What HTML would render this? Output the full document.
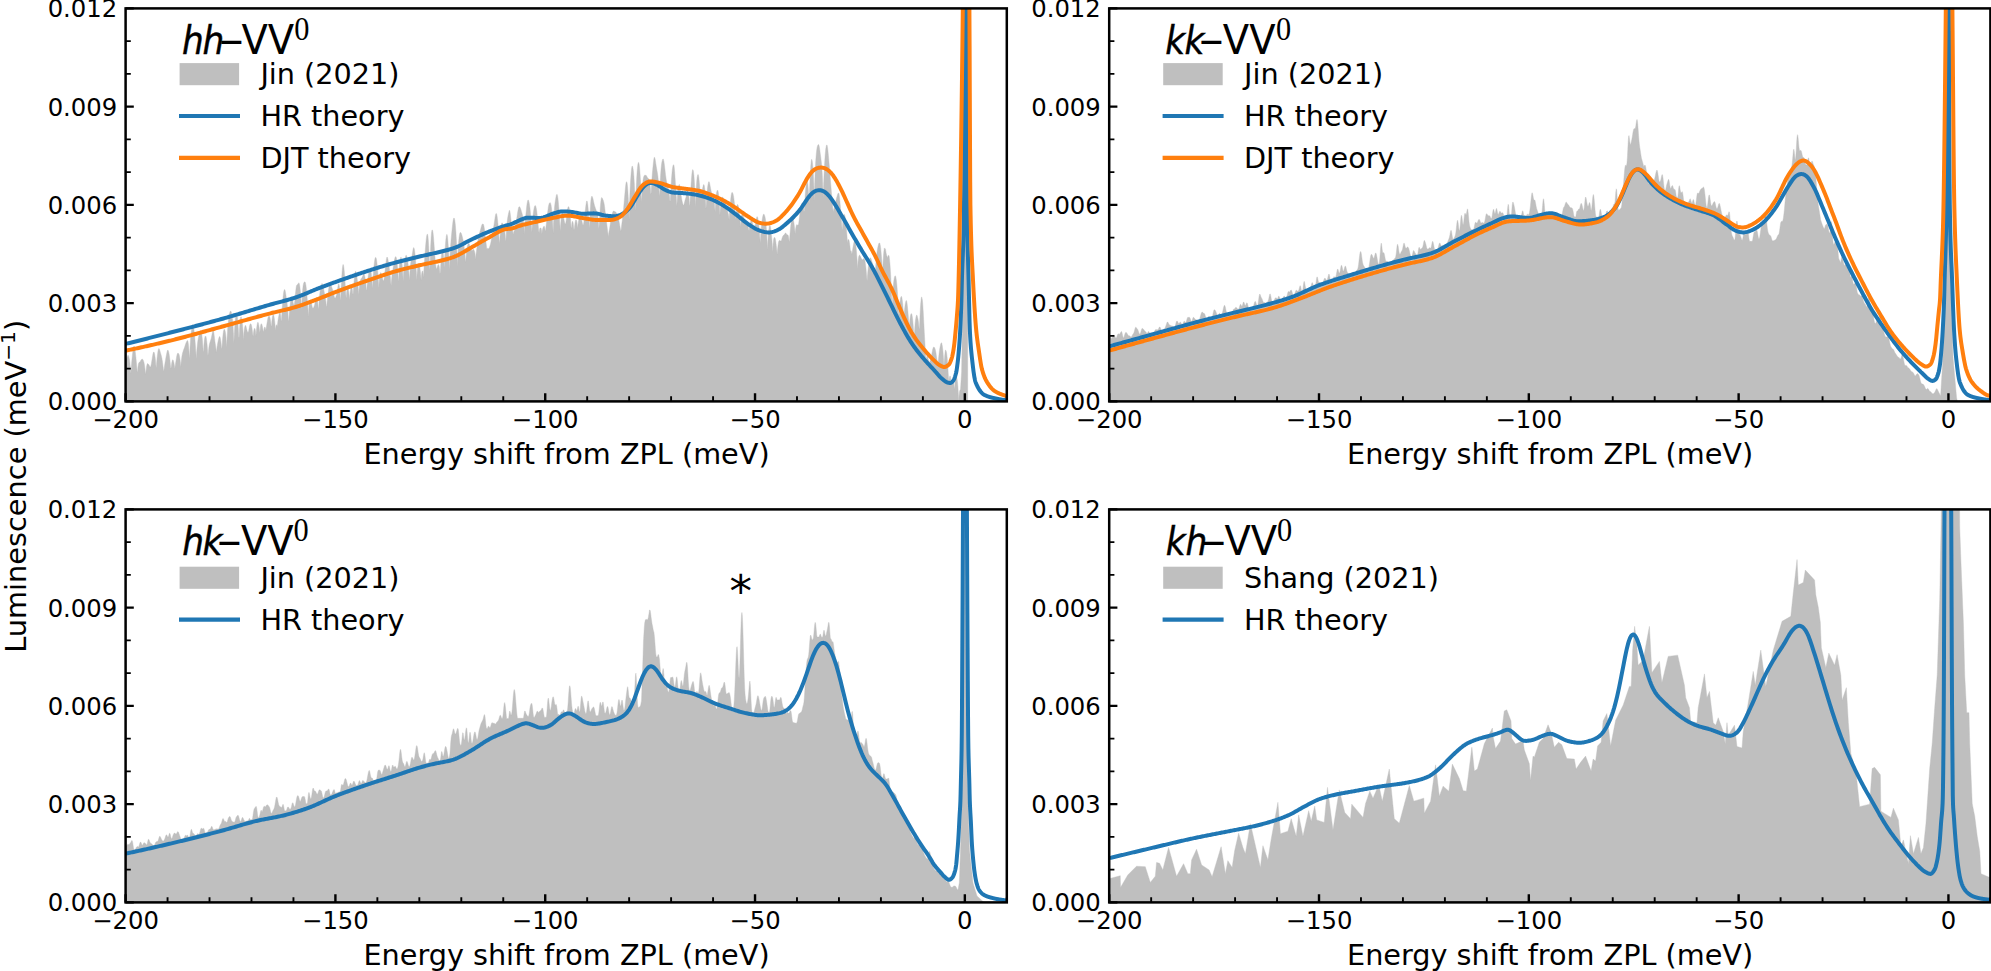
<!DOCTYPE html>
<html lang="en"><head><meta charset="utf-8"><title>Luminescence lineshapes</title>
<style>html,body{margin:0;padding:0;background:#fff}svg{display:block}text{font-family:'DejaVu Sans','Liberation Sans',sans-serif;fill:#000}</style></head><body>
<svg width="1991" height="971" viewBox="0 0 1991 971">
<rect width="1991" height="971" fill="#fff"/>
<defs>
<clipPath id="c00"><rect x="125.6" y="8.4" width="881.2" height="393"/></clipPath>
<clipPath id="c01"><rect x="1109.2" y="8.4" width="881.2" height="393"/></clipPath>
<clipPath id="c10"><rect x="125.6" y="509.4" width="881.2" height="393"/></clipPath>
<clipPath id="c11"><rect x="1109.2" y="509.4" width="881.2" height="393"/></clipPath>
</defs>
<g clip-path="url(#c00)">
<path d="M125.51,360.62L125.91,360.29L126.31,359.57L126.71,358.45L127.11,357.14L127.51,355.98L127.91,355.36L128.31,355.54L128.71,356.47L129.11,357.99L129.51,360L129.91,362.77L130.31,366.85L130.71,373.45L131.11,370.08L131.51,364.52L131.91,359.94L132.31,356.01L132.71,352.65L133.11,349.84L133.51,347.61L133.91,346.32L134.31,346.41L134.71,347.94L135.11,350.6L135.51,353.91L135.91,357.55L136.31,361.49L136.71,365.9L137.11,371.2L137.51,371.63L137.91,367.4L138.31,364.66L138.71,363.02L139.11,362.4L139.51,362.33L139.91,362.11L140.31,361.43L140.71,360.59L141.11,359.94L141.51,359.5L141.91,359.19L142.31,359.1L142.71,359.38L143.11,360.02L143.51,360.93L143.91,362.22L144.31,364.1L144.71,366.66L145.11,369.89L145.51,374.2L145.91,372.02L146.31,368.4L146.71,365.87L147.11,364.25L147.51,363.58L147.91,363.65L148.31,364.08L148.71,364.6L149.11,365.2L149.51,365.99L149.91,366.78L150.31,367.11L150.71,366.48L151.11,364.94L151.51,362.79L151.91,360.32L152.31,357.73L152.71,355.28L153.11,353.33L153.51,352.17L153.91,352L154.31,352.86L154.71,354.64L155.11,357.19L155.51,360.64L155.91,365.53L156.31,368.11L156.71,362.11L157.11,357.84L157.51,354.4L157.91,351.6L158.31,349.62L158.71,348.63L159.11,348.65L159.51,349.48L159.91,350.83L160.31,352.29L160.71,353.63L161.11,354.96L161.51,356.53L161.91,358.45L162.31,360.82L162.71,363.69L163.11,366.92L163.51,370.49L163.91,370.85L164.31,367.36L164.71,364.7L165.11,362.27L165.51,359.89L165.91,357.6L166.31,355.45L166.71,353.39L167.11,351.56L167.51,350.36L167.91,350.11L168.31,350.78L168.71,352.16L169.11,354.18L169.51,356.85L169.91,360.09L170.31,363.85L170.71,368.36L171.11,367.84L171.51,364.49L171.91,362.09L172.31,360.49L172.71,359.81L173.11,360.08L173.51,361.15L173.91,362.8L174.31,365.05L174.71,368.45L175.11,366.58L175.51,363.75L175.91,361.28L176.31,358.76L176.71,356.33L177.11,354.44L177.51,353.4L177.91,353.11L178.31,353.29L178.71,353.79L179.11,354.66L179.51,356.2L179.91,358.63L180.31,362.01L180.71,366.94L181.11,362.63L181.51,359.13L181.91,356.37L182.31,354.23L182.71,352.55L183.11,351.19L183.51,350.06L183.91,349.05L184.31,348.02L184.71,346.84L185.11,345.56L185.51,344.31L185.91,343.23L186.31,342.3L186.71,341.44L187.11,340.73L187.51,340.55L187.91,341.36L188.31,343.52L188.71,347.34L189.11,353.51L189.51,358.44L189.91,349.75L190.31,343.1L190.71,337.51L191.11,333.1L191.51,329.91L191.91,327.58L192.31,325.72L192.71,324.56L193.11,324.67L193.51,326.33L193.91,329.22L194.31,332.85L194.71,337L195.11,341.68L195.51,346.94L195.91,352.99L196.31,358.69L196.71,351.94L197.11,347.24L197.51,343.43L197.91,340.49L198.31,338.27L198.71,336.36L199.11,334.41L199.51,332.57L199.91,331.22L200.31,330.56L200.71,330.57L201.11,331.3L201.51,332.85L201.91,335.31L202.31,338.84L202.71,343.68L203.11,350.46L203.51,352.06L203.91,345L204.31,340.6L204.71,337.9L205.11,336.44L205.51,335.96L205.91,336.47L206.31,338.12L206.71,340.96L207.11,344.87L207.51,349.64L207.91,355.45L208.31,352.92L208.71,348.76L209.11,345.81L209.51,343.79L209.91,342.43L210.31,341.29L210.71,340.07L211.11,338.71L211.51,337.07L211.91,335.07L212.31,332.83L212.71,330.88L213.11,330.03L213.51,330.84L213.91,333.2L214.31,336.43L214.71,339.73L215.11,342.64L215.51,345.29L215.91,348.2L216.31,352.27L216.71,349.56L217.11,346.67L217.51,344.19L217.91,341.98L218.31,340.14L218.71,338.62L219.11,337.35L219.51,336.55L219.91,336.68L220.31,338.07L220.71,340.57L221.11,343.79L221.51,347.73L221.91,348.47L222.31,342.42L222.71,337.53L223.11,333.75L223.51,331.14L223.91,329.7L224.31,329.3L224.71,329.73L225.11,330.9L225.51,333.09L225.91,336.61L226.31,341.56L226.71,347.02L227.11,337.98L227.51,331.29L227.91,326L228.31,321.86L228.71,318.55L229.11,315.87L229.51,313.72L229.91,312.13L230.31,311.2L230.71,311.07L231.11,311.69L231.51,312.93L231.91,314.8L232.31,317.58L232.71,321.62L233.11,327.21L233.51,334.8L233.91,342.96L234.31,333.85L234.71,327.41L235.11,322.12L235.51,317.93L235.91,315.04L236.31,313.69L236.71,313.85L237.11,315.34L237.51,318.19L237.91,322.68L238.31,328.91L238.71,337.1L239.11,337.71L239.51,329.6L239.91,323.79L240.31,319.67L240.71,317.32L241.11,316.83L241.51,317.9L241.91,320.14L242.31,323.28L242.71,327.32L243.11,332.66L243.51,339.73L243.91,332.92L244.31,329.43L244.71,327.21L245.11,325.78L245.51,325.29L245.91,325.96L246.31,327.51L246.71,329.28L247.11,330.83L247.51,331.99L247.91,332.56L248.31,332.15L248.71,330.57L249.11,328.29L249.51,326.12L249.91,324.65L250.31,323.91L250.71,323.75L251.11,324.25L251.51,325.55L251.91,327.62L252.31,330.38L252.71,334.08L253.11,336.62L253.51,332.51L253.91,330.1L254.31,328.65L254.71,328.22L255.11,329.12L255.51,331.53L255.91,336.07L256.31,331.6L256.71,327.57L257.11,324.69L257.51,322.88L257.91,322.27L258.31,322.92L258.71,324.71L259.11,327.36L259.51,330.75L259.91,332.81L260.31,327.79L260.71,324.91L261.11,323.75L261.51,323.89L261.91,324.74L262.31,326.02L262.71,327.92L263.11,330.72L263.51,331.85L263.91,329.43L264.31,327.84L264.71,327.09L265.11,327.37L265.51,328.74L265.91,330.25L266.31,327.18L266.71,324.88L267.11,322.57L267.51,320.13L267.91,318.03L268.31,316.71L268.71,316.16L269.11,316.09L269.51,316.44L269.91,317.46L270.31,319.42L270.71,322.32L271.11,326.36L271.51,325.58L271.91,320.77L272.31,317.46L272.71,315.46L273.11,314.63L273.51,314.79L273.91,316L274.31,318.38L274.71,321.78L275.11,325.85L275.51,330.22L275.91,326.66L276.31,324.99L276.71,324.64L277.11,326.38L277.51,324.47L277.91,320.95L278.31,318.42L278.71,316.3L279.11,314.35L279.51,312.74L279.91,312.04L280.31,312.9L280.71,315.77L281.11,321.37L281.51,319.46L281.91,312.58L282.31,306.72L282.71,301.41L283.11,296.76L283.51,293.19L283.91,290.88L284.31,289.72L284.71,289.57L285.11,290.49L285.51,292.45L285.91,295.04L286.31,297.74L286.71,300.45L287.11,303.51L287.51,307.41L287.91,312.46L288.31,318.85L288.71,321.6L289.11,315.38L289.51,310.83L289.91,306.97L290.31,303.59L290.71,300.84L291.11,298.98L291.51,298.04L291.91,297.95L292.31,298.71L292.71,300.32L293.11,302.49L293.51,304.48L293.91,305.34L294.31,304.41L294.71,301.59L295.11,297.48L295.51,293.07L295.91,289.24L296.31,286.58L296.71,285.16L297.11,284.67L297.51,284.53L297.91,284.14L298.31,283.39L298.71,282.82L299.11,283.13L299.51,284.61L299.91,287.19L300.31,290.7L300.71,295.16L301.11,300.91L301.51,309.38L301.91,302.79L302.31,294.73L302.71,289.16L303.11,285.65L303.51,283.72L303.91,282.71L304.31,282.12L304.71,281.85L305.11,282.08L305.51,283.1L305.91,285.17L306.31,288.34L306.71,292.43L307.11,297.27L307.51,302.77L307.91,308.87L308.31,316.49L308.71,309.66L309.11,304.77L309.51,301.75L309.91,300.35L310.31,300.12L310.71,300.66L311.11,301.82L311.51,303.51L311.91,305.49L312.31,307.23L312.71,308.22L313.11,308.3L313.51,307.68L313.91,306.75L314.31,305.69L314.71,304.3L315.11,302.44L315.51,300.4L315.91,298.75L316.31,297.78L316.71,297.65L317.11,298.55L317.51,300.62L317.91,303.93L318.31,308.77L318.71,307.37L319.11,301.57L319.51,296.68L319.91,292.76L320.31,289.73L320.71,287.31L321.11,285.33L321.51,283.97L321.91,283.43L322.31,283.79L322.71,284.91L323.11,286.55L323.51,288.44L323.91,290.47L324.31,292.53L324.71,294.52L325.11,296.55L325.51,298.93L325.91,301.93L326.31,305.83L326.71,306.81L327.11,302.33L327.51,298.48L327.91,294.88L328.31,291.52L328.71,288.59L329.11,286.38L329.51,285.02L329.91,284.4L330.31,284.32L330.71,284.7L331.11,285.45L331.51,286.47L331.91,287.66L332.31,288.84L332.71,289.95L333.11,291.25L333.51,293.01L333.91,294.99L334.31,296.74L334.71,297.86L335.11,298.18L335.51,297.71L335.91,296.75L336.31,295.56L336.71,294.16L337.11,292.2L337.51,289.56L337.91,286.74L338.31,284.56L338.71,283.71L339.11,284.58L339.51,287.42L339.91,292.47L340.31,300.47L340.71,296.8L341.11,288.75L341.51,281.2L341.91,274.39L342.31,269.06L342.71,265.67L343.11,264.39L343.51,265.16L343.91,267.79L344.31,271.94L344.71,277.22L345.11,283.14L345.51,289.26L345.91,295.56L346.31,298.31L346.71,292.12L347.11,289.04L347.51,287.95L347.91,288.13L348.31,289.24L348.71,291.47L349.11,295.16L349.51,299.85L349.91,294.52L350.31,291.16L350.71,288.8L351.11,287.25L351.51,286.6L351.91,287.14L352.31,289.24L352.71,293.55L353.11,294.23L353.51,288.21L353.91,283.25L354.31,278.83L354.71,275.18L355.11,272.63L355.51,271.38L355.91,271.54L356.31,272.97L356.71,275.34L357.11,278.25L357.51,281.43L357.91,284.87L358.31,288.89L358.71,294.78L359.11,289.28L359.51,285.6L359.91,282.92L360.31,280.94L360.71,279.55L361.11,278.71L361.51,278.21L361.91,277.78L362.31,277.11L362.71,276.09L363.11,274.95L363.51,274.12L363.91,273.97L364.31,274.58L364.71,275.89L365.11,277.91L365.51,280.68L365.91,284.33L366.31,289.41L366.71,290.3L367.11,285.72L367.51,282.22L367.91,278.86L368.31,275.55L368.71,272.71L369.11,270.69L369.51,269.46L369.91,268.91L370.31,269.05L370.71,270.16L371.11,272.35L371.51,275.71L371.91,280.54L372.31,288.21L372.71,283.82L373.11,277L373.51,271.44L373.91,266.74L374.31,262.96L374.71,260.15L375.11,258.31L375.51,257.41L375.91,257.49L376.31,258.64L376.71,260.94L377.11,264.36L377.51,268.72L377.91,273.89L378.31,279.93L378.71,287.98L379.11,282.7L379.51,277.82L379.91,274.81L380.31,273.1L380.71,272.6L381.11,273.22L381.51,274.62L381.91,276.27L382.31,277.86L382.71,279.28L383.11,280.4L383.51,280.82L383.91,279.99L384.31,277.67L384.71,274.15L385.11,270.1L385.51,266.23L385.91,262.82L386.31,259.94L386.71,257.85L387.11,257.04L387.51,257.63L387.91,259.29L388.31,261.6L388.71,264.23L389.11,266.93L389.51,269.67L389.91,272.79L390.31,276.83L390.71,282.13L391.11,285.54L391.51,280.23L391.91,276.35L392.31,273.15L392.71,270.47L393.11,268.1L393.51,265.77L393.91,263.3L394.31,260.86L394.71,258.84L395.11,257.46L395.51,256.76L395.91,256.81L396.31,257.8L396.71,259.84L397.11,262.93L397.51,267.16L397.91,272.89L398.31,281.23L398.71,277.75L399.11,270.22L399.51,264.82L399.91,261.13L400.31,258.79L400.71,257.48L401.11,257.3L401.51,258.69L401.91,261.76L402.31,266.21L402.71,272.04L403.11,280.79L403.51,274.13L403.91,267.4L404.31,263.08L404.71,260.25L405.11,258.16L405.51,256.5L405.91,255.45L406.31,255.34L406.71,256.2L407.11,257.74L407.51,259.8L407.91,262.56L408.31,266.23L408.71,270.62L409.11,275.62L409.51,280.15L409.91,272.69L410.31,267.41L410.71,263.32L411.11,260.29L411.51,258.09L411.91,256.21L412.31,254.08L412.71,251.57L413.11,249.19L413.51,247.74L413.91,247.68L414.31,249.01L414.71,251.52L415.11,255.12L415.51,259.75L415.91,265.26L416.31,271.62L416.71,279.97L417.11,274.09L417.51,269.08L417.91,265.79L418.31,264.01L418.71,263.54L419.11,264.15L419.51,265.67L419.91,268.08L420.31,271.26L420.71,275.05L421.11,280.37L421.51,275.04L421.91,272.07L422.31,270.84L422.71,271.25L423.11,273.56L423.51,277.16L423.91,269.95L424.31,263.71L424.71,257.8L425.11,252.28L425.51,247.19L425.91,242.6L426.31,238.68L426.71,235.75L427.11,234.14L427.51,234.14L427.91,236.03L428.31,240.09L428.71,246.42L429.11,254.99L429.51,266.22L429.91,269.85L430.31,255.91L430.71,245.61L431.11,237.98L431.51,232.95L431.91,230.38L432.31,229.84L432.71,230.89L433.11,233.37L433.51,237.26L433.91,242.31L434.31,247.95L434.71,253.59L435.11,258.78L435.51,263.18L435.91,266.48L436.31,268.44L436.71,268.8L437.11,267.85L437.51,266.34L437.91,265.08L438.31,264.59L438.71,264.94L439.11,266.12L439.51,268.64L439.91,273.46L440.31,272.6L440.71,265.8L441.11,259.91L441.51,255.11L441.91,251.82L442.31,250.16L442.71,250.15L443.11,251.94L443.51,255.98L443.91,262.99L444.31,267.61L444.71,257.21L445.11,249.5L445.51,243.54L445.91,239.14L446.31,236.13L446.71,234.53L447.11,234.63L447.51,236.77L447.91,240.94L448.31,246.66L448.71,253.61L449.11,262.03L449.51,269.6L449.91,258.39L450.31,250.6L450.71,244.53L451.11,239.6L451.51,235.26L451.91,231.14L452.31,227.15L452.71,223.51L453.11,220.62L453.51,218.75L453.91,217.96L454.31,218.29L454.71,219.85L455.11,222.69L455.51,226.81L455.91,232.15L456.31,238.65L456.71,246.32L457.11,255.53L457.51,266.84L457.91,254.41L458.31,246.74L458.71,241.18L459.11,237.2L459.51,234.51L459.91,232.98L460.31,232.43L460.71,232.56L461.11,233.11L461.51,233.98L461.91,235.22L462.31,236.76L462.71,238.48L463.11,240.33L463.51,242.42L463.91,244.91L464.31,247.92L464.71,251.6L465.11,256.13L465.51,262.28L465.91,259.18L466.31,253.83L466.71,250.02L467.11,247.34L467.51,245.59L467.91,244.49L468.31,243.72L468.71,243.26L469.11,243.5L469.51,244.67L469.91,246.41L470.31,248.02L470.71,249.09L471.11,249.74L471.51,250.28L471.91,250.62L472.31,250.54L472.71,249.98L473.11,249.4L473.51,249.37L473.91,249.93L474.31,250.87L474.71,252.24L475.11,254.58L475.51,259.27L475.91,255.22L476.31,252.17L476.71,249.26L477.11,246.21L477.51,243.23L477.91,240.6L478.31,238.36L478.71,236.4L479.11,234.67L479.51,233.14L479.91,231.77L480.31,230.43L480.71,228.98L481.11,227.43L481.51,225.92L481.91,224.81L482.31,224.18L482.71,223.91L483.11,223.95L483.51,224.51L483.91,225.95L484.31,228.35L484.71,231.36L485.11,234.61L485.51,238.02L485.91,241.6L486.31,245.07L486.71,248.3L487.11,249.46L487.51,248.31L487.91,248.4L488.31,248.63L488.71,248.5L489.11,247.97L489.51,247.13L489.91,246.09L490.31,244.8L490.71,243.24L491.11,241.15L491.51,238.46L491.91,235.6L492.31,233.2L492.71,231.41L493.11,229.71L493.51,227.68L493.91,225.3L494.31,222.66L494.71,219.88L495.11,217.17L495.51,214.98L495.91,213.68L496.31,213.45L496.71,214.34L497.11,216.41L497.51,219.55L497.91,223.5L498.31,228.13L498.71,233.49L499.11,239.76L499.51,243.83L499.91,237.67L500.31,233.22L500.71,229.41L501.11,226.17L501.51,223.84L501.91,222.8L502.31,222.99L502.71,223.78L503.11,224.61L503.51,225.36L503.91,226.28L504.31,227.93L504.71,230.62L505.11,234.38L505.51,239.27L505.91,241L506.31,233.08L506.71,226.89L507.11,222.25L507.51,219.08L507.91,216.58L508.31,214.57L508.71,212.66L509.11,210.98L509.51,210.16L509.91,211.5L510.31,214.15L510.71,217.62L511.11,220.94L511.51,223.5L511.91,225.53L512.31,227.73L512.71,230.71L513.11,234.54L513.51,232.71L513.91,231.77L514.31,230.71L514.71,229.44L515.11,228L515.51,226.2L515.91,223.88L516.31,221.22L516.71,218.5L517.11,215.88L517.51,213.34L517.91,210.87L518.31,208.75L518.71,207.35L519.11,206.78L519.51,206.83L519.91,207.23L520.31,207.93L520.71,209L521.11,210.31L521.51,211.64L521.91,212.97L522.31,214.47L522.71,216.36L523.11,218.82L523.51,222.03L523.91,226.33L524.31,233.68L524.71,226.7L525.11,221.93L525.51,217.86L525.91,213.95L526.31,210.01L526.71,206.35L527.11,203.39L527.51,201.3L527.91,200.11L528.31,199.98L528.71,200.9L529.11,202.57L529.51,204.78L529.91,207.66L530.31,211.41L530.71,216.02L531.11,221.36L531.51,227.58L531.91,231.96L532.31,224.09L532.71,218.56L533.11,214.5L533.51,211.52L533.91,209.13L534.31,207.23L534.71,205.98L535.11,205.53L535.51,205.85L535.91,206.82L536.31,208.47L536.71,210.96L537.11,214.32L537.51,218.26L537.91,222.38L538.31,226.56L538.71,230.99L539.11,232.68L539.51,229.63L539.91,228.37L540.31,227.92L540.71,227.92L541.11,228.5L541.51,230.09L541.91,233.83L542.31,230.25L542.71,228.63L543.11,227.62L543.51,226.84L543.91,226.26L544.31,226.26L544.71,227.38L545.11,230.27L545.51,231.04L545.91,227.48L546.31,224.35L546.71,221.12L547.11,217.57L547.51,213.81L547.91,210.22L548.31,207.24L548.71,205.13L549.11,203.86L549.51,203.12L549.91,202.69L550.31,202.76L550.71,203.66L551.11,205.48L551.51,208.28L551.91,212.2L552.31,217.36L552.71,223.77L553.11,233.06L553.51,223.6L553.91,215.95L554.31,209.92L554.71,205.46L555.11,202.23L555.51,199.66L555.91,197.38L556.31,195.5L556.71,194.42L557.11,194.46L557.51,195.7L557.91,198.13L558.31,201.8L558.71,206.61L559.11,212.24L559.51,218.48L559.91,225.39L560.31,231L560.71,224.26L561.11,219.42L561.51,215.82L561.91,213.73L562.31,213.24L562.71,214L563.11,215.45L563.51,217.15L563.91,218.96L564.31,220.91L564.71,222.78L565.11,223.95L565.51,223.79L565.91,222.15L566.31,219.35L566.71,215.99L567.11,212.6L567.51,209.66L567.91,207.61L568.31,206.69L568.71,206.83L569.11,207.83L569.51,209.68L569.91,212.58L570.31,216.59L570.71,221.67L571.11,228.05L571.51,226.81L571.91,223.29L572.31,221.51L572.71,221.36L573.11,222.83L573.51,225.63L573.91,229.52L574.31,229.22L574.71,225.13L575.11,222.28L575.51,220.52L575.91,219.72L576.31,219.91L576.71,221.28L577.11,223.87L577.51,228.18L577.91,225.28L578.31,222.3L578.71,220.31L579.11,218.69L579.51,217.14L579.91,215.88L580.31,215.33L580.71,215.68L581.11,216.85L581.51,218.68L581.91,220.86L582.31,222.97L582.71,224.5L583.11,224.96L583.51,223.96L583.91,221.57L584.31,218.39L584.71,215.06L585.11,211.78L585.51,208.46L585.91,205.22L586.31,202.55L586.71,201.04L587.11,201.07L587.51,202.7L587.91,205.84L588.31,210.37L588.71,216.32L589.11,224.22L589.51,227.63L589.91,216.98L590.31,208.8L590.71,202.6L591.11,198.61L591.51,196.64L591.91,196.15L592.31,196.65L592.71,197.8L593.11,199.37L593.51,201.18L593.91,203.05L594.31,204.75L594.71,206.17L595.11,207.37L595.51,208.48L595.91,209.57L596.31,210.69L596.71,211.7L597.11,212.53L597.51,213.69L597.91,216.18L598.31,220.83L598.71,228.43L599.11,226.05L599.51,219.21L599.91,213.01L600.31,207.34L600.71,202.63L601.11,199.38L601.51,197.77L601.91,197.53L602.31,198.13L602.71,199.07L603.11,200.1L603.51,201.23L603.91,202.69L604.31,204.86L604.71,207.78L605.11,211.15L605.51,214.46L605.91,217.47L606.31,220.34L606.71,223.4L607.11,226.75L607.51,230.11L607.91,233.18L608.31,236.67L608.71,233.4L609.11,230.99L609.51,228.89L609.91,226.53L610.31,223.73L610.71,220.76L611.11,218.15L611.51,216.17L611.91,214.7L612.31,213.44L612.71,212.31L613.11,211.46L613.51,211.05L613.91,211.06L614.31,211.34L614.71,211.64L615.11,211.83L615.51,211.95L615.91,212.21L616.31,212.78L616.71,213.48L617.11,213.99L617.51,214.42L617.91,215.25L618.31,216.91L618.71,219.22L619.11,221.72L619.51,224.07L619.91,226.29L620.31,228.52L620.71,231.08L621.11,229.79L621.51,226.5L621.91,223.31L622.31,220.15L622.71,216.91L623.11,213.39L623.51,209.38L623.91,204.85L624.31,200.13L624.71,195.46L625.11,190.96L625.51,186.9L625.91,183.76L626.31,181.99L626.71,181.75L627.11,183.18L627.51,186.41L627.91,191.49L628.31,198.68L628.71,208.72L629.11,219.24L629.51,204.07L629.91,193.66L630.31,185.57L630.71,179.02L631.11,173.56L631.51,169.26L631.91,166.63L632.31,165.95L632.71,166.92L633.11,168.96L633.51,171.96L633.91,176.43L634.31,183.03L634.71,192.04L635.11,203.73L635.51,210.69L635.91,196.53L636.31,186.07L636.71,177.91L637.11,171.79L637.51,167.33L637.91,164.13L638.31,162.41L638.71,162.42L639.11,164.13L639.51,167.32L639.91,171.83L640.31,177.65L640.71,184.61L641.11,192.4L641.51,201.81L641.91,196L642.31,188.27L642.71,183.18L643.11,179.85L643.51,177.62L643.91,176.3L644.31,175.51L644.71,175.22L645.11,175.26L645.51,175.31L645.91,175.36L646.31,175.56L646.71,176.14L647.11,177L647.51,177.8L647.91,178.32L648.31,178.61L648.71,178.95L649.11,179.69L649.51,181.15L649.91,183.64L650.31,187.52L650.71,193.74L651.11,193.27L651.51,185.48L651.91,179.3L652.31,174.09L652.71,169.55L653.11,165.42L653.51,161.7L653.91,158.8L654.31,157.27L654.71,157.5L655.11,159.2L655.51,161.62L655.91,164.16L656.31,166.66L656.71,169.09L657.11,171.34L657.51,173.57L657.91,176.38L658.31,180.38L658.71,185.79L659.11,192.89L659.51,196.25L659.91,187.21L660.31,179.82L660.71,173.49L661.11,168.36L661.51,164.58L661.91,162.08L662.31,160.45L662.71,159.36L663.11,158.97L663.51,159.65L663.91,161.52L664.31,164.24L664.71,167.52L665.11,171.05L665.51,174.5L665.91,177.61L666.31,180.22L666.71,182.26L667.11,183.8L667.51,185.22L667.91,186.87L668.31,188.86L668.71,190.97L669.11,193.22L669.51,196.15L669.91,201.15L670.31,200.68L670.71,192.28L671.11,185.15L671.51,178.97L671.91,173.83L672.31,169.87L672.71,167.1L673.11,165.38L673.51,164.67L673.91,165.36L674.31,168L674.71,172.6L675.11,178.55L675.51,184.91L675.91,191.23L676.31,197.83L676.71,206.07L677.11,201.95L677.51,195.38L677.91,190.7L678.31,187.42L678.71,185.36L679.11,184.46L679.51,184.72L679.91,186.25L680.31,188.94L680.71,192.18L681.11,195.29L681.51,197.9L681.91,200.05L682.31,201.92L682.71,203.58L683.11,204.87L683.51,205.34L683.91,204.78L684.31,203.33L684.71,201.57L685.11,200.05L685.51,198.83L685.91,197.6L686.31,196L686.71,194.01L687.11,192.04L687.51,190.83L687.91,190.94L688.31,192.5L688.71,195.37L689.11,199.52L689.51,205.83L689.91,204.56L690.31,196.59L690.71,189.92L691.11,183.86L691.51,178.3L691.91,173.72L692.31,170.75L692.71,169.61L693.11,170.08L693.51,171.92L693.91,175.26L694.31,180.47L694.71,187.86L695.11,197.89L695.51,206.72L695.91,194.84L696.31,187.04L696.71,181.46L697.11,177.67L697.51,175.39L697.91,174.39L698.31,174.75L698.71,176.76L699.11,180.34L699.51,184.7L699.91,188.71L700.31,191.6L700.71,193.28L701.11,193.91L701.51,193.54L701.91,192.17L702.31,190.13L702.71,187.99L703.11,186.11L703.51,184.79L703.91,184.56L704.31,185.85L704.71,188.8L705.11,193.33L705.51,199.57L705.91,208.49L706.31,204.44L706.71,197.15L707.11,191.9L707.51,188.05L707.91,185.19L708.31,183.07L708.71,181.85L709.11,181.78L709.51,182.86L709.91,184.72L710.31,186.89L710.71,189.04L711.11,190.95L711.51,192.4L711.91,193.37L712.31,194.02L712.71,194.52L713.11,195.03L713.51,195.93L713.91,197.91L714.31,201.58L714.71,207.36L715.11,211.72L715.51,204.05L715.91,198.49L716.31,194.51L716.71,192.02L717.11,190.64L717.51,190.11L717.91,190.66L718.31,192.61L718.71,196.07L719.11,200.84L719.51,206.76L719.91,215.09L720.31,208.47L720.71,203.59L721.11,200.37L721.51,198.48L721.91,197.57L722.31,197.24L722.71,197.26L723.11,197.73L723.51,198.79L723.91,200.27L724.31,201.75L724.71,202.98L725.11,204.05L725.51,205.13L725.91,206.22L726.31,207.22L726.71,208.22L727.11,209.4L727.51,210.84L727.91,212.39L728.31,213.99L728.71,215.98L729.11,219.72L729.51,212.57L729.91,207.5L730.31,203.23L730.71,199.32L731.11,195.89L731.51,193.53L731.91,192.5L732.31,192.48L732.71,193.08L733.11,194.25L733.51,196.14L733.91,198.78L734.31,202.15L734.71,206.38L735.11,211.87L735.51,219.59L735.91,216.25L736.31,210.85L736.71,207.38L737.11,205.37L737.51,204.51L737.91,204.73L738.31,206.11L738.71,208.61L739.11,211.89L739.51,215.74L739.91,220.37L740.31,226.82L740.71,222.09L741.11,217.97L741.51,215.51L741.91,214.47L742.31,214.34L742.71,214.71L743.11,215.37L743.51,216.27L743.91,217.55L744.31,219.33L744.71,221.39L745.11,223.1L745.51,223.93L745.91,223.83L746.31,223.38L746.71,223.26L747.11,223.81L747.51,224.88L747.91,226.12L748.31,227.47L748.71,229.72L749.11,230.77L749.51,226.69L749.91,224.24L750.31,222.57L750.71,221.34L751.11,220.55L751.51,220.36L751.91,220.9L752.31,222.18L752.71,224.04L753.11,226.07L753.51,227.65L753.91,228.24L754.31,227.83L754.71,226.8L755.11,225.41L755.51,223.6L755.91,221.36L756.31,219.06L756.71,217.31L757.11,216.64L757.51,217.12L757.91,218.59L758.31,220.92L758.71,224.05L759.11,227.94L759.51,232.71L759.91,238.83L760.31,242.76L760.71,234.8L761.11,229.02L761.51,224.63L761.91,221.36L762.31,218.76L762.71,216.63L763.11,215.04L763.51,214.19L763.91,214.15L764.31,214.81L764.71,215.91L765.11,217.4L765.51,219.68L765.91,223.19L766.31,228.06L766.71,234.07L767.11,241.46L767.51,249.41L767.91,240.41L768.31,234.76L768.71,230.58L769.11,227.6L769.51,225.86L769.91,225.34L770.31,226.24L770.71,228.43L771.11,231.66L771.51,235.65L771.91,240.2L772.31,245.43L772.71,251.9L773.11,244.21L773.51,240.31L773.91,238.3L774.31,237.48L774.71,237.44L775.11,238.15L775.51,239.79L775.91,242.38L776.31,245.64L776.71,249.36L777.11,254.17L777.51,250L777.91,246.24L778.31,243.34L778.71,241.42L779.11,240.55L779.51,240.42L779.91,240.57L780.31,240.82L780.71,241.1L781.11,241.02L781.51,240.23L781.91,238.83L782.31,237.41L782.71,236.38L783.11,235.74L783.51,235.32L783.91,234.99L784.31,234.62L784.71,234.02L785.11,233.35L785.51,233L785.91,233.18L786.31,233.82L786.71,234.47L787.11,234.81L787.51,234.87L787.91,234.99L788.31,235.83L788.71,237.85L789.11,241.49L789.51,240.15L789.91,235.01L790.31,230.4L790.71,226.36L791.11,222.98L791.51,220.25L791.91,218.23L792.31,217.23L792.71,217.42L793.11,218.65L793.51,220.55L793.91,222.86L794.31,225.66L794.71,229.11L795.11,233.75L795.51,229.89L795.91,227.14L796.31,225.57L796.71,224.77L797.11,224.66L797.51,225.11L797.91,225.56L798.31,225.12L798.71,223.25L799.11,220.26L799.51,216.88L799.91,213.6L800.31,210.62L800.71,207.98L801.11,205.77L801.51,204.21L801.91,203.34L802.31,203.03L802.71,203.12L803.11,204.02L803.51,206.56L803.91,211.84L804.31,210.68L804.71,202.88L805.11,196.61L805.51,191.35L805.91,187.04L806.31,183.64L806.71,181.42L807.11,180.69L807.51,181.7L807.91,184.62L808.31,189.56L808.71,197.38L809.11,204.05L809.51,191.26L809.91,181.7L810.31,173.47L810.71,166.7L811.11,161.94L811.51,159.58L811.91,159.56L812.31,161.52L812.71,165.13L813.11,170.35L813.51,177.45L813.91,187.03L814.31,200.25L814.71,183.75L815.11,173L815.51,164.82L815.91,158.55L816.31,153.65L816.71,149.96L817.11,147.46L817.51,145.92L817.91,145.03L818.31,144.55L818.71,144.76L819.11,145.93L819.51,148.09L819.91,150.97L820.31,154.05L820.71,157.08L821.11,160.17L821.51,163.74L821.91,168.54L822.31,175.09L822.71,183.9L823.11,196.91L823.51,187.63L823.91,177.82L824.31,169.28L824.71,161.82L825.11,155.72L825.51,151.15L825.91,147.97L826.31,145.87L826.71,144.88L827.11,145.34L827.51,147.32L827.91,150.51L828.31,154.42L828.71,158.81L829.11,163.54L829.51,168.44L829.91,173.45L830.31,178.48L830.71,183.53L831.11,188.51L831.51,193.27L831.91,197.89L832.31,202.26L832.71,206.61L833.11,211.8L833.51,209.72L833.91,208.62L834.31,207.65L834.71,206.45L835.11,204.85L835.51,202.78L835.91,200.67L836.31,198.89L836.71,197.46L837.11,196.14L837.51,194.83L837.91,193.69L838.31,193.01L838.71,193.12L839.11,194.52L839.51,197.44L839.91,201.38L840.31,205.87L840.71,210.52L841.11,215.38L841.51,220.81L841.91,227.55L842.31,229.91L842.71,223.24L843.11,218.81L843.51,215.92L843.91,214.57L844.31,214.49L844.71,215.25L845.11,216.65L845.51,218.9L845.91,222.31L846.31,226.72L846.71,231.92L847.11,237.86L847.51,242.96L847.91,240.27L848.31,239.42L848.71,239.62L849.11,240.82L849.51,243.02L849.91,246.12L850.31,249.76L850.71,251.27L851.11,250.84L851.51,252.66L851.91,254.04L852.31,251.52L852.71,249.08L853.11,246.62L853.51,244.34L853.91,242.4L854.31,241.21L854.71,240.78L855.11,241.19L855.51,242.75L855.91,245.53L856.31,249.48L856.71,254.48L857.11,260.58L857.51,268.87L857.91,263.52L858.31,259.33L858.71,256.77L859.11,255.46L859.51,255.1L859.91,255.39L860.31,256.16L860.71,257.11L861.11,257.99L861.51,258.73L861.91,259.27L862.31,259.65L862.71,259.67L863.11,259.33L863.51,258.82L863.91,258.45L864.31,258.73L864.71,259.84L865.11,261.79L865.51,264.52L865.91,267.77L866.31,271.76L866.71,276.88L867.11,281L867.51,275.17L867.91,270.91L868.31,267.25L868.71,264.1L869.11,261.61L869.51,259.8L869.91,258.51L870.31,257.85L870.71,257.98L871.11,258.89L871.51,260.23L871.91,261.57L872.31,262.77L872.71,263.85L873.11,264.92L873.51,266.25L873.91,268.12L874.31,270.8L874.71,274.63L875.11,277.15L875.51,269.62L875.91,263.58L876.31,258.57L876.71,254.58L877.11,251.45L877.51,248.97L877.91,246.89L878.31,245.14L878.71,243.8L879.11,243.02L879.51,242.94L879.91,243.67L880.31,245.5L880.71,248.43L881.11,252.46L881.51,257.29L881.91,262.16L882.31,267.28L882.71,271.43L883.11,261.79L883.51,255.23L883.91,250.95L884.31,248.41L884.71,247.92L885.11,248.69L885.51,249.13L885.91,251.97L886.31,254.01L886.71,255.57L887.11,256.76L887.51,257.63L887.91,256.32L888.31,255.42L888.71,255.24L889.11,256.34L889.51,259.16L889.91,263.41L890.31,269.04L890.71,275.69L891.11,283.18L891.51,291.71L891.91,301.85L892.31,305.13L892.71,295.14L893.11,288.31L893.51,283.62L893.91,280.22L894.31,277.94L894.71,276.43L895.11,275.74L895.51,276.1L895.91,277.5L896.31,280.05L896.71,283.61L897.11,288.02L897.51,293.25L897.91,299.28L898.31,306.09L898.71,313.97L899.11,314.33L899.51,307.46L899.91,302.81L900.31,299.64L900.71,297.58L901.11,296.49L901.51,296.51L901.91,297.83L902.31,300.43L902.71,304.1L903.11,308.63L903.51,314.03L903.91,318.6L904.31,312.23L904.71,308.08L905.11,305.03L905.51,302.64L905.91,301.08L906.31,300.41L906.71,301.28L907.11,303.79L907.51,307.27L907.91,311.61L908.31,316.3L908.71,322.08L909.11,331.86L909.51,324.02L909.91,319.72L910.31,316.81L910.71,314.77L911.11,313.64L911.51,313.76L911.91,314.64L912.31,316.76L912.71,320.02L913.11,324.54L913.51,330.58L913.91,338.8L914.31,336.43L914.71,329.11L915.11,323.77L915.51,320.06L915.91,317.45L916.31,315.85L916.71,315.07L917.11,315.43L917.51,317.31L917.91,318.74L918.31,321.11L918.71,324.18L919.11,328.67L919.51,328.12L919.91,317.75L920.31,309.61L920.71,303.71L921.11,299.81L921.51,296.88L921.91,297.67L922.31,299.45L922.71,303.45L923.11,309.64L923.51,316.65L923.91,324.52L924.31,332.39L924.71,339.66L925.11,346.59L925.51,353.99L925.91,360.14L926.31,357.97L926.71,356.7L927.11,356.1L927.51,356.49L927.91,357.65L928.31,359.42L928.71,361.1L929.11,362.08L929.51,362.18L929.91,361.33L930.31,360.2L930.71,358.87L931.11,357.29L931.51,355.46L931.91,353.39L932.31,351.25L932.71,349.36L933.11,347.96L933.51,347.15L933.91,346.98L934.31,347.34L934.71,348.04L935.11,348.99L935.51,350.45L935.91,352.62L936.31,355.32L936.71,358.07L937.11,360.68L937.51,363.63L937.91,367.19L938.31,361.22L938.71,356.88L939.11,353.26L939.51,350.24L939.91,347.79L940.31,345.77L940.71,344.08L941.11,342.93L941.51,342.76L941.91,343.79L942.31,345.89L942.71,348.93L943.11,353.08L943.51,358.68L943.91,366.9L944.31,360.97L944.71,355.71L945.11,352.14L945.51,349.99L945.91,350.37L946.31,351.62L946.71,353.84L947.11,357.32L947.51,362.17L947.91,368.01L948.31,374.67L948.71,381.58L949.11,380.23L949.51,377.36L949.91,375.88L950.31,376.34L950.71,378.88L951.11,383.64L951.51,384.13L951.91,381.1L952.31,378.81L952.71,377.55L953.11,377.72L953.51,379.47L953.91,383.12L954.31,389.06L954.71,386.31L955.11,381.68L955.51,378.41L955.91,376.78L956.31,376.41L956.71,377.15L957.11,379.01L957.51,382.26L957.91,386.76L958.31,393.2L958.71,401.4L959.11,395.28L959.51,391.85L959.91,390.15L960.31,389.79L960.5,389.79L961.6,372L962.8,300L964,150L965,-50L967.7,-50L967.7,401.4L967.7,401.4L125.51,401.4Z" fill="#bfbfbf" stroke="#bfbfbf" stroke-width="0.4" stroke-linejoin="round"/>
<path d="M125.51,343.74L126.51,343.59L127.51,343.4L128.51,343.18L129.51,342.94L130.51,342.69L131.51,342.45L132.51,342.2L133.51,341.95L134.51,341.7L135.51,341.45L136.51,341.2L137.51,340.95L138.51,340.7L139.51,340.45L140.51,340.2L141.51,339.95L142.51,339.7L143.51,339.44L144.51,339.19L145.51,338.94L146.51,338.69L147.51,338.44L148.51,338.18L149.51,337.93L150.51,337.68L151.51,337.42L152.51,337.17L153.51,336.92L154.51,336.66L155.51,336.41L156.51,336.15L157.51,335.9L158.51,335.64L159.51,335.38L160.51,335.13L161.51,334.87L162.51,334.62L163.51,334.36L164.51,334.1L165.51,333.84L166.51,333.59L167.51,333.33L168.51,333.07L169.51,332.81L170.51,332.55L171.51,332.3L172.51,332.04L173.51,331.78L174.51,331.52L175.51,331.26L176.51,331L177.51,330.74L178.51,330.49L179.51,330.23L180.51,329.97L181.51,329.71L182.51,329.45L183.51,329.19L184.51,328.93L185.51,328.67L186.51,328.41L187.51,328.15L188.51,327.89L189.51,327.63L190.51,327.37L191.51,327.11L192.51,326.84L193.51,326.58L194.51,326.32L195.51,326.06L196.51,325.79L197.51,325.53L198.51,325.26L199.51,325L200.51,324.73L201.51,324.47L202.51,324.2L203.51,323.93L204.51,323.67L205.51,323.4L206.51,323.13L207.51,322.86L208.51,322.59L209.51,322.32L210.51,322.05L211.51,321.78L212.51,321.5L213.51,321.23L214.51,320.96L215.51,320.68L216.51,320.41L217.51,320.13L218.51,319.85L219.51,319.57L220.51,319.29L221.51,319.01L222.51,318.73L223.51,318.45L224.51,318.16L225.51,317.88L226.51,317.59L227.51,317.3L228.51,317.01L229.51,316.72L230.51,316.43L231.51,316.13L232.51,315.84L233.51,315.54L234.51,315.25L235.51,314.95L236.51,314.65L237.51,314.36L238.51,314.06L239.51,313.76L240.51,313.46L241.51,313.16L242.51,312.86L243.51,312.56L244.51,312.26L245.51,311.96L246.51,311.66L247.51,311.36L248.51,311.05L249.51,310.75L250.51,310.45L251.51,310.15L252.51,309.85L253.51,309.55L254.51,309.25L255.51,308.95L256.51,308.65L257.51,308.35L258.51,308.06L259.51,307.76L260.51,307.46L261.51,307.17L262.51,306.87L263.51,306.58L264.51,306.28L265.51,305.99L266.51,305.7L267.51,305.41L268.51,305.12L269.51,304.83L270.51,304.55L271.51,304.27L272.51,303.99L273.51,303.71L274.51,303.44L275.51,303.17L276.51,302.9L277.51,302.64L278.51,302.37L279.51,302.11L280.51,301.85L281.51,301.58L282.51,301.31L283.51,301.05L284.51,300.78L285.51,300.5L286.51,300.23L287.51,299.95L288.51,299.66L289.51,299.38L290.51,299.08L291.51,298.78L292.51,298.47L293.51,298.16L294.51,297.84L295.51,297.51L296.51,297.17L297.51,296.82L298.51,296.46L299.51,296.08L300.51,295.71L301.51,295.32L302.51,294.92L303.51,294.52L304.51,294.11L305.51,293.7L306.51,293.29L307.51,292.87L308.51,292.45L309.51,292.02L310.51,291.6L311.51,291.18L312.51,290.76L313.51,290.34L314.51,289.92L315.51,289.51L316.51,289.1L317.51,288.7L318.51,288.3L319.51,287.91L320.51,287.52L321.51,287.14L322.51,286.76L323.51,286.38L324.51,286.01L325.51,285.64L326.51,285.27L327.51,284.9L328.51,284.54L329.51,284.18L330.51,283.81L331.51,283.45L332.51,283.09L333.51,282.73L334.51,282.38L335.51,282.02L336.51,281.66L337.51,281.31L338.51,280.95L339.51,280.6L340.51,280.24L341.51,279.89L342.51,279.53L343.51,279.18L344.51,278.83L345.51,278.48L346.51,278.13L347.51,277.77L348.51,277.42L349.51,277.08L350.51,276.73L351.51,276.38L352.51,276.03L353.51,275.69L354.51,275.34L355.51,275L356.51,274.66L357.51,274.32L358.51,273.98L359.51,273.64L360.51,273.31L361.51,272.97L362.51,272.64L363.51,272.31L364.51,271.98L365.51,271.65L366.51,271.32L367.51,271L368.51,270.67L369.51,270.35L370.51,270.03L371.51,269.71L372.51,269.4L373.51,269.08L374.51,268.76L375.51,268.45L376.51,268.14L377.51,267.83L378.51,267.52L379.51,267.21L380.51,266.9L381.51,266.6L382.51,266.29L383.51,265.99L384.51,265.69L385.51,265.39L386.51,265.1L387.51,264.81L388.51,264.51L389.51,264.23L390.51,263.94L391.51,263.66L392.51,263.37L393.51,263.1L394.51,262.82L395.51,262.55L396.51,262.27L397.51,262.01L398.51,261.74L399.51,261.48L400.51,261.22L401.51,260.96L402.51,260.7L403.51,260.45L404.51,260.19L405.51,259.94L406.51,259.69L407.51,259.44L408.51,259.2L409.51,258.95L410.51,258.71L411.51,258.46L412.51,258.22L413.51,257.98L414.51,257.74L415.51,257.5L416.51,257.26L417.51,257.02L418.51,256.78L419.51,256.54L420.51,256.3L421.51,256.07L422.51,255.83L423.51,255.6L424.51,255.38L425.51,255.15L426.51,254.93L427.51,254.71L428.51,254.49L429.51,254.27L430.51,254.05L431.51,253.83L432.51,253.61L433.51,253.39L434.51,253.17L435.51,252.95L436.51,252.73L437.51,252.5L438.51,252.27L439.51,252.03L440.51,251.79L441.51,251.55L442.51,251.3L443.51,251.05L444.51,250.8L445.51,250.53L446.51,250.27L447.51,250L448.51,249.72L449.51,249.44L450.51,249.15L451.51,248.84L452.51,248.53L453.51,248.19L454.51,247.84L455.51,247.47L456.51,247.07L457.51,246.65L458.51,246.2L459.51,245.73L460.51,245.23L461.51,244.73L462.51,244.2L463.51,243.67L464.51,243.14L465.51,242.6L466.51,242.07L467.51,241.54L468.51,241.02L469.51,240.52L470.51,240.02L471.51,239.53L472.51,239.05L473.51,238.57L474.51,238.09L475.51,237.61L476.51,237.13L477.51,236.66L478.51,236.19L479.51,235.72L480.51,235.26L481.51,234.81L482.51,234.36L483.51,233.92L484.51,233.48L485.51,233.06L486.51,232.64L487.51,232.23L488.51,231.83L489.51,231.43L490.51,231.04L491.51,230.65L492.51,230.26L493.51,229.88L494.51,229.5L495.51,229.12L496.51,228.76L497.51,228.39L498.51,228.04L499.51,227.69L500.51,227.34L501.51,227.01L502.51,226.68L503.51,226.36L504.51,226.06L505.51,225.76L506.51,225.47L507.51,225.19L508.51,224.91L509.51,224.62L510.51,224.3L511.51,223.94L512.51,223.54L513.51,223.11L514.51,222.64L515.51,222.16L516.51,221.68L517.51,221.2L518.51,220.74L519.51,220.29L520.51,219.86L521.51,219.44L522.51,219.03L523.51,218.64L524.51,218.31L525.51,218.03L526.51,217.83L527.51,217.71L528.51,217.65L529.51,217.64L530.51,217.66L531.51,217.69L532.51,217.74L533.51,217.79L534.51,217.85L535.51,217.9L536.51,217.94L537.51,217.98L538.51,217.99L539.51,217.97L540.51,217.9L541.51,217.78L542.51,217.59L543.51,217.33L544.51,217.01L545.51,216.64L546.51,216.24L547.51,215.82L548.51,215.4L549.51,214.98L550.51,214.58L551.51,214.2L552.51,213.85L553.51,213.51L554.51,213.19L555.51,212.87L556.51,212.56L557.51,212.26L558.51,212L559.51,211.77L560.51,211.6L561.51,211.47L562.51,211.4L563.51,211.38L564.51,211.39L565.51,211.43L566.51,211.49L567.51,211.56L568.51,211.65L569.51,211.74L570.51,211.85L571.51,211.96L572.51,212.09L573.51,212.24L574.51,212.41L575.51,212.61L576.51,212.81L577.51,213.03L578.51,213.23L579.51,213.41L580.51,213.55L581.51,213.65L582.51,213.72L583.51,213.74L584.51,213.74L585.51,213.71L586.51,213.67L587.51,213.62L588.51,213.57L589.51,213.52L590.51,213.47L591.51,213.42L592.51,213.39L593.51,213.37L594.51,213.38L595.51,213.44L596.51,213.54L597.51,213.7L598.51,213.91L599.51,214.16L600.51,214.42L601.51,214.7L602.51,214.95L603.51,215.19L604.51,215.38L605.51,215.55L606.51,215.69L607.51,215.8L608.51,215.91L609.51,216L610.51,216.08L611.51,216.15L612.51,216.2L613.51,216.22L614.51,216.2L615.51,216.13L616.51,216L617.51,215.78L618.51,215.49L619.51,215.14L620.51,214.73L621.51,214.26L622.51,213.75L623.51,213.17L624.51,212.52L625.51,211.8L626.51,210.98L627.51,210.08L628.51,209.08L629.51,207.97L630.51,206.73L631.51,205.34L632.51,203.81L633.51,202.17L634.51,200.45L635.51,198.72L636.51,197.02L637.51,195.36L638.51,193.76L639.51,192.22L640.51,190.74L641.51,189.34L642.51,188.05L643.51,186.88L644.51,185.87L645.51,185L646.51,184.27L647.51,183.69L648.51,183.25L649.51,182.98L650.51,182.87L651.51,182.91L652.51,183.08L653.51,183.35L654.51,183.7L655.51,184.11L656.51,184.57L657.51,185.07L658.51,185.63L659.51,186.25L660.51,186.91L661.51,187.6L662.51,188.28L663.51,188.94L664.51,189.53L665.51,190.07L666.51,190.55L667.51,190.98L668.51,191.36L669.51,191.7L670.51,191.99L671.51,192.23L672.51,192.41L673.51,192.56L674.51,192.66L675.51,192.75L676.51,192.81L677.51,192.87L678.51,192.92L679.51,192.97L680.51,193.02L681.51,193.07L682.51,193.12L683.51,193.18L684.51,193.25L685.51,193.33L686.51,193.42L687.51,193.52L688.51,193.63L689.51,193.75L690.51,193.88L691.51,194.02L692.51,194.17L693.51,194.32L694.51,194.48L695.51,194.65L696.51,194.83L697.51,195.03L698.51,195.23L699.51,195.46L700.51,195.7L701.51,195.95L702.51,196.23L703.51,196.52L704.51,196.83L705.51,197.15L706.51,197.48L707.51,197.83L708.51,198.19L709.51,198.56L710.51,198.94L711.51,199.34L712.51,199.76L713.51,200.21L714.51,200.67L715.51,201.15L716.51,201.65L717.51,202.17L718.51,202.7L719.51,203.24L720.51,203.8L721.51,204.37L722.51,204.96L723.51,205.56L724.51,206.18L725.51,206.82L726.51,207.49L727.51,208.17L728.51,208.87L729.51,209.58L730.51,210.3L731.51,211.04L732.51,211.78L733.51,212.53L734.51,213.28L735.51,214.05L736.51,214.83L737.51,215.63L738.51,216.45L739.51,217.28L740.51,218.12L741.51,218.95L742.51,219.78L743.51,220.6L744.51,221.39L745.51,222.16L746.51,222.9L747.51,223.61L748.51,224.3L749.51,224.98L750.51,225.64L751.51,226.3L752.51,226.93L753.51,227.55L754.51,228.14L755.51,228.69L756.51,229.21L757.51,229.69L758.51,230.11L759.51,230.49L760.51,230.84L761.51,231.15L762.51,231.43L763.51,231.69L764.51,231.92L765.51,232.12L766.51,232.27L767.51,232.38L768.51,232.42L769.51,232.4L770.51,232.31L771.51,232.15L772.51,231.93L773.51,231.65L774.51,231.31L775.51,230.94L776.51,230.53L777.51,230.07L778.51,229.56L779.51,228.98L780.51,228.33L781.51,227.61L782.51,226.84L783.51,226.03L784.51,225.2L785.51,224.36L786.51,223.5L787.51,222.63L788.51,221.75L789.51,220.84L790.51,219.92L791.51,218.97L792.51,217.99L793.51,216.99L794.51,215.96L795.51,214.9L796.51,213.81L797.51,212.68L798.51,211.5L799.51,210.26L800.51,208.96L801.51,207.59L802.51,206.15L803.51,204.66L804.51,203.16L805.51,201.64L806.51,200.14L807.51,198.67L808.51,197.27L809.51,195.98L810.51,194.81L811.51,193.77L812.51,192.87L813.51,192.11L814.51,191.48L815.51,190.99L816.51,190.63L817.51,190.39L818.51,190.26L819.51,190.23L820.51,190.32L821.51,190.52L822.51,190.83L823.51,191.26L824.51,191.82L825.51,192.51L826.51,193.33L827.51,194.29L828.51,195.37L829.51,196.54L830.51,197.81L831.51,199.16L832.51,200.59L833.51,202.09L834.51,203.65L835.51,205.25L836.51,206.9L837.51,208.59L838.51,210.29L839.51,212.01L840.51,213.72L841.51,215.42L842.51,217.12L843.51,218.81L844.51,220.52L845.51,222.25L846.51,224.01L847.51,225.8L848.51,227.61L849.51,229.42L850.51,231.22L851.51,233L852.51,234.74L853.51,236.45L854.51,238.15L855.51,239.84L856.51,241.54L857.51,243.24L858.51,244.95L859.51,246.66L860.51,248.36L861.51,250.04L862.51,251.68L863.51,253.3L864.51,254.9L865.51,256.47L866.51,258.05L867.51,259.63L868.51,261.23L869.51,262.85L870.51,264.5L871.51,266.21L872.51,267.96L873.51,269.77L874.51,271.62L875.51,273.52L876.51,275.44L877.51,277.39L878.51,279.36L879.51,281.34L880.51,283.33L881.51,285.33L882.51,287.33L883.51,289.34L884.51,291.36L885.51,293.38L886.51,295.42L887.51,297.46L888.51,299.5L889.51,301.54L890.51,303.59L891.51,305.64L892.51,307.7L893.51,309.76L894.51,311.82L895.51,313.86L896.51,315.89L897.51,317.9L898.51,319.88L899.51,321.83L900.51,323.75L901.51,325.64L902.51,327.5L903.51,329.34L904.51,331.16L905.51,332.94L906.51,334.7L907.51,336.43L908.51,338.12L909.51,339.76L910.51,341.36L911.51,342.9L912.51,344.4L913.51,345.85L914.51,347.25L915.51,348.62L916.51,349.95L917.51,351.25L918.51,352.52L919.51,353.77L920.51,355L921.51,356.21L922.51,357.4L923.51,358.57L924.51,359.72L925.51,360.85L926.51,361.96L927.51,363.06L928.51,364.14L929.51,365.22L930.51,366.29L931.51,367.36L932.51,368.43L933.51,369.51L934.51,370.6L935.51,371.72L936.51,372.87L937.51,374.05L938.51,375.22L939.51,376.32L940.51,377.35L941.51,378.29L942,378.72L942.2,378.88L942.4,379.05L942.6,379.22L942.8,379.39L943,379.56L943.2,379.72L943.4,379.89L943.6,380.06L943.8,380.23L944,380.39L944.2,380.55L944.4,380.71L944.6,380.87L944.8,381.02L945,381.17L945.2,381.31L945.4,381.45L945.6,381.59L945.8,381.71L946,381.84L946.2,381.95L946.4,382.06L946.6,382.16L946.8,382.25L947,382.33L947.2,382.41L947.4,382.47L947.6,382.53L947.8,382.58L948,382.64L948.2,382.69L948.4,382.74L948.6,382.79L948.8,382.83L949,382.87L949.2,382.91L949.4,382.94L949.6,382.97L949.8,382.98L950,383L950.2,383L950.4,382.99L950.6,382.94L950.8,382.88L951,382.79L951.2,382.67L951.4,382.54L951.6,382.38L951.8,382.21L952,382.02L952.2,381.82L952.4,381.61L952.6,381.38L952.8,381.15L953,380.9L953.2,380.65L953.4,380.4L953.6,380.12L953.8,379.79L954,379.41L954.2,378.99L954.4,378.52L954.6,378.01L954.8,377.45L955,376.86L955.2,376.22L955.4,375.55L955.6,374.83L955.8,374.09L956,373.3L956.2,372.47L956.4,371.48L956.6,370.32L956.8,369.04L957,367.63L957.2,366.13L957.4,364.56L957.6,362.93L957.8,361.25L958,359.43L958.2,357.47L958.4,355.37L958.6,353.15L958.8,350.81L959,348.36L959.2,345.81L959.4,343.16L959.6,340.35L959.8,337.35L960,334.12L960.2,330.62L960.4,326.8L960.6,322.51L960.8,317.64L961,312.24L961.2,306.35L961.4,300L961.6,292.43L961.8,284L962,276.36L962.2,270.01L962.4,264.55L962.6,259.6L962.8,254.73L963,249.56L963.2,243.68L963.4,236.68L963.6,228.17L963.8,217.75L964,205L964.2,179.43L964.4,134.47L964.6,75.62L964.8,8.4L965,-83.78L965.2,-200L965.4,-361.22L965.6,-361.22L965.8,-200L966,-83.78L966.2,8.4L966.4,75.06L966.6,132.97L966.8,177.74L967,205L967.2,220.33L967.4,232.69L967.6,242.7L967.8,251.02L968,258.27L968.2,265.09L968.4,272.12L968.6,280L968.8,288.81L969,297.91L969.2,306.89L969.4,315.29L969.6,322.7L969.8,328.68L970,333.02L970.2,336.74L970.4,340.1L970.6,343.12L970.8,345.86L971,348.34L971.2,350.62L971.4,352.72L971.6,354.7L971.8,356.6L972,358.45L972.2,360.28L972.4,362.08L972.6,363.83L972.8,365.55L973,367.22L973.2,368.83L973.4,370.39L973.6,371.89L973.8,373.31L974,374.66L974.2,375.94L974.4,377.13L974.6,378.22L974.8,379.23L975,380.14L975.2,380.94L975.4,381.63L975.6,382.2L975.8,382.71L976,383.21L976.2,383.69L976.4,384.16L976.6,384.62L976.8,385.07L977,385.51L977.2,385.94L977.4,386.35L977.6,386.75L977.8,387.15L978,387.53L978.2,387.9L978.4,388.26L978.6,388.61L978.8,388.95L979,389.28L979.2,389.6L979.4,389.91L979.6,390.21L979.8,390.5L980,390.78L980.2,391.06L980.4,391.32L980.6,391.57L980.8,391.82L981,392.05L981.2,392.28L981.4,392.5L981.6,392.71L981.8,392.92L982,393.11L982.2,393.3L982.4,393.48L982.6,393.65L982.8,393.82L983,393.98L983.2,394.13L983.4,394.27L983.6,394.41L983.8,394.54L984,394.66L984.2,394.78L984.4,394.89L984.6,395L984.8,395.1L985,395.2L985.2,395.3L985.4,395.39L985.6,395.49L985.8,395.58L986,395.67L986.2,395.76L986.4,395.84L986.6,395.93L986.8,396.01L987,396.09L987.2,396.17L987.4,396.24L987.6,396.32L987.8,396.39L988,396.47L988.2,396.54L988.4,396.61L988.6,396.68L988.8,396.74L989,396.81L989.2,396.87L989.4,396.93L989.6,397L989.8,397.06L990,397.11L990.2,397.17L990.4,397.23L990.6,397.28L990.8,397.34L991,397.39L991.2,397.45L991.4,397.5L991.6,397.55L991.8,397.6L992,397.65L992.2,397.7L992.4,397.75L992.6,397.79L992.8,397.84L993,397.89L993.2,397.93L993.4,397.98L993.6,398.02L993.8,398.06L994,398.11L994.2,398.15L994.4,398.19L994.6,398.24L994.8,398.28L995,398.32L995.2,398.36L995.4,398.4L995.6,398.45L995.8,398.49L996,398.53L996.2,398.57L996.4,398.61L996.6,398.65L996.8,398.7L997,398.74L997.2,398.78L997.4,398.82L997.6,398.86L997.8,398.9L998,398.95L998.2,398.99L998.4,399.03L998.6,399.07L998.8,399.11L999,399.14L999.2,399.18L999.4,399.22L999.6,399.26L999.8,399.3L1000,399.33L1000.2,399.37L1000.4,399.41L1000.6,399.44L1000.8,399.48L1001,399.51L1001.2,399.55L1001.4,399.58L1001.6,399.61L1001.8,399.65L1002,399.68L1002.2,399.71L1002.4,399.74L1002.6,399.77L1002.8,399.8L1003,399.83L1003.2,399.86L1003.4,399.89L1003.6,399.92L1003.8,399.95L1004,399.97L1004.2,400L1004.4,400.03L1004.6,400.05L1004.8,400.08L1005,400.1L1005.2,400.12L1005.4,400.15L1005.6,400.17L1005.8,400.19L1006,400.21L1006.2,400.23L1006.4,400.25L1006.6,400.26L1006.8,400.28L1007,400.3" fill="none" stroke="#1f77b4" stroke-width="4" stroke-linejoin="round"/>
<path d="M125.51,350.53L126.51,350.41L127.51,350.25L128.51,350.06L129.51,349.86L130.51,349.66L131.51,349.45L132.51,349.24L133.51,349.03L134.51,348.82L135.51,348.6L136.51,348.39L137.51,348.18L138.51,347.96L139.51,347.74L140.51,347.53L141.51,347.31L142.51,347.09L143.51,346.87L144.51,346.65L145.51,346.42L146.51,346.2L147.51,345.98L148.51,345.75L149.51,345.52L150.51,345.3L151.51,345.07L152.51,344.84L153.51,344.61L154.51,344.38L155.51,344.15L156.51,343.92L157.51,343.68L158.51,343.45L159.51,343.21L160.51,342.98L161.51,342.74L162.51,342.5L163.51,342.26L164.51,342.02L165.51,341.78L166.51,341.54L167.51,341.3L168.51,341.06L169.51,340.81L170.51,340.57L171.51,340.32L172.51,340.07L173.51,339.82L174.51,339.57L175.51,339.31L176.51,339.06L177.51,338.8L178.51,338.54L179.51,338.28L180.51,338.02L181.51,337.76L182.51,337.5L183.51,337.23L184.51,336.97L185.51,336.7L186.51,336.43L187.51,336.16L188.51,335.89L189.51,335.62L190.51,335.35L191.51,335.08L192.51,334.8L193.51,334.53L194.51,334.25L195.51,333.98L196.51,333.7L197.51,333.42L198.51,333.15L199.51,332.87L200.51,332.59L201.51,332.31L202.51,332.04L203.51,331.76L204.51,331.48L205.51,331.2L206.51,330.92L207.51,330.65L208.51,330.37L209.51,330.09L210.51,329.81L211.51,329.53L212.51,329.26L213.51,328.98L214.51,328.7L215.51,328.43L216.51,328.15L217.51,327.88L218.51,327.6L219.51,327.33L220.51,327.06L221.51,326.78L222.51,326.51L223.51,326.23L224.51,325.96L225.51,325.68L226.51,325.41L227.51,325.13L228.51,324.85L229.51,324.57L230.51,324.3L231.51,324.02L232.51,323.74L233.51,323.46L234.51,323.18L235.51,322.9L236.51,322.62L237.51,322.34L238.51,322.06L239.51,321.78L240.51,321.5L241.51,321.22L242.51,320.94L243.51,320.66L244.51,320.38L245.51,320.1L246.51,319.83L247.51,319.55L248.51,319.27L249.51,318.99L250.51,318.71L251.51,318.44L252.51,318.16L253.51,317.88L254.51,317.61L255.51,317.33L256.51,317.06L257.51,316.79L258.51,316.51L259.51,316.24L260.51,315.97L261.51,315.7L262.51,315.43L263.51,315.16L264.51,314.89L265.51,314.63L266.51,314.36L267.51,314.1L268.51,313.84L269.51,313.58L270.51,313.32L271.51,313.06L272.51,312.81L273.51,312.56L274.51,312.32L275.51,312.08L276.51,311.84L277.51,311.6L278.51,311.36L279.51,311.13L280.51,310.89L281.51,310.65L282.51,310.42L283.51,310.18L284.51,309.94L285.51,309.7L286.51,309.45L287.51,309.21L288.51,308.95L289.51,308.7L290.51,308.44L291.51,308.17L292.51,307.89L293.51,307.61L294.51,307.33L295.51,307.03L296.51,306.73L297.51,306.42L298.51,306.1L299.51,305.78L300.51,305.45L301.51,305.11L302.51,304.77L303.51,304.42L304.51,304.06L305.51,303.7L306.51,303.34L307.51,302.97L308.51,302.6L309.51,302.23L310.51,301.85L311.51,301.47L312.51,301.09L313.51,300.71L314.51,300.32L315.51,299.94L316.51,299.55L317.51,299.17L318.51,298.79L319.51,298.4L320.51,298.01L321.51,297.63L322.51,297.23L323.51,296.84L324.51,296.43L325.51,296.03L326.51,295.62L327.51,295.22L328.51,294.81L329.51,294.4L330.51,294L331.51,293.6L332.51,293.2L333.51,292.8L334.51,292.41L335.51,292.03L336.51,291.65L337.51,291.27L338.51,290.89L339.51,290.52L340.51,290.15L341.51,289.78L342.51,289.41L343.51,289.04L344.51,288.67L345.51,288.31L346.51,287.95L347.51,287.58L348.51,287.22L349.51,286.86L350.51,286.51L351.51,286.15L352.51,285.79L353.51,285.44L354.51,285.08L355.51,284.73L356.51,284.38L357.51,284.03L358.51,283.68L359.51,283.33L360.51,282.98L361.51,282.63L362.51,282.29L363.51,281.94L364.51,281.59L365.51,281.25L366.51,280.91L367.51,280.56L368.51,280.22L369.51,279.87L370.51,279.53L371.51,279.19L372.51,278.84L373.51,278.5L374.51,278.15L375.51,277.81L376.51,277.46L377.51,277.11L378.51,276.77L379.51,276.42L380.51,276.08L381.51,275.74L382.51,275.4L383.51,275.06L384.51,274.73L385.51,274.4L386.51,274.07L387.51,273.74L388.51,273.42L389.51,273.11L390.51,272.79L391.51,272.49L392.51,272.18L393.51,271.89L394.51,271.59L395.51,271.31L396.51,271.02L397.51,270.74L398.51,270.47L399.51,270.2L400.51,269.93L401.51,269.67L402.51,269.41L403.51,269.15L404.51,268.9L405.51,268.65L406.51,268.4L407.51,268.15L408.51,267.9L409.51,267.66L410.51,267.42L411.51,267.18L412.51,266.94L413.51,266.7L414.51,266.47L415.51,266.23L416.51,265.99L417.51,265.76L418.51,265.53L419.51,265.29L420.51,265.06L421.51,264.84L422.51,264.61L423.51,264.39L424.51,264.18L425.51,263.96L426.51,263.75L427.51,263.55L428.51,263.34L429.51,263.14L430.51,262.93L431.51,262.73L432.51,262.52L433.51,262.32L434.51,262.11L435.51,261.9L436.51,261.69L437.51,261.47L438.51,261.25L439.51,261.03L440.51,260.79L441.51,260.56L442.51,260.31L443.51,260.06L444.51,259.8L445.51,259.53L446.51,259.26L447.51,258.97L448.51,258.68L449.51,258.37L450.51,258.05L451.51,257.72L452.51,257.38L453.51,257.01L454.51,256.63L455.51,256.22L456.51,255.79L457.51,255.33L458.51,254.85L459.51,254.34L460.51,253.81L461.51,253.25L462.51,252.69L463.51,252.11L464.51,251.52L465.51,250.93L466.51,250.34L467.51,249.75L468.51,249.16L469.51,248.58L470.51,248L471.51,247.43L472.51,246.85L473.51,246.27L474.51,245.69L475.51,245.1L476.51,244.52L477.51,243.93L478.51,243.34L479.51,242.75L480.51,242.17L481.51,241.59L482.51,241.02L483.51,240.45L484.51,239.89L485.51,239.35L486.51,238.8L487.51,238.26L488.51,237.71L489.51,237.15L490.51,236.58L491.51,236L492.51,235.4L493.51,234.8L494.51,234.19L495.51,233.59L496.51,233L497.51,232.43L498.51,231.88L499.51,231.36L500.51,230.87L501.51,230.43L502.51,230.03L503.51,229.69L504.51,229.41L505.51,229.19L506.51,229.03L507.51,228.92L508.51,228.84L509.51,228.76L510.51,228.66L511.51,228.5L512.51,228.28L513.51,228L514.51,227.66L515.51,227.29L516.51,226.9L517.51,226.51L518.51,226.14L519.51,225.8L520.51,225.48L521.51,225.2L522.51,224.93L523.51,224.68L524.51,224.44L525.51,224.2L526.51,223.97L527.51,223.74L528.51,223.52L529.51,223.29L530.51,223.07L531.51,222.85L532.51,222.63L533.51,222.4L534.51,222.17L535.51,221.94L536.51,221.71L537.51,221.48L538.51,221.24L539.51,221L540.51,220.76L541.51,220.52L542.51,220.28L543.51,220.04L544.51,219.81L545.51,219.58L546.51,219.35L547.51,219.12L548.51,218.9L549.51,218.69L550.51,218.48L551.51,218.27L552.51,218.06L553.51,217.85L554.51,217.64L555.51,217.43L556.51,217.21L557.51,217L558.51,216.79L559.51,216.58L560.51,216.38L561.51,216.2L562.51,216.04L563.51,215.9L564.51,215.79L565.51,215.7L566.51,215.65L567.51,215.63L568.51,215.65L569.51,215.71L570.51,215.8L571.51,215.92L572.51,216.07L573.51,216.25L574.51,216.44L575.51,216.64L576.51,216.85L577.51,217.06L578.51,217.27L579.51,217.48L580.51,217.67L581.51,217.86L582.51,218.04L583.51,218.21L584.51,218.38L585.51,218.55L586.51,218.72L587.51,218.89L588.51,219.06L589.51,219.23L590.51,219.38L591.51,219.53L592.51,219.66L593.51,219.78L594.51,219.87L595.51,219.94L596.51,219.99L597.51,220.03L598.51,220.05L599.51,220.05L600.51,220.06L601.51,220.06L602.51,220.06L603.51,220.06L604.51,220.06L605.51,220.06L606.51,220.06L607.51,220.05L608.51,220.04L609.51,220.01L610.51,219.96L611.51,219.86L612.51,219.71L613.51,219.51L614.51,219.25L615.51,218.94L616.51,218.58L617.51,218.17L618.51,217.71L619.51,217.18L620.51,216.55L621.51,215.8L622.51,214.91L623.51,213.89L624.51,212.75L625.51,211.51L626.51,210.19L627.51,208.8L628.51,207.33L629.51,205.79L630.51,204.16L631.51,202.48L632.51,200.77L633.51,199.06L634.51,197.35L635.51,195.65L636.51,193.96L637.51,192.3L638.51,190.68L639.51,189.15L640.51,187.76L641.51,186.53L642.51,185.48L643.51,184.58L644.51,183.81L645.51,183.15L646.51,182.59L647.51,182.13L648.51,181.79L649.51,181.58L650.51,181.47L651.51,181.46L652.51,181.52L653.51,181.64L654.51,181.8L655.51,181.98L656.51,182.19L657.51,182.41L658.51,182.65L659.51,182.89L660.51,183.15L661.51,183.43L662.51,183.73L663.51,184.05L664.51,184.39L665.51,184.74L666.51,185.1L667.51,185.46L668.51,185.8L669.51,186.12L670.51,186.42L671.51,186.69L672.51,186.93L673.51,187.14L674.51,187.33L675.51,187.49L676.51,187.65L677.51,187.79L678.51,187.93L679.51,188.06L680.51,188.18L681.51,188.31L682.51,188.43L683.51,188.56L684.51,188.69L685.51,188.82L686.51,188.95L687.51,189.08L688.51,189.21L689.51,189.33L690.51,189.46L691.51,189.59L692.51,189.72L693.51,189.86L694.51,190.01L695.51,190.17L696.51,190.35L697.51,190.54L698.51,190.75L699.51,190.98L700.51,191.24L701.51,191.52L702.51,191.82L703.51,192.14L704.51,192.47L705.51,192.82L706.51,193.18L707.51,193.54L708.51,193.91L709.51,194.28L710.51,194.66L711.51,195.05L712.51,195.44L713.51,195.84L714.51,196.26L715.51,196.68L716.51,197.12L717.51,197.56L718.51,198.02L719.51,198.49L720.51,198.97L721.51,199.46L722.51,199.96L723.51,200.48L724.51,201.02L725.51,201.57L726.51,202.14L727.51,202.72L728.51,203.32L729.51,203.93L730.51,204.55L731.51,205.17L732.51,205.81L733.51,206.45L734.51,207.1L735.51,207.76L736.51,208.44L737.51,209.13L738.51,209.83L739.51,210.55L740.51,211.27L741.51,212L742.51,212.72L743.51,213.43L744.51,214.13L745.51,214.82L746.51,215.49L747.51,216.15L748.51,216.8L749.51,217.44L750.51,218.09L751.51,218.74L752.51,219.37L753.51,219.99L754.51,220.58L755.51,221.13L756.51,221.63L757.51,222.07L758.51,222.45L759.51,222.76L760.51,223.02L761.51,223.23L762.51,223.4L763.51,223.53L764.51,223.63L765.51,223.68L766.51,223.68L767.51,223.62L768.51,223.49L769.51,223.3L770.51,223.04L771.51,222.74L772.51,222.38L773.51,221.99L774.51,221.55L775.51,221.05L776.51,220.48L777.51,219.83L778.51,219.09L779.51,218.27L780.51,217.38L781.51,216.43L782.51,215.43L783.51,214.4L784.51,213.34L785.51,212.25L786.51,211.13L787.51,209.98L788.51,208.79L789.51,207.55L790.51,206.26L791.51,204.94L792.51,203.57L793.51,202.16L794.51,200.7L795.51,199.21L796.51,197.67L797.51,196.09L798.51,194.45L799.51,192.75L800.51,190.96L801.51,189.09L802.51,187.16L803.51,185.2L804.51,183.26L805.51,181.37L806.51,179.56L807.51,177.84L808.51,176.24L809.51,174.77L810.51,173.44L811.51,172.26L812.51,171.23L813.51,170.33L814.51,169.57L815.51,168.96L816.51,168.48L817.51,168.1L818.51,167.83L819.51,167.64L820.51,167.54L821.51,167.55L822.51,167.66L823.51,167.88L824.51,168.2L825.51,168.62L826.51,169.14L827.51,169.76L828.51,170.5L829.51,171.36L830.51,172.34L831.51,173.45L832.51,174.69L833.51,176.05L834.51,177.55L835.51,179.15L836.51,180.85L837.51,182.63L838.51,184.47L839.51,186.38L840.51,188.36L841.51,190.38L842.51,192.46L843.51,194.59L844.51,196.77L845.51,198.97L846.51,201.2L847.51,203.44L848.51,205.67L849.51,207.9L850.51,210.1L851.51,212.27L852.51,214.38L853.51,216.42L854.51,218.38L855.51,220.27L856.51,222.11L857.51,223.92L858.51,225.71L859.51,227.5L860.51,229.29L861.51,231.08L862.51,232.88L863.51,234.68L864.51,236.48L865.51,238.29L866.51,240.09L867.51,241.9L868.51,243.7L869.51,245.5L870.51,247.29L871.51,249.08L872.51,250.88L873.51,252.73L874.51,254.63L875.51,256.6L876.51,258.65L877.51,260.76L878.51,262.91L879.51,265.07L880.51,267.22L881.51,269.31L882.51,271.34L883.51,273.31L884.51,275.21L885.51,277.07L886.51,278.89L887.51,280.71L888.51,282.55L889.51,284.43L890.51,286.37L891.51,288.39L892.51,290.53L893.51,292.77L894.51,295.11L895.51,297.52L896.51,299.96L897.51,302.4L898.51,304.82L899.51,307.21L900.51,309.56L901.51,311.87L902.51,314.13L903.51,316.36L904.51,318.55L905.51,320.7L906.51,322.82L907.51,324.88L908.51,326.88L909.51,328.81L910.51,330.66L911.51,332.42L912.51,334.08L913.51,335.67L914.51,337.19L915.51,338.64L916.51,340.04L917.51,341.39L918.51,342.7L919.51,343.98L920.51,345.24L921.51,346.48L922.51,347.7L923.51,348.91L924.51,350.11L925.51,351.3L926.51,352.46L927.51,353.6L928.51,354.71L929.51,355.79L930.51,356.85L931.51,357.91L932.51,358.94L933.51,359.91L934.51,360.87L935.51,361.84L936,362.31L936.2,362.5L936.4,362.69L936.6,362.87L936.8,363.05L937,363.23L937.2,363.41L937.4,363.58L937.6,363.75L937.8,363.92L938,364.08L938.2,364.23L938.4,364.39L938.6,364.53L938.8,364.68L939,364.81L939.2,364.94L939.4,365.07L939.6,365.18L939.8,365.3L940,365.4L940.2,365.5L940.4,365.6L940.6,365.71L940.8,365.81L941,365.92L941.2,366.02L941.4,366.12L941.6,366.22L941.8,366.31L942,366.4L942.2,366.49L942.4,366.57L942.6,366.65L942.8,366.72L943,366.79L943.2,366.84L943.4,366.89L943.6,366.93L943.8,366.97L944,366.99L944.2,367L944.4,367L944.6,366.99L944.8,366.96L945,366.93L945.2,366.88L945.4,366.82L945.6,366.75L945.8,366.67L946,366.59L946.2,366.49L946.4,366.39L946.6,366.27L946.8,366.15L947,366.03L947.2,365.89L947.4,365.75L947.6,365.6L947.8,365.45L948,365.3L948.2,365.13L948.4,364.97L948.6,364.8L948.8,364.61L949,364.38L949.2,364.11L949.4,363.81L949.6,363.47L949.8,363.1L950,362.69L950.2,362.26L950.4,361.8L950.6,361.31L950.8,360.8L951,360.26L951.2,359.7L951.4,359.12L951.6,358.52L951.8,357.9L952,357.23L952.2,356.47L952.4,355.63L952.6,354.7L952.8,353.71L953,352.64L953.2,351.51L953.4,350.32L953.6,349.07L953.8,347.77L954,346.4L954.2,344.85L954.4,343.14L954.6,341.29L954.8,339.33L955,337.3L955.2,335.22L955.4,333.14L955.6,331.06L955.8,328.95L956,326.78L956.2,324.55L956.4,322.24L956.6,319.86L956.8,317.38L957,314.83L957.2,312.37L957.4,309.85L957.6,307.07L957.8,303.85L958,300L958.2,294.66L958.4,287.7L958.6,280L958.8,271.86L959,263.04L959.2,253.59L959.4,243.58L959.6,233.07L959.8,222.12L960,210.79L960.2,199.14L960.4,187.21L960.6,174.96L960.8,162.36L961,149.36L961.2,135.93L961.4,122.03L961.6,107.63L961.8,92.68L962,77.14L962.2,60.98L962.4,44.17L962.6,26.65L962.8,8.4L963,-11.43L963.2,-33.37L963.4,-57.04L963.6,-82.02L963.8,-107.92L964,-134.34L964.2,-160.87L964.4,-187.11L964.6,-213.69L964.8,-245.35L965,-280.26L965.2,-315.47L965.4,-348.01L965.6,-374.92L965.8,-393.24L966,-400L966.2,-393.07L966.4,-374.37L966.6,-347L966.8,-314.07L967,-278.7L967.2,-244L967.4,-213.07L967.6,-188.21L967.8,-166.14L968,-145.57L968.2,-125.88L968.4,-106.45L968.6,-86.66L968.8,-65.91L969,-43.55L969.2,-18.99L969.4,8.4L969.6,45.61L969.8,93.06L970,141.58L970.2,181.96L970.4,205L970.6,215.61L970.8,224.91L971,233.04L971.2,240.14L971.4,246.34L971.6,251.78L971.8,256.59L972,260.92L972.2,264.89L972.4,268.65L972.6,272.33L972.8,276.07L973,280L973.2,284.02L973.4,287.93L973.6,291.72L973.8,295.41L974,298.97L974.2,302.42L974.4,305.75L974.6,308.95L974.8,312.03L975,314.99L975.2,317.82L975.4,320.52L975.6,323.08L975.8,325.51L976,327.81L976.2,329.97L976.4,331.99L976.6,333.9L976.8,335.69L977,337.38L977.2,338.99L977.4,340.53L977.6,342.01L977.8,343.43L978,344.81L978.2,346.17L978.4,347.51L978.6,348.85L978.8,350.2L979,351.56L979.2,352.94L979.4,354.32L979.6,355.7L979.8,357.07L980,358.42L980.2,359.75L980.4,361.05L980.6,362.31L980.8,363.52L981,364.67L981.2,365.77L981.4,366.8L981.6,367.75L981.8,368.62L982,369.4L982.2,370.12L982.4,370.82L982.6,371.5L982.8,372.15L983,372.79L983.2,373.41L983.4,374L983.6,374.58L983.8,375.14L984,375.69L984.2,376.21L984.4,376.72L984.6,377.22L984.8,377.69L985,378.16L985.2,378.6L985.4,379.04L985.6,379.45L985.8,379.86L986,380.25L986.2,380.63L986.4,381L986.6,381.36L986.8,381.7L987,382.04L987.2,382.36L987.4,382.68L987.6,383L987.8,383.31L988,383.62L988.2,383.92L988.4,384.21L988.6,384.51L988.8,384.79L989,385.08L989.2,385.36L989.4,385.63L989.6,385.9L989.8,386.16L990,386.42L990.2,386.68L990.4,386.93L990.6,387.17L990.8,387.41L991,387.64L991.2,387.87L991.4,388.1L991.6,388.32L991.8,388.53L992,388.74L992.2,388.94L992.4,389.14L992.6,389.33L992.8,389.52L993,389.7L993.2,389.88L993.4,390.05L993.6,390.22L993.8,390.38L994,390.53L994.2,390.68L994.4,390.83L994.6,390.97L994.8,391.1L995,391.23L995.2,391.36L995.4,391.48L995.6,391.6L995.8,391.72L996,391.84L996.2,391.95L996.4,392.07L996.6,392.18L996.8,392.29L997,392.39L997.2,392.5L997.4,392.6L997.6,392.7L997.8,392.8L998,392.9L998.2,392.99L998.4,393.09L998.6,393.18L998.8,393.27L999,393.36L999.2,393.45L999.4,393.53L999.6,393.62L999.8,393.7L1000,393.79L1000.2,393.87L1000.4,393.95L1000.6,394.03L1000.8,394.11L1001,394.18L1001.2,394.26L1001.4,394.33L1001.6,394.41L1001.8,394.48L1002,394.56L1002.2,394.63L1002.4,394.7L1002.6,394.77L1002.8,394.84L1003,394.91L1003.2,394.98L1003.4,395.05L1003.6,395.12L1003.8,395.19L1004,395.26L1004.2,395.33L1004.4,395.39L1004.6,395.46L1004.8,395.53L1005,395.6L1005.2,395.67L1005.4,395.73L1005.6,395.8L1005.8,395.86L1006,395.92L1006.2,395.97L1006.4,396.03L1006.6,396.09L1006.8,396.14L1007,396.2" fill="none" stroke="#ff7f0e" stroke-width="4" stroke-linejoin="round"/>
</g>
<path d="M125.6,401.4V393.2M335.41,401.4V393.2M545.22,401.4V393.2M755.03,401.4V393.2M964.84,401.4V393.2M125.6,401.4H133.8M125.6,303.15H133.8M125.6,204.9H133.8M125.6,106.65H133.8M125.6,8.4H133.8" stroke="#000" stroke-width="2.4" fill="none"/>
<path d="M167.56,401.4V396.2M209.52,401.4V396.2M251.49,401.4V396.2M293.45,401.4V396.2M377.37,401.4V396.2M419.33,401.4V396.2M461.3,401.4V396.2M503.26,401.4V396.2M587.18,401.4V396.2M629.14,401.4V396.2M671.1,401.4V396.2M713.07,401.4V396.2M796.99,401.4V396.2M838.95,401.4V396.2M880.91,401.4V396.2M922.88,401.4V396.2M1006.8,401.4V396.2M125.6,368.65H130.8M125.6,335.9H130.8M125.6,270.4H130.8M125.6,237.65H130.8M125.6,172.15H130.8M125.6,139.4H130.8M125.6,73.9H130.8M125.6,41.15H130.8" stroke="#000" stroke-width="1.9" fill="none"/>
<rect x="125.6" y="8.4" width="881.2" height="393" fill="none" stroke="#000" stroke-width="2.5"/>
<text x="125.6" y="427.9" font-size="24.3" text-anchor="middle">−200</text>
<text x="335.41" y="427.9" font-size="24.3" text-anchor="middle">−150</text>
<text x="545.22" y="427.9" font-size="24.3" text-anchor="middle">−100</text>
<text x="755.03" y="427.9" font-size="24.3" text-anchor="middle">−50</text>
<text x="964.84" y="427.9" font-size="24.3" text-anchor="middle">0</text>
<text x="117.2" y="410.4" font-size="24.3" text-anchor="end">0.000</text>
<text x="117.2" y="312.15" font-size="24.3" text-anchor="end">0.003</text>
<text x="117.2" y="213.9" font-size="24.3" text-anchor="end">0.006</text>
<text x="117.2" y="115.65" font-size="24.3" text-anchor="end">0.009</text>
<text x="117.2" y="17.4" font-size="24.3" text-anchor="end">0.012</text>
<text x="566.5" y="464" font-size="28.7" text-anchor="middle">Energy shift from ZPL (meV)</text>
<text transform="translate(181.9,54.1) scale(0.88,1)" font-size="39" font-style="italic" stroke="#000" stroke-width="0.45">h</text>
<text transform="translate(202.6,54.1) scale(0.88,1)" font-size="39" font-style="italic" stroke="#000" stroke-width="0.45">h</text>
<text transform="translate(218.95,54.8) scale(1.125,1)" font-size="44">–</text>
<text transform="translate(241.4,54.1) scale(0.95,1)" font-size="40.6">VV</text>
<text transform="translate(294.3,40.1) scale(0.92,1)" font-size="33" style="font-family:'Liberation Serif','DejaVu Serif',serif">0</text>
<rect x="179.6" y="63.1" width="59.5" height="22.1" fill="#bfbfbf"/>
<path d="M179,116h61" stroke="#1f77b4" stroke-width="4.2" fill="none"/>
<text x="260.4" y="83.9" font-size="28.7">Jin (2021)</text>
<text x="260.4" y="125.9" font-size="28.7">HR theory</text>
<path d="M179,157.9h61" stroke="#ff7f0e" stroke-width="4.2" fill="none"/>
<text x="260.4" y="167.6" font-size="28.7">DJT theory</text>
<g clip-path="url(#c01)">
<path d="M1109.01,334.44L1109.41,334.73L1109.81,335.31L1110.21,336.15L1110.61,337.13L1111.01,337.99L1111.41,338.45L1111.81,338.38L1112.21,337.77L1112.61,336.81L1113.01,335.88L1113.41,335.3L1113.81,335.12L1114.21,335.31L1114.61,335.86L1115.01,336.72L1115.41,337.54L1115.81,338.01L1116.21,337.97L1116.61,337.39L1117.01,336.34L1117.41,335.12L1117.81,334.19L1118.21,333.84L1118.61,333.96L1119.01,334.2L1119.41,334.25L1119.81,333.97L1120.21,333.36L1120.61,332.54L1121.01,331.76L1121.41,331.45L1121.81,332.06L1122.21,333.6L1122.61,335.53L1123.01,337.06L1123.41,337.7L1123.81,337.45L1124.21,336.46L1124.61,335.05L1125.01,333.7L1125.41,332.77L1125.81,332.38L1126.21,332.44L1126.61,332.83L1127.01,333.41L1127.41,334.11L1127.81,334.81L1128.21,335.36L1128.61,335.64L1129.01,335.71L1129.41,335.75L1129.81,335.96L1130.21,336.38L1130.61,336.82L1131.01,337.03L1131.41,336.85L1131.81,336.28L1132.21,335.48L1132.61,334.69L1133.01,334.08L1133.41,333.57L1133.81,332.89L1134.21,331.79L1134.61,330.27L1135.01,328.66L1135.41,327.51L1135.81,327.17L1136.21,327.51L1136.61,328.12L1137.01,328.65L1137.41,329.1L1137.81,329.71L1138.21,330.66L1138.61,331.88L1139.01,333.09L1139.41,333.93L1139.81,334.21L1140.21,333.84L1140.61,332.84L1141.01,331.39L1141.41,329.91L1141.81,328.85L1142.21,328.41L1142.61,328.49L1143.01,328.8L1143.41,329.2L1143.81,329.69L1144.21,330.25L1144.61,330.78L1145.01,331.19L1145.41,331.51L1145.81,331.91L1146.21,332.49L1146.61,333.1L1147.01,333.42L1147.41,333.23L1147.81,332.61L1148.21,331.88L1148.61,331.5L1149.01,331.76L1149.41,332.61L1149.81,333.69L1150.21,334.63L1150.61,334.78L1151.01,334.69L1151.41,334.52L1151.81,334.29L1152.21,334.02L1152.61,333.74L1153.01,333.51L1153.41,333.36L1153.81,332.93L1154.21,331.97L1154.61,331.12L1155.01,330.4L1155.41,329.86L1155.81,329.59L1156.21,329.61L1156.61,329.72L1157.01,329.79L1157.41,329.81L1157.81,329.75L1158.21,329.43L1158.61,328.72L1159.01,327.78L1159.41,327.05L1159.81,326.93L1160.21,327.49L1160.61,328.55L1161.01,329.73L1161.41,330.71L1161.81,331.22L1162.21,331.2L1162.61,330.71L1163.01,329.98L1163.41,329.36L1163.81,329.04L1164.21,328.9L1164.61,328.61L1165.01,328L1165.41,327.11L1165.81,326.08L1166.21,324.96L1166.61,323.74L1167.01,322.61L1167.41,321.98L1167.81,322.11L1168.21,322.84L1168.61,323.71L1169.01,324.39L1169.41,324.84L1169.81,325.14L1170.21,325.36L1170.61,325.53L1171.01,325.68L1171.41,325.83L1171.81,325.97L1172.21,326.07L1172.61,326.14L1173.01,326.29L1173.41,326.61L1173.81,327.09L1174.21,327.54L1174.61,327.62L1175.01,326.99L1175.41,325.58L1175.81,323.66L1176.21,322.08L1176.61,321.21L1177.01,320.92L1177.41,321.26L1177.81,322.12L1178.21,322.88L1178.61,323.48L1179.01,323.57L1179.41,323.11L1179.81,322.46L1180.21,322.07L1180.61,322.23L1181.01,322.91L1181.41,323.77L1181.81,324.42L1182.21,324.59L1182.61,324.22L1183.01,323.42L1183.41,322.43L1183.81,321.61L1184.21,321.24L1184.61,321.39L1185.01,321.9L1185.41,322.36L1185.81,322.4L1186.21,321.76L1186.61,320.52L1187.01,319.06L1187.41,317.91L1187.81,317.37L1188.21,317.32L1188.61,317.39L1189.01,317.35L1189.41,317.33L1189.81,317.65L1190.21,318.56L1190.61,319.86L1191.01,321.02L1191.41,321.54L1191.81,321.25L1192.21,320.23L1192.61,318.88L1193.01,317.76L1193.41,317.27L1193.81,317.43L1194.21,317.95L1194.61,318.54L1195.01,319.03L1195.41,319.38L1195.81,319.61L1196.21,319.77L1196.61,319.94L1197.01,320.16L1197.41,320.45L1197.81,320.79L1198.21,321.07L1198.61,321.11L1199.01,320.72L1199.41,319.8L1199.81,318.43L1200.21,316.88L1200.61,315.42L1201.01,314.14L1201.41,313.05L1201.81,312.31L1202.21,312.07L1202.61,312.34L1203.01,312.85L1203.41,313.24L1203.81,313.37L1204.21,313.43L1204.61,313.83L1205.01,314.83L1205.41,316.29L1205.81,317.63L1206.21,318.39L1206.61,318.88L1207.01,319.11L1207.41,319.05L1207.81,318.22L1208.21,317.14L1208.61,316.28L1209.01,315.98L1209.41,316.4L1209.81,317.39L1210.21,318.44L1210.61,318.39L1211.01,318.27L1211.41,318.12L1211.81,317.89L1212.21,317.49L1212.61,315.86L1213.01,313.83L1213.41,311.91L1213.81,310.48L1214.21,309.79L1214.61,309.78L1215.01,310.18L1215.41,310.77L1215.81,311.5L1216.21,312.46L1216.61,313.62L1217.01,314.73L1217.41,315.43L1217.81,315.53L1218.21,315.12L1218.61,314.41L1219.01,313.71L1219.41,313.36L1219.81,313.46L1220.21,313.9L1220.61,314.42L1221.01,314.81L1221.41,314.89L1221.81,314.54L1222.21,313.61L1222.61,312.09L1223.01,310.19L1223.41,308.26L1223.81,306.63L1224.21,305.59L1224.61,305.36L1225.01,306.08L1225.41,307.61L1225.81,309.54L1226.21,311.36L1226.61,312.66L1227.01,313.31L1227.41,313.47L1227.81,313.41L1228.21,313.42L1228.61,313.58L1229.01,313.48L1229.41,313.37L1229.81,313.27L1230.21,313.16L1230.61,313.06L1231.01,312.96L1231.41,312.85L1231.81,312.74L1232.21,312.61L1232.61,311.96L1233.01,310.44L1233.41,309.41L1233.81,309L1234.21,308.94L1234.61,308.86L1235.01,308.45L1235.41,307.81L1235.81,307.36L1236.21,307.39L1236.61,307.82L1237.01,308.36L1237.41,308.81L1237.81,309.13L1238.21,309.27L1238.61,309.12L1239.01,308.48L1239.41,307.28L1239.81,305.78L1240.21,304.57L1240.61,304.23L1241.01,304.79L1241.41,305.72L1241.81,306.26L1242.21,305.95L1242.61,304.78L1243.01,303.23L1243.41,302.11L1243.81,302.03L1244.21,302.97L1244.61,304.3L1245.01,305.3L1245.41,305.51L1245.81,304.93L1246.21,303.89L1246.61,302.96L1247.01,302.72L1247.41,303.43L1247.81,304.91L1248.21,306.72L1248.61,308.3L1249.01,308.57L1249.41,308.48L1249.81,308.38L1250.21,308.29L1250.61,308.19L1251.01,308.1L1251.41,308.01L1251.81,307.41L1252.21,307.01L1252.61,306.81L1253.01,306.55L1253.41,305.95L1253.81,304.92L1254.21,303.59L1254.61,302.32L1255.01,301.51L1255.41,301.45L1255.81,302.2L1256.21,303.51L1256.61,304.87L1257.01,305.76L1257.41,305.86L1257.81,305.02L1258.21,302.99L1258.61,300L1259.01,296.89L1259.41,294.7L1259.81,294.01L1260.21,294.64L1260.61,295.87L1261.01,296.99L1261.41,297.76L1261.81,298.41L1262.21,299.29L1262.61,300.47L1263.01,301.61L1263.41,302.36L1263.81,302.61L1264.21,302.57L1264.61,302.55L1265.01,302.7L1265.41,302.98L1265.81,303.21L1266.21,303.27L1266.61,303.11L1267.01,302.74L1267.41,302.22L1267.81,301.56L1268.21,300.67L1268.61,299.38L1269.01,297.6L1269.41,295.61L1269.81,294.12L1270.21,293.89L1270.61,295.14L1271.01,297.3L1271.41,299.5L1271.81,301.16L1272.21,302.13L1272.61,302.27L1273.01,302.25L1273.41,302.17L1273.81,301.74L1274.21,300.52L1274.61,299.28L1275.01,298.45L1275.41,298.03L1275.81,297.83L1276.21,297.79L1276.61,298.19L1277.01,299.08L1277.41,299.15L1277.81,298.29L1278.21,297.07L1278.61,296.25L1279.01,296.29L1279.41,297.1L1279.81,298.26L1280.21,299.3L1280.61,299.9L1281.01,299.83L1281.41,299.7L1281.81,299.57L1282.21,299.31L1282.61,298.56L1283.01,297.69L1283.41,296.91L1283.81,296.37L1284.21,296.17L1284.61,296.37L1285.01,296.91L1285.41,297.54L1285.81,297.93L1286.21,297.89L1286.61,297.31L1287.01,296.02L1287.41,294.23L1287.81,292.57L1288.21,291.6L1288.61,291.46L1289.01,291.79L1289.41,292.02L1289.81,291.76L1290.21,291.05L1290.61,290.27L1291.01,289.89L1291.41,290.16L1291.81,291.07L1292.21,292.42L1292.61,293.91L1293.01,295.15L1293.41,295.48L1293.81,295.32L1294.21,295.16L1294.61,294.6L1295.01,293.21L1295.41,291.76L1295.81,290.71L1296.21,290.24L1296.61,290.29L1297.01,290.64L1297.41,291.02L1297.81,291.22L1298.21,291.08L1298.61,290.49L1299.01,289.38L1299.41,287.84L1299.81,286.33L1300.21,285.63L1300.61,286.35L1301.01,288.31L1301.41,290.49L1301.81,291.72L1302.21,291.66L1302.61,290.87L1303.01,288.42L1303.41,285.07L1303.81,282.28L1304.21,281.34L1304.61,282.48L1305.01,284.83L1305.41,287.11L1305.81,288.5L1306.21,289.01L1306.61,289.08L1307.01,289.11L1307.41,289.23L1307.81,289.04L1308.21,288.85L1308.61,288.67L1309.01,288.47L1309.41,288.26L1309.81,288L1310.21,287.63L1310.61,287.12L1311.01,286.3L1311.41,284.8L1311.81,283.33L1312.21,282.59L1312.61,283.04L1313.01,284.45L1313.41,285.59L1313.81,285.84L1314.21,285.94L1314.61,285.9L1315.01,285.78L1315.41,285.63L1315.81,284.02L1316.21,281.13L1316.61,278.3L1317.01,276.77L1317.41,277.15L1317.81,278.91L1318.21,280.88L1318.61,282.16L1319.01,282.57L1319.41,282.51L1319.81,282.53L1320.21,283.07L1320.61,283.61L1321.01,283.46L1321.41,283.32L1321.81,283.18L1322.21,283.03L1322.61,282.89L1323.01,282.75L1323.41,281.76L1323.81,280.11L1324.21,278.9L1324.61,278.29L1325.01,278.23L1325.41,278.57L1325.81,279.19L1326.21,279.88L1326.61,280.31L1327.01,280.19L1327.41,279.36L1327.81,277.81L1328.21,275.92L1328.61,274.42L1329.01,274.01L1329.41,275L1329.81,277.02L1330.21,279.19L1330.61,280.17L1331.01,280.04L1331.41,279.91L1331.81,279.78L1332.21,279.65L1332.61,279.52L1333.01,278.63L1333.41,277.42L1333.81,276.76L1334.21,276.79L1334.61,277.21L1335.01,277.55L1335.41,277.44L1335.81,276.69L1336.21,275.19L1336.61,273.08L1337.01,270.88L1337.41,269.33L1337.81,269.02L1338.21,269.95L1338.61,271.47L1339.01,272.73L1339.41,273.11L1339.81,272.41L1340.21,270.73L1340.61,268.47L1341.01,266.36L1341.41,265.24L1341.81,265.6L1342.21,267.19L1342.61,269.18L1343.01,270.66L1343.41,271.12L1343.81,270.52L1344.21,269.14L1344.61,267.55L1345.01,266.36L1345.41,266.08L1345.81,266.82L1346.21,268.31L1346.61,270.04L1347.01,271.5L1347.41,272.49L1347.81,273.08L1348.21,273.51L1348.61,273.91L1349.01,274.18L1349.41,274.21L1349.81,273.98L1350.21,273.53L1350.61,273.09L1351.01,272.86L1351.41,272.82L1351.81,272.8L1352.21,272.67L1352.61,272.46L1353.01,272.3L1353.41,272.24L1353.81,272.27L1354.21,272.31L1354.61,272.3L1355.01,272.17L1355.41,271.89L1355.81,271.46L1356.21,270.95L1356.61,270.46L1357.01,270.04L1357.41,269.54L1357.81,268.65L1358.21,266.98L1358.61,264.32L1359.01,260.87L1359.41,257.26L1359.81,254.19L1360.21,252.14L1360.61,251.41L1361.01,252.14L1361.41,254.25L1361.81,257.21L1362.21,260.25L1362.61,262.71L1363.01,264.35L1363.41,265.32L1363.81,265.95L1364.21,266.51L1364.61,267.17L1365.01,267.94L1365.41,268.71L1365.81,269.27L1366.21,269.2L1366.61,269.08L1367.01,268.95L1367.41,268.83L1367.81,268.68L1368.21,268.46L1368.61,268.08L1369.01,266.5L1369.41,264.17L1369.81,261.42L1370.21,258.62L1370.61,256.3L1371.01,254.84L1371.41,254.31L1371.81,254.52L1372.21,255.25L1372.61,256.3L1373.01,257.4L1373.41,258.17L1373.81,258.25L1374.21,257.5L1374.61,256.05L1375.01,254.38L1375.41,253.16L1375.81,252.91L1376.21,253.76L1376.61,255.44L1377.01,257.6L1377.41,259.95L1377.81,262.18L1378.21,263.83L1378.61,264.49L1379.01,263.97L1379.41,262.01L1379.81,258.41L1380.21,253.38L1380.61,247.83L1381.01,243.74L1381.41,243.17L1381.81,246.02L1382.21,249.87L1382.61,252.31L1383.01,252.9L1383.41,252.63L1383.81,252.68L1384.21,253.67L1384.61,255.54L1385.01,257.8L1385.41,259.78L1385.81,261.01L1386.21,261.42L1386.61,261.3L1387.01,261.09L1387.41,261.25L1387.81,261.87L1388.21,262.6L1388.61,262.77L1389.01,262.66L1389.41,262.55L1389.81,262.44L1390.21,262L1390.61,261.6L1391.01,261.42L1391.41,261.42L1391.81,261.42L1392.21,261.27L1392.61,260.93L1393.01,260.45L1393.41,259.93L1393.81,259.43L1394.21,258.96L1394.61,258.56L1395.01,258.25L1395.41,257.73L1395.81,256.34L1396.21,253.64L1396.61,250.05L1397.01,246.53L1397.41,244.39L1397.81,244.49L1398.21,246.52L1398.61,249.37L1399.01,251.91L1399.41,253.59L1399.81,254.31L1400.21,254.15L1400.61,253.34L1401.01,252.26L1401.41,251.38L1401.81,250.83L1402.21,250.17L1402.61,248.85L1403.01,246.81L1403.41,244.67L1403.81,243.27L1404.21,243.17L1404.61,244.29L1405.01,245.99L1405.41,247.5L1405.81,248.29L1406.21,248.32L1406.61,247.88L1407.01,247.37L1407.41,247.05L1407.81,247.04L1408.21,247.4L1408.61,248.19L1409.01,249.44L1409.41,251.04L1409.81,252.82L1410.21,254.53L1410.61,255.87L1411.01,256.59L1411.41,256.73L1411.81,256.42L1412.21,255.35L1412.61,253.68L1413.01,251.92L1413.41,250.76L1413.81,250.58L1414.21,251.22L1414.61,252.14L1415.01,252.91L1415.41,253.5L1415.81,254.13L1416.21,254.94L1416.61,255.61L1417.01,255.63L1417.41,255.41L1417.81,253.87L1418.21,251.22L1418.61,248.66L1419.01,247.37L1419.41,247.57L1419.81,248.48L1420.21,249.19L1420.61,249.29L1421.01,248.95L1421.41,248.52L1421.81,248.24L1422.21,247.99L1422.61,247.35L1423.01,245.97L1423.41,243.93L1423.81,241.83L1424.21,240.53L1424.61,240.56L1425.01,241.66L1425.41,242.83L1425.81,244.01L1426.21,245.63L1426.61,247.56L1427.01,248.59L1427.41,249.05L1427.81,249.21L1428.21,249.11L1428.61,248.71L1429.01,248.12L1429.41,247.71L1429.81,247.75L1430.21,248.11L1430.61,248.26L1431.01,247.7L1431.41,246.23L1431.81,244.17L1432.21,242.25L1432.61,241.33L1433.01,241.87L1433.41,243.57L1433.81,245.76L1434.21,247.86L1434.61,249.58L1435.01,250.35L1435.41,250.17L1435.81,249.99L1436.21,249.81L1436.61,249.62L1437.01,249.43L1437.41,249.24L1437.81,248.88L1438.21,247.52L1438.61,245.88L1439.01,244.3L1439.41,243.18L1439.81,242.91L1440.21,243.53L1440.61,244.64L1441.01,245.59L1441.41,245.99L1441.81,245.89L1442.21,245.6L1442.61,245.48L1443.01,245.71L1443.41,246.04L1443.81,245.81L1444.21,245.58L1444.61,245.35L1445.01,245.12L1445.41,244.89L1445.81,244.66L1446.21,244.18L1446.61,243.6L1447.01,243.16L1447.41,242.53L1447.81,241.57L1448.21,240.47L1448.61,239.45L1449.01,238.49L1449.41,237.26L1449.81,235.48L1450.21,233.25L1450.61,231.2L1451.01,230.25L1451.41,230.99L1451.81,233.22L1452.21,235.99L1452.61,238.19L1453.01,239.25L1453.41,239.31L1453.81,238.74L1454.21,237.9L1454.61,237.08L1455.01,236.23L1455.41,234.97L1455.81,232.83L1456.21,229.62L1456.61,225.75L1457.01,222.23L1457.41,220.28L1457.81,220.71L1458.21,223.36L1458.61,226.96L1459.01,229.8L1459.41,230.69L1459.81,229.24L1460.21,225.73L1460.61,221.19L1461.01,217.2L1461.41,215.29L1461.81,216.19L1462.21,219.3L1462.61,222.84L1463.01,224.8L1463.41,224.11L1463.81,221.15L1464.21,217.34L1464.61,214.31L1465.01,213.17L1465.41,213.76L1465.81,214.75L1466.21,214.65L1466.61,212.93L1467.01,210.41L1467.41,208.85L1467.81,209.74L1468.21,213.09L1468.61,217.6L1469.01,221.7L1469.41,224.62L1469.81,226.49L1470.21,227.81L1470.61,228.82L1471.01,229.47L1471.41,229.71L1471.81,229.73L1472.21,229.77L1472.61,229.91L1473.01,229.95L1473.41,229.7L1473.81,228.88L1474.21,227.23L1474.61,225.13L1475.01,223.32L1475.41,222.37L1475.81,222.31L1476.21,222.74L1476.61,223.12L1477.01,223.1L1477.41,222.56L1477.81,221.62L1478.21,220.52L1478.61,219.63L1479.01,219.28L1479.41,219.62L1479.81,220.52L1480.21,221.59L1480.61,222.46L1481.01,222.92L1481.41,222.94L1481.81,222.72L1482.21,222.51L1482.61,222.53L1483.01,222.81L1483.41,223.09L1483.81,223.14L1484.21,222.79L1484.61,221.87L1485.01,220.24L1485.41,218.03L1485.81,215.79L1486.21,214.22L1486.61,213.68L1487.01,213.98L1487.41,214.67L1487.81,215.34L1488.21,215.76L1488.61,215.86L1489.01,215.74L1489.41,215.67L1489.81,215.96L1490.21,216.76L1490.61,217.79L1491.01,218.5L1491.41,218.53L1491.81,217.64L1492.21,215.71L1492.61,213.05L1493.01,210.52L1493.41,209.21L1493.81,209.64L1494.21,211.38L1494.61,213.16L1495.01,213.8L1495.41,212.81L1495.81,210.67L1496.21,208.78L1496.61,208.48L1497.01,209.96L1497.41,212.16L1497.81,213.84L1498.21,214.41L1498.61,213.97L1499.01,212.94L1499.41,211.9L1499.81,211.32L1500.21,211.43L1500.61,212.09L1501.01,212.81L1501.41,213.17L1501.81,213.07L1502.21,212.79L1502.61,212.76L1503.01,213.29L1503.41,214.35L1503.81,215.66L1504.21,216.87L1504.61,217.63L1505.01,217.59L1505.41,217.56L1505.81,217.53L1506.21,217.5L1506.61,217.37L1507.01,214.83L1507.41,210.65L1507.81,206.43L1508.21,204.29L1508.61,205.55L1509.01,209.82L1509.41,215.03L1509.81,217.23L1510.21,217.2L1510.61,217.17L1511.01,217.14L1511.41,215.51L1511.81,210.28L1512.21,205.35L1512.61,202.47L1513.01,201.93L1513.41,202.92L1513.81,204.52L1514.21,206.26L1514.61,208.18L1515.01,210.49L1515.41,213.08L1515.81,215.47L1516.21,216.73L1516.61,216.69L1517.01,216.65L1517.41,216.62L1517.81,216.58L1518.21,216.54L1518.61,216.5L1519.01,216.45L1519.41,216.41L1519.81,216.37L1520.21,216.32L1520.61,216.27L1521.01,216.23L1521.41,215.65L1521.81,213.82L1522.21,211.81L1522.61,210.74L1523.01,211.39L1523.41,213.54L1523.81,215.83L1524.21,215.82L1524.61,215.77L1525.01,215.72L1525.41,215.66L1525.81,215.61L1526.21,215.56L1526.61,215.25L1527.01,214.49L1527.41,214.21L1527.81,214.4L1528.21,214.69L1528.61,214.68L1529.01,214.12L1529.41,212.78L1529.81,210.6L1530.21,207.67L1530.61,204.1L1531.01,200.09L1531.41,196.23L1531.81,193.48L1532.21,192.69L1532.61,193.87L1533.01,196.12L1533.41,198.28L1533.81,199.59L1534.21,199.96L1534.61,200.01L1535.01,200.61L1535.41,202.19L1535.81,204.47L1536.21,206.73L1536.61,208.47L1537.01,209.73L1537.41,210.85L1537.81,212.1L1538.21,213.37L1538.61,214.2L1539.01,214.17L1539.41,214.15L1539.81,214.13L1540.21,214.12L1540.61,214.1L1541.01,214.09L1541.41,214.08L1541.81,213.57L1542.21,210.25L1542.61,205.45L1543.01,200.95L1543.41,198.74L1543.81,199.82L1544.21,203.67L1544.61,208.68L1545.01,213.1L1545.41,214.11L1545.81,214.13L1546.21,214.15L1546.61,214.17L1547.01,214.2L1547.41,214.23L1547.81,214.26L1548.21,213.91L1548.61,213.78L1549.01,214.03L1549.41,214.12L1549.81,213.77L1550.21,213.06L1550.61,212.56L1551.01,212.76L1551.41,213.51L1551.81,214.25L1552.21,214.64L1552.61,214.77L1553.01,214.82L1553.41,214.87L1553.81,214.92L1554.21,214.97L1554.61,215.03L1555.01,215.08L1555.41,215.14L1555.81,214L1556.21,212.54L1556.61,211.89L1557.01,212.39L1557.41,213.71L1557.81,215.12L1558.21,215.53L1558.61,215.58L1559.01,215.64L1559.41,215.69L1559.81,215.74L1560.21,215.8L1560.61,215.84L1561.01,215.87L1561.41,215.79L1561.81,215.21L1562.21,213.88L1562.61,211.94L1563.01,209.77L1563.41,208.08L1563.81,207.22L1564.21,206.74L1564.61,206L1565.01,204.8L1565.41,203.42L1565.81,202.38L1566.21,202.05L1566.61,202.43L1567.01,203.18L1567.41,203.87L1567.81,204.33L1568.21,204.67L1568.61,205.08L1569.01,205.68L1569.41,206.4L1569.81,207.1L1570.21,207.6L1570.61,207.84L1571.01,207.87L1571.41,207.83L1571.81,207.9L1572.21,208.3L1572.61,209.22L1573.01,210.78L1573.41,213L1573.81,215.5L1574.21,216.83L1574.61,216.85L1575.01,216.86L1575.41,216.88L1575.81,216.72L1576.21,214.26L1576.61,211.99L1577.01,211.01L1577.41,211.01L1577.81,210.84L1578.21,209.97L1578.61,209.11L1579.01,208.98L1579.41,208.95L1579.81,207.99L1580.21,206.15L1580.61,204.38L1581.01,203.45L1581.41,203.52L1581.81,204.37L1582.21,205.78L1582.61,207.59L1583.01,209.4L1583.41,210.54L1583.81,210.24L1584.21,208.08L1584.61,204.33L1585.01,200.28L1585.41,197.56L1585.81,197.06L1586.21,198.5L1586.61,200.91L1587.01,203.37L1587.41,205.3L1587.81,206.33L1588.21,206.28L1588.61,205.23L1589.01,203.67L1589.41,202.52L1589.81,202.8L1590.21,204.84L1590.61,207.86L1591.01,210.22L1591.41,210.28L1591.81,207.64L1592.21,203.3L1592.61,198.82L1593.01,195.58L1593.41,194.55L1593.81,196.09L1594.21,199.8L1594.61,204.7L1595.01,209.6L1595.41,213.59L1595.81,216.24L1596.21,217.21L1596.61,217.18L1597.01,217.16L1597.41,217.12L1597.81,217.09L1598.21,217.05L1598.61,217.01L1599.01,216.26L1599.41,213.43L1599.81,210.72L1600.21,209.29L1600.61,209.59L1601.01,211.36L1601.41,213.83L1601.81,216.01L1602.21,216.54L1602.61,216.48L1603.01,216.41L1603.41,216.34L1603.81,216.27L1604.21,216.2L1604.61,216.12L1605.01,216.05L1605.41,215.44L1605.81,214.16L1606.21,212.58L1606.61,211.31L1607.01,210.8L1607.41,211.11L1607.81,211.89L1608.21,212.65L1608.61,212.94L1609.01,212.59L1609.41,211.68L1609.81,210.65L1610.21,210.08L1610.61,210.15L1611.01,210.39L1611.41,210.02L1611.81,208.58L1612.21,208.01L1612.61,208.16L1613.01,206.93L1613.41,205.26L1613.81,204.18L1614.21,203.91L1614.61,203.52L1615.01,201.57L1615.41,197.32L1615.81,192.1L1616.21,188.83L1616.61,189.86L1617.01,194.9L1617.41,201.27L1617.81,206.43L1618.21,209.37L1618.61,210.2L1619.01,210.15L1619.41,209.82L1619.81,209.43L1620.21,208.99L1620.61,208.52L1621.01,208.04L1621.41,207.2L1621.81,204.78L1622.21,199.97L1622.61,194.77L1623.01,189.8L1623.41,184.68L1623.81,179.67L1624.21,174.72L1624.61,170.25L1625.01,167.01L1625.41,165.31L1625.81,165.38L1626.21,165.81L1626.61,165.19L1627.01,162.67L1627.41,157.11L1627.81,149.21L1628.21,141.42L1628.61,136.46L1629.01,135.57L1629.41,138.43L1629.81,142.11L1630.21,144.34L1630.61,144.46L1631.01,143.14L1631.41,141.3L1631.81,139.41L1632.21,137.3L1632.61,134.85L1633.01,132.18L1633.41,130.35L1633.81,128.88L1634.21,128.47L1634.61,128.86L1635.01,128.79L1635.41,128.11L1635.81,126.02L1636.21,123.1L1636.61,120.51L1637.01,119.48L1637.41,120.91L1637.81,124.74L1638.21,130.2L1638.61,136L1639.01,140.96L1639.41,144.86L1639.81,147.78L1640.21,150.31L1640.61,152.89L1641.01,155.57L1641.41,158.07L1641.81,159.44L1642.21,160.83L1642.61,162.31L1643.01,163.78L1643.41,165.3L1643.81,166.75L1644.21,166.22L1644.61,165.28L1645.01,165.04L1645.41,165.86L1645.81,167.68L1646.21,170.09L1646.61,172.71L1647.01,175.36L1647.41,177.98L1647.81,180.53L1648.21,182.43L1648.61,183.48L1649.01,184.11L1649.41,183.13L1649.81,181.39L1650.21,179.44L1650.61,178.09L1651.01,177.9L1651.41,178.73L1651.81,179.97L1652.21,180.94L1652.61,181.37L1653.01,181.37L1653.41,181.2L1653.81,180.89L1654.21,180.26L1654.61,179.05L1655.01,177.29L1655.41,175.29L1655.81,173.37L1656.21,171.71L1656.61,170.51L1657.01,170.12L1657.41,170.94L1657.81,172.99L1658.21,175.79L1658.61,178.56L1659.01,180.65L1659.41,181.81L1659.81,182.06L1660.21,181.58L1660.61,180.5L1661.01,178.92L1661.41,177.03L1661.81,175.31L1662.21,174.56L1662.61,175.48L1663.01,178.09L1663.41,181.69L1663.81,185.32L1664.21,188.22L1664.61,189.93L1665.01,190.49L1665.41,190.26L1665.81,188.94L1666.21,186.97L1666.61,185.14L1667.01,183.78L1667.41,182.58L1667.81,181.2L1668.21,179.87L1668.61,179.37L1669.01,180.35L1669.41,182.7L1669.81,185.46L1670.21,187.59L1670.61,188.53L1671.01,188.28L1671.41,187.26L1671.81,186.11L1672.21,185.51L1672.61,185.84L1673.01,186.98L1673.41,188.35L1673.81,189.31L1674.21,189.57L1674.61,189.39L1675.01,189.51L1675.41,190.67L1675.81,193.06L1676.21,195.92L1676.61,197.32L1677.01,197.57L1677.41,197.81L1677.81,197.31L1678.21,193.69L1678.61,189.32L1679.01,186.28L1679.41,185.7L1679.81,187.35L1680.21,189.95L1680.61,192.12L1681.01,193.06L1681.41,192.77L1681.81,191.93L1682.21,191.6L1682.61,192.65L1683.01,195.18L1683.41,198.42L1683.81,201.13L1684.21,201.53L1684.61,201.71L1685.01,201.9L1685.41,202.09L1685.81,202.27L1686.21,202.44L1686.61,202.6L1687.01,202.72L1687.41,202.77L1687.81,202.69L1688.21,202.41L1688.61,201.91L1689.01,201.23L1689.41,200.53L1689.81,199.16L1690.21,198.74L1690.61,199.82L1691.01,201.19L1691.41,202.22L1691.81,203.23L1692.21,203.2L1692.61,201.52L1693.01,199.88L1693.41,199.48L1693.81,200.58L1694.21,202.57L1694.61,204.45L1695.01,205.48L1695.41,205.44L1695.81,204.06L1696.21,201.28L1696.61,197.85L1697.01,194.93L1697.41,193.35L1697.81,193.06L1698.21,193.35L1698.61,193.43L1699.01,192.93L1699.41,192.01L1699.81,191.02L1700.21,190.22L1700.61,189.59L1701.01,189.06L1701.41,188.67L1701.81,188.45L1702.21,188.29L1702.61,187.94L1703.01,187.4L1703.41,187.01L1703.81,187.38L1704.21,188.93L1704.61,191.58L1705.01,195.01L1705.41,198.86L1705.81,202.65L1706.21,205.72L1706.61,207.47L1707.01,207.7L1707.41,206.36L1707.81,203.58L1708.21,200.01L1708.61,196.76L1709.01,194.91L1709.41,195L1709.81,196.87L1710.21,199.75L1710.61,202.63L1711.01,204.74L1711.41,205.77L1711.81,205.82L1712.21,205.23L1712.61,204.36L1713.01,203.47L1713.41,202.65L1713.81,201.96L1714.21,201.53L1714.61,201.67L1715.01,202.56L1715.41,204.1L1715.81,205.89L1716.21,207.45L1716.61,208.48L1717.01,208.79L1717.41,208.33L1717.81,207.17L1718.21,205.65L1718.61,204.26L1719.01,203.47L1719.41,203.57L1719.81,204.52L1720.21,206.17L1720.61,208.22L1721.01,210.34L1721.41,212.28L1721.81,213.88L1722.21,215.1L1722.61,215.68L1723.01,215.91L1723.41,216.29L1723.81,216.68L1724.21,217.24L1724.61,217.7L1725.01,217.36L1725.41,216.78L1725.81,215.9L1726.21,215.17L1726.61,214.94L1727.01,215.14L1727.41,215.46L1727.81,215.26L1728.21,214.24L1728.61,212.73L1729.01,211.7L1729.41,212.28L1729.81,215.17L1730.21,219.78L1730.61,224.87L1731.01,229.35L1731.41,232.44L1731.81,234.49L1732.21,235.67L1732.61,236.43L1733.01,237.34L1733.41,238.32L1733.81,239.45L1734.21,240.12L1734.61,240.15L1735.01,238.83L1735.41,235.3L1735.81,230.13L1736.21,224.97L1736.61,221.62L1737.01,220.97L1737.41,222.73L1737.81,225.8L1738.21,229L1738.61,231.54L1739.01,233.19L1739.41,234.1L1739.81,234.66L1740.21,235.24L1740.61,236.13L1741.01,237.42L1741.41,238.87L1741.81,239.95L1742.21,240.18L1742.61,239.27L1743.01,237.25L1743.41,234.83L1743.81,233.08L1744.21,232.59L1744.61,233.14L1745.01,234.06L1745.41,234.77L1745.81,234.92L1746.21,234.34L1746.61,233.1L1747.01,231.57L1747.41,230.54L1747.81,230.81L1748.21,232.66L1748.61,235.55L1749.01,238.51L1749.41,240.81L1749.81,241.38L1750.21,241.36L1750.61,241.34L1751.01,241.32L1751.41,241.29L1751.81,241.27L1752.21,241.25L1752.61,240.36L1753.01,237.78L1753.41,235.29L1753.81,233.37L1754.21,232.19L1754.61,231.69L1755.01,231.58L1755.41,231.43L1755.81,230.96L1756.21,230.3L1756.61,229.95L1757.01,230.5L1757.41,232.17L1757.81,234.55L1758.21,236.85L1758.61,238.39L1759.01,238.87L1759.41,238.22L1759.81,236.43L1760.21,233.77L1760.61,230.83L1761.01,228.25L1761.41,226.38L1761.81,225.22L1762.21,224.55L1762.61,224.15L1763.01,223.83L1763.41,223.38L1763.81,222.45L1764.21,220.73L1764.61,218.22L1765.01,215.59L1765.41,214.04L1765.81,214.56L1766.21,217.25L1766.61,221.25L1767.01,225.37L1767.41,228.76L1767.81,231.14L1768.21,232.67L1768.61,233.67L1769.01,234.4L1769.41,234.98L1769.81,235.36L1770.21,235.58L1770.61,235.9L1771.01,236.67L1771.41,238.01L1771.81,239.56L1772.21,240.67L1772.61,240.78L1773.01,240.8L1773.41,240.8L1773.81,240.68L1774.21,240.42L1774.61,240.23L1775.01,240.04L1775.41,239.79L1775.81,239.46L1776.21,238.96L1776.61,238.22L1777.01,237.25L1777.41,236.23L1777.81,235.44L1778.21,234.9L1778.61,234.47L1779.01,233.93L1779.41,231.8L1779.81,229.05L1780.21,225.9L1780.61,223.19L1781.01,221.8L1781.41,221.44L1781.81,221.62L1782.21,221.62L1782.61,221.1L1783.01,220L1783.41,217.71L1783.81,214.8L1784.21,211.2L1784.61,206.95L1785.01,202.46L1785.41,198.31L1785.81,194.52L1786.21,191.13L1786.61,188.14L1787.01,185.44L1787.41,182.61L1787.81,179.57L1788.21,176.6L1788.61,174.04L1789.01,172.01L1789.41,171.07L1789.81,170.29L1790.21,169.9L1790.61,169.71L1791.01,169.02L1791.41,168.04L1791.81,166.12L1792.21,163.18L1792.61,159.37L1793.01,154.79L1793.41,150.58L1793.81,149.16L1794.21,151.08L1794.61,155.1L1795.01,159.22L1795.41,159.79L1795.81,156.53L1796.21,150.43L1796.61,143.3L1797.01,137.39L1797.41,134.63L1797.81,135.41L1798.21,138.92L1798.61,143.52L1799.01,147.57L1799.41,150.12L1799.81,151.01L1800.21,150.8L1800.61,150.34L1801.01,150.45L1801.41,151.49L1801.81,153.21L1802.21,155.06L1802.61,156.5L1803.01,157.28L1803.41,157.49L1803.81,157.54L1804.21,158.04L1804.61,159.45L1805.01,161.64L1805.41,163.85L1805.81,164.86L1806.21,164.95L1806.61,165.05L1807.01,164.55L1807.41,162.6L1807.81,160.08L1808.21,158.1L1808.61,157.86L1809.01,159.83L1809.41,163.24L1809.81,166L1810.21,166.9L1810.61,167.11L1811.01,165.45L1811.41,163.06L1811.81,161.34L1812.21,161.16L1812.61,162.15L1813.01,163.39L1813.41,164.56L1813.81,165.53L1814.21,166.76L1814.61,168.34L1815.01,169.94L1815.41,173.8L1815.81,177.58L1816.21,181.89L1816.61,186.81L1817.01,191.89L1817.41,196.19L1817.81,200.68L1818.21,204.26L1818.61,206.86L1819.01,209.44L1819.41,211.72L1819.81,214.25L1820.21,217.02L1820.61,219.65L1821.01,220.99L1821.41,222.15L1821.81,223.32L1822.21,224.41L1822.61,225.44L1823.01,226.47L1823.41,227.39L1823.81,228.31L1824.21,228.93L1824.61,228.25L1825.01,226.9L1825.41,225.56L1825.81,224.75L1826.21,224.4L1826.61,224.27L1827.01,224.3L1827.41,224.7L1827.81,225.78L1828.21,227.64L1828.61,229.9L1829.01,231.88L1829.41,233.02L1829.81,232.87L1830.21,231.15L1830.61,227.75L1831.01,223.63L1831.41,221.64L1831.81,224.29L1832.21,230.65L1832.61,237.27L1833.01,241.78L1833.41,243.97L1833.81,244.5L1834.21,243.92L1834.61,242.77L1835.01,241.75L1835.41,241.43L1835.81,241.96L1836.21,242.95L1836.61,243.9L1837.01,244.82L1837.41,246.34L1837.81,249.28L1838.21,253.6L1838.61,257.98L1839.01,259.27L1839.41,260.12L1839.81,261.07L1840.21,262.07L1840.61,262.73L1841.01,260.43L1841.41,258.01L1841.81,256.76L1842.21,257.01L1842.61,258.4L1843.01,260.33L1843.41,262.29L1843.81,263.93L1844.21,265L1844.61,265.38L1845.01,265.17L1845.41,264.69L1845.81,264.5L1846.21,264.97L1846.61,266.01L1847.01,267.13L1847.41,267.74L1847.81,267.7L1848.21,267.36L1848.61,267.44L1849.01,268.53L1849.41,270.73L1849.81,273.54L1850.21,276.08L1850.61,277.55L1851.01,277.07L1851.41,276.12L1851.81,276.28L1852.21,277.85L1852.61,280.3L1853.01,282.75L1853.41,284.25L1853.81,284.14L1854.21,283.76L1854.61,283.49L1855.01,283.35L1855.41,283.42L1855.81,284.06L1856.21,285.71L1856.61,288.3L1857.01,291.05L1857.41,292.69L1857.81,293.43L1858.21,294.18L1858.61,294.84L1859.01,294.76L1859.41,294.83L1859.81,295.29L1860.21,295.86L1860.61,296.2L1861.01,296.14L1861.41,295.85L1861.81,295.74L1862.21,296.22L1862.61,297.4L1863.01,299.04L1863.41,300.71L1863.81,302.09L1864.21,303.01L1864.61,303.55L1865.01,303.97L1865.41,304.58L1865.81,305.49L1866.21,306.41L1866.61,306.85L1867.01,306.34L1867.41,304.66L1867.81,302.16L1868.21,299.69L1868.61,298.19L1869.01,298.16L1869.41,299.49L1869.81,301.75L1870.21,304.37L1870.61,306.78L1871.01,308.53L1871.41,309.44L1871.81,309.79L1872.21,310.17L1872.61,311.2L1873.01,313.16L1873.41,315.8L1873.81,318.59L1874.21,320.95L1874.61,322.49L1875.01,323.19L1875.41,323.6L1875.81,323.17L1876.21,322.02L1876.61,320.7L1877.01,319.78L1877.41,319.59L1877.81,319.98L1878.21,320.42L1878.61,320.32L1879.01,319.34L1879.41,317.74L1879.81,316.32L1880.21,316L1880.61,317.24L1881.01,319.72L1881.41,322.65L1881.81,325.28L1882.21,327.24L1882.61,328.6L1883.01,329.69L1883.41,330.83L1883.81,332.15L1884.21,333.54L1884.61,334.81L1885.01,335.82L1885.41,336.53L1885.81,336.93L1886.21,337.05L1886.61,336.93L1887.01,336.68L1887.41,336.5L1887.81,336.62L1888.21,337.13L1888.61,338.05L1889.01,339.36L1889.41,341.02L1889.81,342.9L1890.21,344.73L1890.61,346.19L1891.01,346.92L1891.41,347.51L1891.81,348.11L1892.21,348.68L1892.61,348.89L1893.01,349.08L1893.41,349.46L1893.81,350.12L1894.21,351L1894.61,351.94L1895.01,352.78L1895.41,353.37L1895.81,353.95L1896.21,354.54L1896.61,355.13L1897.01,355.72L1897.41,356.3L1897.81,356.89L1898.21,357.47L1898.61,357.34L1899.01,357.4L1899.41,357.92L1899.81,358.64L1900.21,359.09L1900.61,358.94L1901.01,358.05L1901.41,356.65L1901.81,355.33L1902.21,354.71L1902.61,355.15L1903.01,356.62L1903.41,358.75L1903.81,361.08L1904.21,363.15L1904.61,364.62L1905.01,365.42L1905.41,365.61L1905.81,365.47L1906.21,365.39L1906.61,365.64L1907.01,366.22L1907.41,366.89L1907.81,367.43L1908.21,367.8L1908.61,368.07L1909.01,368.36L1909.41,368.76L1909.81,369.29L1910.21,369.9L1910.61,370.52L1911.01,371.04L1911.41,371.4L1911.81,371.64L1912.21,371.85L1912.61,372.13L1913.01,372.53L1913.41,373.06L1913.81,373.72L1914.21,374.47L1914.61,375.21L1915.01,375.77L1915.41,375.93L1915.81,375.58L1916.21,374.87L1916.61,374.14L1917.01,373.72L1917.41,373.68L1917.81,373.87L1918.21,374.18L1918.61,374.67L1919.01,375.47L1919.41,376.72L1919.81,378.29L1920.21,379.98L1920.61,381.53L1921.01,382.73L1921.41,383.5L1921.81,383.87L1922.21,383.97L1922.61,384L1923.01,384.14L1923.41,384.47L1923.81,385.02L1924.21,385.73L1924.61,386.59L1925.01,387.54L1925.41,388.42L1925.81,389.09L1926.21,389.38L1926.61,389.27L1927.01,388.92L1927.41,388.54L1927.81,388.5L1928.21,388.85L1928.61,389.5L1929.01,390.29L1929.41,390.91L1929.81,391.34L1930.21,391.56L1930.61,391.74L1931.01,392.08L1931.41,392.57L1931.81,393.14L1932.21,393.56L1932.61,393.72L1933.01,393.71L1933.41,393.68L1933.81,393.45L1934.21,393.03L1934.61,392.47L1935.01,391.82L1935.41,391L1935.81,390.09L1936.21,389.21L1936.61,388.71L1937,388.71L1940.6,396L1943,357L1945.4,280L1946.8,100L1947.9,-60L1949,100L1950.5,280L1953,357L1956.6,398L1957.5,401.4L1957.5,401.4L1109.01,401.4Z" fill="#bfbfbf" stroke="#bfbfbf" stroke-width="0.4" stroke-linejoin="round"/>
<path d="M1109.01,346.22L1110.01,346.05L1111.01,345.83L1112.01,345.58L1113.01,345.32L1114.01,345.04L1115.01,344.76L1116.01,344.48L1117.01,344.21L1118.01,343.93L1119.01,343.65L1120.01,343.37L1121.01,343.09L1122.01,342.81L1123.01,342.53L1124.01,342.26L1125.01,341.98L1126.01,341.7L1127.01,341.42L1128.01,341.14L1129.01,340.87L1130.01,340.59L1131.01,340.31L1132.01,340.03L1133.01,339.75L1134.01,339.48L1135.01,339.2L1136.01,338.92L1137.01,338.64L1138.01,338.37L1139.01,338.09L1140.01,337.81L1141.01,337.54L1142.01,337.26L1143.01,336.98L1144.01,336.7L1145.01,336.43L1146.01,336.15L1147.01,335.87L1148.01,335.6L1149.01,335.32L1150.01,335.04L1151.01,334.77L1152.01,334.49L1153.01,334.21L1154.01,333.94L1155.01,333.66L1156.01,333.38L1157.01,333.1L1158.01,332.83L1159.01,332.55L1160.01,332.27L1161.01,331.99L1162.01,331.71L1163.01,331.43L1164.01,331.15L1165.01,330.88L1166.01,330.6L1167.01,330.32L1168.01,330.04L1169.01,329.76L1170.01,329.48L1171.01,329.2L1172.01,328.92L1173.01,328.64L1174.01,328.36L1175.01,328.08L1176.01,327.8L1177.01,327.52L1178.01,327.24L1179.01,326.96L1180.01,326.69L1181.01,326.41L1182.01,326.13L1183.01,325.86L1184.01,325.58L1185.01,325.3L1186.01,325.03L1187.01,324.75L1188.01,324.48L1189.01,324.2L1190.01,323.93L1191.01,323.66L1192.01,323.39L1193.01,323.12L1194.01,322.84L1195.01,322.57L1196.01,322.31L1197.01,322.04L1198.01,321.77L1199.01,321.5L1200.01,321.24L1201.01,320.97L1202.01,320.71L1203.01,320.45L1204.01,320.19L1205.01,319.93L1206.01,319.67L1207.01,319.41L1208.01,319.15L1209.01,318.9L1210.01,318.64L1211.01,318.39L1212.01,318.14L1213.01,317.88L1214.01,317.63L1215.01,317.38L1216.01,317.13L1217.01,316.88L1218.01,316.63L1219.01,316.39L1220.01,316.14L1221.01,315.89L1222.01,315.64L1223.01,315.4L1224.01,315.15L1225.01,314.9L1226.01,314.66L1227.01,314.41L1228.01,314.17L1229.01,313.92L1230.01,313.67L1231.01,313.43L1232.01,313.18L1233.01,312.93L1234.01,312.68L1235.01,312.44L1236.01,312.19L1237.01,311.95L1238.01,311.71L1239.01,311.46L1240.01,311.22L1241.01,310.98L1242.01,310.74L1243.01,310.5L1244.01,310.27L1245.01,310.03L1246.01,309.79L1247.01,309.55L1248.01,309.31L1249.01,309.08L1250.01,308.84L1251.01,308.6L1252.01,308.36L1253.01,308.11L1254.01,307.87L1255.01,307.63L1256.01,307.38L1257.01,307.14L1258.01,306.89L1259.01,306.64L1260.01,306.38L1261.01,306.13L1262.01,305.87L1263.01,305.61L1264.01,305.35L1265.01,305.09L1266.01,304.82L1267.01,304.55L1268.01,304.28L1269.01,304.01L1270.01,303.73L1271.01,303.46L1272.01,303.18L1273.01,302.9L1274.01,302.63L1275.01,302.34L1276.01,302.06L1277.01,301.77L1278.01,301.49L1279.01,301.19L1280.01,300.9L1281.01,300.6L1282.01,300.3L1283.01,299.99L1284.01,299.68L1285.01,299.37L1286.01,299.05L1287.01,298.72L1288.01,298.39L1289.01,298.05L1290.01,297.71L1291.01,297.36L1292.01,297L1293.01,296.63L1294.01,296.25L1295.01,295.85L1296.01,295.44L1297.01,295.03L1298.01,294.6L1299.01,294.16L1300.01,293.71L1301.01,293.26L1302.01,292.8L1303.01,292.34L1304.01,291.87L1305.01,291.4L1306.01,290.93L1307.01,290.46L1308.01,289.99L1309.01,289.52L1310.01,289.06L1311.01,288.6L1312.01,288.15L1313.01,287.7L1314.01,287.26L1315.01,286.83L1316.01,286.42L1317.01,286.01L1318.01,285.61L1319.01,285.22L1320.01,284.85L1321.01,284.48L1322.01,284.12L1323.01,283.76L1324.01,283.41L1325.01,283.06L1326.01,282.71L1327.01,282.37L1328.01,282.04L1329.01,281.7L1330.01,281.37L1331.01,281.05L1332.01,280.72L1333.01,280.4L1334.01,280.08L1335.01,279.77L1336.01,279.45L1337.01,279.14L1338.01,278.83L1339.01,278.52L1340.01,278.21L1341.01,277.9L1342.01,277.6L1343.01,277.29L1344.01,276.99L1345.01,276.69L1346.01,276.38L1347.01,276.08L1348.01,275.77L1349.01,275.47L1350.01,275.17L1351.01,274.86L1352.01,274.55L1353.01,274.25L1354.01,273.94L1355.01,273.63L1356.01,273.32L1357.01,273.01L1358.01,272.7L1359.01,272.4L1360.01,272.09L1361.01,271.78L1362.01,271.48L1363.01,271.17L1364.01,270.87L1365.01,270.56L1366.01,270.26L1367.01,269.96L1368.01,269.66L1369.01,269.36L1370.01,269.06L1371.01,268.76L1372.01,268.47L1373.01,268.17L1374.01,267.88L1375.01,267.59L1376.01,267.3L1377.01,267.01L1378.01,266.72L1379.01,266.44L1380.01,266.15L1381.01,265.87L1382.01,265.59L1383.01,265.3L1384.01,265.02L1385.01,264.75L1386.01,264.47L1387.01,264.19L1388.01,263.91L1389.01,263.64L1390.01,263.37L1391.01,263.09L1392.01,262.82L1393.01,262.55L1394.01,262.28L1395.01,262.02L1396.01,261.75L1397.01,261.49L1398.01,261.22L1399.01,260.96L1400.01,260.7L1401.01,260.44L1402.01,260.19L1403.01,259.93L1404.01,259.68L1405.01,259.44L1406.01,259.2L1407.01,258.96L1408.01,258.73L1409.01,258.51L1410.01,258.29L1411.01,258.08L1412.01,257.86L1413.01,257.66L1414.01,257.45L1415.01,257.24L1416.01,257.04L1417.01,256.83L1418.01,256.62L1419.01,256.41L1420.01,256.19L1421.01,255.97L1422.01,255.75L1423.01,255.51L1424.01,255.27L1425.01,255.03L1426.01,254.77L1427.01,254.51L1428.01,254.23L1429.01,253.94L1430.01,253.64L1431.01,253.32L1432.01,252.99L1433.01,252.62L1434.01,252.24L1435.01,251.83L1436.01,251.39L1437.01,250.93L1438.01,250.44L1439.01,249.93L1440.01,249.41L1441.01,248.87L1442.01,248.32L1443.01,247.75L1444.01,247.18L1445.01,246.61L1446.01,246.03L1447.01,245.44L1448.01,244.86L1449.01,244.29L1450.01,243.72L1451.01,243.15L1452.01,242.6L1453.01,242.06L1454.01,241.53L1455.01,241.01L1456.01,240.49L1457.01,239.98L1458.01,239.46L1459.01,238.95L1460.01,238.44L1461.01,237.94L1462.01,237.43L1463.01,236.92L1464.01,236.41L1465.01,235.91L1466.01,235.4L1467.01,234.9L1468.01,234.4L1469.01,233.9L1470.01,233.4L1471.01,232.9L1472.01,232.41L1473.01,231.91L1474.01,231.42L1475.01,230.93L1476.01,230.45L1477.01,229.96L1478.01,229.48L1479.01,229L1480.01,228.53L1481.01,228.05L1482.01,227.59L1483.01,227.12L1484.01,226.66L1485.01,226.2L1486.01,225.74L1487.01,225.28L1488.01,224.83L1489.01,224.37L1490.01,223.92L1491.01,223.46L1492.01,223L1493.01,222.54L1494.01,222.06L1495.01,221.58L1496.01,221.09L1497.01,220.6L1498.01,220.12L1499.01,219.66L1500.01,219.22L1501.01,218.82L1502.01,218.45L1503.01,218.12L1504.01,217.81L1505.01,217.53L1506.01,217.27L1507.01,217.03L1508.01,216.82L1509.01,216.65L1510.01,216.52L1511.01,216.44L1512.01,216.4L1513.01,216.41L1514.01,216.46L1515.01,216.54L1516.01,216.64L1517.01,216.76L1518.01,216.9L1519.01,217.05L1520.01,217.2L1521.01,217.35L1522.01,217.49L1523.01,217.63L1524.01,217.75L1525.01,217.85L1526.01,217.92L1527.01,217.96L1528.01,217.95L1529.01,217.9L1530.01,217.8L1531.01,217.65L1532.01,217.45L1533.01,217.21L1534.01,216.94L1535.01,216.65L1536.01,216.36L1537.01,216.05L1538.01,215.76L1539.01,215.48L1540.01,215.21L1541.01,214.95L1542.01,214.7L1543.01,214.44L1544.01,214.19L1545.01,213.95L1546.01,213.73L1547.01,213.53L1548.01,213.37L1549.01,213.26L1550.01,213.21L1551.01,213.23L1552.01,213.32L1553.01,213.48L1554.01,213.71L1555.01,214L1556.01,214.33L1557.01,214.71L1558.01,215.1L1559.01,215.5L1560.01,215.9L1561.01,216.28L1562.01,216.66L1563.01,217.02L1564.01,217.37L1565.01,217.72L1566.01,218.07L1567.01,218.43L1568.01,218.8L1569.01,219.16L1570.01,219.51L1571.01,219.85L1572.01,220.16L1573.01,220.45L1574.01,220.69L1575.01,220.9L1576.01,221.06L1577.01,221.16L1578.01,221.23L1579.01,221.25L1580.01,221.25L1581.01,221.22L1582.01,221.18L1583.01,221.12L1584.01,221.05L1585.01,220.97L1586.01,220.88L1587.01,220.78L1588.01,220.68L1589.01,220.56L1590.01,220.45L1591.01,220.32L1592.01,220.19L1593.01,220.04L1594.01,219.88L1595.01,219.7L1596.01,219.5L1597.01,219.27L1598.01,219.02L1599.01,218.74L1600.01,218.43L1601.01,218.1L1602.01,217.75L1603.01,217.36L1604.01,216.94L1605.01,216.49L1606.01,215.99L1607.01,215.42L1608.01,214.79L1609.01,214.07L1610.01,213.28L1611.01,212.4L1612.01,211.45L1613.01,210.41L1614.01,209.28L1615.01,208.03L1616.01,206.63L1617.01,205.07L1618.01,203.32L1619.01,201.4L1620.01,199.35L1621.01,197.19L1622.01,194.96L1623.01,192.66L1624.01,190.29L1625.01,187.85L1626.01,185.39L1627.01,182.96L1628.01,180.64L1629.01,178.49L1630.01,176.57L1631.01,174.87L1632.01,173.38L1633.01,172.1L1634.01,171.02L1635.01,170.2L1636.01,169.66L1637.01,169.41L1638.01,169.46L1639.01,169.76L1640.01,170.27L1641.01,170.93L1642.01,171.72L1643.01,172.63L1644.01,173.67L1645.01,174.83L1646.01,176.11L1647.01,177.47L1648.01,178.86L1649.01,180.22L1650.01,181.51L1651.01,182.72L1652.01,183.86L1653.01,184.92L1654.01,185.94L1655.01,186.92L1656.01,187.86L1657.01,188.77L1658.01,189.66L1659.01,190.51L1660.01,191.33L1661.01,192.12L1662.01,192.88L1663.01,193.62L1664.01,194.33L1665.01,195.02L1666.01,195.69L1667.01,196.35L1668.01,196.99L1669.01,197.61L1670.01,198.22L1671.01,198.81L1672.01,199.39L1673.01,199.95L1674.01,200.5L1675.01,201.03L1676.01,201.54L1677.01,202.05L1678.01,202.53L1679.01,203L1680.01,203.46L1681.01,203.9L1682.01,204.33L1683.01,204.74L1684.01,205.14L1685.01,205.52L1686.01,205.9L1687.01,206.26L1688.01,206.62L1689.01,206.97L1690.01,207.31L1691.01,207.65L1692.01,207.98L1693.01,208.31L1694.01,208.65L1695.01,208.98L1696.01,209.31L1697.01,209.64L1698.01,209.97L1699.01,210.3L1700.01,210.62L1701.01,210.93L1702.01,211.24L1703.01,211.54L1704.01,211.84L1705.01,212.14L1706.01,212.45L1707.01,212.76L1708.01,213.09L1709.01,213.43L1710.01,213.79L1711.01,214.18L1712.01,214.6L1713.01,215.05L1714.01,215.55L1715.01,216.1L1716.01,216.71L1717.01,217.35L1718.01,218.05L1719.01,218.77L1720.01,219.51L1721.01,220.27L1722.01,221.03L1723.01,221.79L1724.01,222.54L1725.01,223.28L1726.01,224.02L1727.01,224.77L1728.01,225.52L1729.01,226.28L1730.01,227.04L1731.01,227.79L1732.01,228.5L1733.01,229.18L1734.01,229.79L1735.01,230.33L1736.01,230.8L1737.01,231.2L1738.01,231.54L1739.01,231.82L1740.01,232.05L1741.01,232.23L1742.01,232.35L1743.01,232.41L1744.01,232.38L1745.01,232.28L1746.01,232.11L1747.01,231.88L1748.01,231.59L1749.01,231.26L1750.01,230.89L1751.01,230.49L1752.01,230.07L1753.01,229.62L1754.01,229.14L1755.01,228.61L1756.01,228.04L1757.01,227.41L1758.01,226.73L1759.01,226L1760.01,225.24L1761.01,224.43L1762.01,223.59L1763.01,222.72L1764.01,221.8L1765.01,220.83L1766.01,219.81L1767.01,218.73L1768.01,217.61L1769.01,216.43L1770.01,215.21L1771.01,213.95L1772.01,212.66L1773.01,211.32L1774.01,209.96L1775.01,208.55L1776.01,207.09L1777.01,205.56L1778.01,203.97L1779.01,202.31L1780.01,200.59L1781.01,198.82L1782.01,197.04L1783.01,195.24L1784.01,193.47L1785.01,191.72L1786.01,190.02L1787.01,188.38L1788.01,186.77L1789.01,185.2L1790.01,183.65L1791.01,182.13L1792.01,180.66L1793.01,179.29L1794.01,178.04L1795.01,176.97L1796.01,176.09L1797.01,175.4L1798.01,174.87L1799.01,174.49L1800.01,174.23L1801.01,174.1L1802.01,174.1L1803.01,174.26L1804.01,174.59L1805.01,175.1L1806.01,175.79L1807.01,176.68L1808.01,177.77L1809.01,179.08L1810.01,180.56L1811.01,182.17L1812.01,183.88L1813.01,185.67L1814.01,187.54L1815.01,189.52L1816.01,191.64L1817.01,193.89L1818.01,196.24L1819.01,198.66L1820.01,201.11L1821.01,203.55L1822.01,205.96L1823.01,208.35L1824.01,210.74L1825.01,213.12L1826.01,215.51L1827.01,217.92L1828.01,220.34L1829.01,222.77L1830.01,225.2L1831.01,227.62L1832.01,230.03L1833.01,232.42L1834.01,234.8L1835.01,237.17L1836.01,239.51L1837.01,241.83L1838.01,244.13L1839.01,246.4L1840.01,248.64L1841.01,250.84L1842.01,253.01L1843.01,255.15L1844.01,257.24L1845.01,259.31L1846.01,261.35L1847.01,263.36L1848.01,265.36L1849.01,267.35L1850.01,269.32L1851.01,271.28L1852.01,273.23L1853.01,275.18L1854.01,277.11L1855.01,279.03L1856.01,280.94L1857.01,282.84L1858.01,284.73L1859.01,286.62L1860.01,288.49L1861.01,290.36L1862.01,292.23L1863.01,294.09L1864.01,295.95L1865.01,297.8L1866.01,299.64L1867.01,301.47L1868.01,303.27L1869.01,305.05L1870.01,306.79L1871.01,308.49L1872.01,310.16L1873.01,311.78L1874.01,313.36L1875.01,314.91L1876.01,316.43L1877.01,317.93L1878.01,319.41L1879.01,320.87L1880.01,322.33L1881.01,323.78L1882.01,325.23L1883.01,326.67L1884.01,328.11L1885.01,329.54L1886.01,330.96L1887.01,332.37L1888.01,333.77L1889.01,335.16L1890.01,336.53L1891.01,337.9L1892.01,339.25L1893.01,340.6L1894.01,341.94L1895.01,343.26L1896.01,344.58L1897.01,345.88L1898.01,347.16L1899.01,348.42L1900.01,349.66L1901.01,350.88L1902.01,352.07L1903.01,353.25L1904.01,354.4L1905.01,355.53L1906.01,356.65L1907.01,357.75L1908.01,358.84L1909.01,359.92L1910.01,360.98L1911.01,362.04L1912.01,363.09L1913.01,364.13L1914.01,365.15L1915.01,366.17L1916.01,367.17L1917.01,368.16L1918.01,369.13L1919.01,370.09L1920.01,371.06L1921.01,372.09L1922.01,373.05L1923.01,374L1924.01,374.99L1925,376.01L1925.2,376.21L1925.4,376.41L1925.6,376.61L1925.8,376.81L1926,377L1926.2,377.19L1926.4,377.38L1926.6,377.56L1926.8,377.73L1927,377.91L1927.2,378.07L1927.4,378.23L1927.6,378.38L1927.8,378.53L1928,378.67L1928.2,378.8L1928.4,378.93L1928.6,379.06L1928.8,379.19L1929,379.33L1929.2,379.46L1929.4,379.59L1929.6,379.73L1929.8,379.85L1930,379.98L1930.2,380.1L1930.4,380.22L1930.6,380.33L1930.8,380.43L1931,380.53L1931.2,380.61L1931.4,380.69L1931.6,380.76L1931.8,380.81L1932,380.85L1932.2,380.88L1932.4,380.9L1932.6,380.9L1932.8,380.88L1933,380.85L1933.2,380.8L1933.4,380.74L1933.6,380.67L1933.8,380.59L1934,380.49L1934.2,380.38L1934.4,380.26L1934.6,380.14L1934.8,380L1935,379.86L1935.2,379.7L1935.4,379.55L1935.6,379.38L1935.8,379.21L1936,378.98L1936.2,378.7L1936.4,378.37L1936.6,377.98L1936.8,377.56L1937,377.09L1937.2,376.58L1937.4,376.04L1937.6,375.46L1937.8,374.86L1938,374.22L1938.2,373.57L1938.4,372.9L1938.6,372.16L1938.8,371.32L1939,370.37L1939.2,369.33L1939.4,368.19L1939.6,366.97L1939.8,365.67L1940,364.3L1940.2,362.75L1940.4,360.97L1940.6,359L1940.8,356.9L1941,354.71L1941.2,352.47L1941.4,350.11L1941.6,347.61L1941.8,344.97L1942,342.16L1942.2,339.19L1942.4,336.03L1942.6,332.67L1942.8,329.11L1943,325.36L1943.2,321.4L1943.4,317.3L1943.6,312.99L1943.8,308.27L1944,302.95L1944.2,296.55L1944.4,288.23L1944.6,280L1944.8,272.98L1945,266.52L1945.2,260.38L1945.4,254.31L1945.6,248.06L1945.8,241.37L1946,234.01L1946.2,225.98L1946.4,217.34L1946.6,205L1946.8,182.13L1947,145.62L1947.2,97.57L1947.4,40.05L1947.6,-31.4L1947.8,-140.43L1948,-278L1948.2,-400L1948.4,-278L1948.6,-140.43L1948.8,-31.4L1949,40.18L1949.2,98.44L1949.4,147.25L1949.6,183.72L1949.8,205L1950,216.76L1950.2,226.74L1950.4,235.2L1950.6,242.38L1950.8,248.51L1951,253.86L1951.2,258.66L1951.4,263.15L1951.6,267.58L1951.8,272.2L1952,277.24L1952.2,282.86L1952.4,288.61L1952.6,294.35L1952.8,300.01L1953,305.54L1953.2,310.88L1953.4,315.97L1953.6,320.76L1953.8,325.18L1954,329.18L1954.2,332.74L1954.4,336.08L1954.6,339.25L1954.8,342.25L1955,345.08L1955.2,347.73L1955.4,350.21L1955.6,352.52L1955.8,354.65L1956,356.6L1956.2,358.45L1956.4,360.28L1956.6,362.06L1956.8,363.82L1957,365.52L1957.2,367.18L1957.4,368.79L1957.6,370.33L1957.8,371.82L1958,373.24L1958.2,374.59L1958.4,375.85L1958.6,377.04L1958.8,378.15L1959,379.16L1959.2,380.07L1959.4,380.89L1959.6,381.6L1959.8,382.2L1960,382.74L1960.2,383.26L1960.4,383.78L1960.6,384.28L1960.8,384.76L1961,385.24L1961.2,385.7L1961.4,386.15L1961.6,386.59L1961.8,387.02L1962,387.43L1962.2,387.83L1962.4,388.23L1962.6,388.61L1962.8,388.97L1963,389.33L1963.2,389.68L1963.4,390.01L1963.6,390.34L1963.8,390.65L1964,390.96L1964.2,391.25L1964.4,391.53L1964.6,391.8L1964.8,392.06L1965,392.31L1965.2,392.56L1965.4,392.79L1965.6,393.01L1965.8,393.22L1966,393.42L1966.2,393.62L1966.4,393.8L1966.6,393.97L1966.8,394.14L1967,394.3L1967.2,394.44L1967.4,394.58L1967.6,394.71L1967.8,394.83L1968,394.95L1968.2,395.05L1968.4,395.15L1968.6,395.25L1968.8,395.35L1969,395.45L1969.2,395.54L1969.4,395.63L1969.6,395.72L1969.8,395.81L1970,395.9L1970.2,395.98L1970.4,396.07L1970.6,396.15L1970.8,396.23L1971,396.3L1971.2,396.38L1971.4,396.45L1971.6,396.52L1971.8,396.6L1972,396.66L1972.2,396.73L1972.4,396.8L1972.6,396.86L1972.8,396.93L1973,396.99L1973.2,397.05L1973.4,397.11L1973.6,397.17L1973.8,397.23L1974,397.28L1974.2,397.34L1974.4,397.39L1974.6,397.44L1974.8,397.5L1975,397.55L1975.2,397.6L1975.4,397.65L1975.6,397.7L1975.8,397.74L1976,397.79L1976.2,397.84L1976.4,397.88L1976.6,397.93L1976.8,397.97L1977,398.01L1977.2,398.06L1977.4,398.1L1977.6,398.14L1977.8,398.18L1978,398.22L1978.2,398.26L1978.4,398.3L1978.6,398.34L1978.8,398.38L1979,398.42L1979.2,398.46L1979.4,398.5L1979.6,398.54L1979.8,398.58L1980,398.62L1980.2,398.66L1980.4,398.7L1980.6,398.74L1980.8,398.78L1981,398.82L1981.2,398.86L1981.4,398.9L1981.6,398.94L1981.8,398.98L1982,399.01L1982.2,399.05L1982.4,399.09L1982.6,399.13L1982.8,399.16L1983,399.2L1983.2,399.23L1983.4,399.27L1983.6,399.3L1983.8,399.34L1984,399.37L1984.2,399.4L1984.4,399.44L1984.6,399.47L1984.8,399.5L1985,399.53L1985.2,399.56L1985.4,399.59L1985.6,399.62L1985.8,399.65L1986,399.68L1986.2,399.71L1986.4,399.74L1986.6,399.76L1986.8,399.79L1987,399.82L1987.2,399.84L1987.4,399.86L1987.6,399.89L1987.8,399.91L1988,399.94L1988.2,399.96L1988.4,399.98L1988.6,400L1988.8,400.02L1989,400.04L1989.2,400.06L1989.4,400.08L1989.6,400.09L1989.8,400.11L1990,400.13L1990.2,400.14L1990.4,400.16L1990.6,400.17L1990.8,400.19L1991,400.2" fill="none" stroke="#1f77b4" stroke-width="4" stroke-linejoin="round"/>
<path d="M1109.01,350.47L1110.01,350.3L1111.01,350.08L1112.01,349.83L1113.01,349.56L1114.01,349.28L1115.01,349L1116.01,348.72L1117.01,348.44L1118.01,348.16L1119.01,347.88L1120.01,347.6L1121.01,347.32L1122.01,347.05L1123.01,346.77L1124.01,346.49L1125.01,346.21L1126.01,345.93L1127.01,345.65L1128.01,345.37L1129.01,345.09L1130.01,344.82L1131.01,344.54L1132.01,344.26L1133.01,343.98L1134.01,343.7L1135.01,343.43L1136.01,343.15L1137.01,342.87L1138.01,342.6L1139.01,342.32L1140.01,342.04L1141.01,341.77L1142.01,341.49L1143.01,341.21L1144.01,340.94L1145.01,340.66L1146.01,340.39L1147.01,340.11L1148.01,339.84L1149.01,339.56L1150.01,339.29L1151.01,339.01L1152.01,338.74L1153.01,338.46L1154.01,338.19L1155.01,337.92L1156.01,337.64L1157.01,337.37L1158.01,337.09L1159.01,336.82L1160.01,336.55L1161.01,336.27L1162.01,336L1163.01,335.72L1164.01,335.45L1165.01,335.17L1166.01,334.9L1167.01,334.62L1168.01,334.35L1169.01,334.08L1170.01,333.8L1171.01,333.53L1172.01,333.26L1173.01,332.98L1174.01,332.71L1175.01,332.44L1176.01,332.16L1177.01,331.89L1178.01,331.62L1179.01,331.35L1180.01,331.07L1181.01,330.8L1182.01,330.53L1183.01,330.26L1184.01,329.99L1185.01,329.72L1186.01,329.45L1187.01,329.18L1188.01,328.91L1189.01,328.65L1190.01,328.38L1191.01,328.11L1192.01,327.84L1193.01,327.58L1194.01,327.31L1195.01,327.05L1196.01,326.78L1197.01,326.52L1198.01,326.26L1199.01,325.99L1200.01,325.73L1201.01,325.47L1202.01,325.21L1203.01,324.95L1204.01,324.69L1205.01,324.43L1206.01,324.17L1207.01,323.92L1208.01,323.66L1209.01,323.41L1210.01,323.15L1211.01,322.9L1212.01,322.64L1213.01,322.39L1214.01,322.14L1215.01,321.89L1216.01,321.63L1217.01,321.38L1218.01,321.13L1219.01,320.88L1220.01,320.63L1221.01,320.39L1222.01,320.14L1223.01,319.89L1224.01,319.64L1225.01,319.4L1226.01,319.15L1227.01,318.9L1228.01,318.66L1229.01,318.41L1230.01,318.17L1231.01,317.92L1232.01,317.68L1233.01,317.43L1234.01,317.19L1235.01,316.95L1236.01,316.71L1237.01,316.47L1238.01,316.24L1239.01,316.01L1240.01,315.77L1241.01,315.55L1242.01,315.32L1243.01,315.09L1244.01,314.87L1245.01,314.65L1246.01,314.42L1247.01,314.2L1248.01,313.98L1249.01,313.76L1250.01,313.54L1251.01,313.32L1252.01,313.1L1253.01,312.87L1254.01,312.65L1255.01,312.43L1256.01,312.2L1257.01,311.97L1258.01,311.74L1259.01,311.51L1260.01,311.28L1261.01,311.05L1262.01,310.81L1263.01,310.57L1264.01,310.32L1265.01,310.08L1266.01,309.83L1267.01,309.58L1268.01,309.32L1269.01,309.06L1270.01,308.79L1271.01,308.52L1272.01,308.25L1273.01,307.97L1274.01,307.68L1275.01,307.39L1276.01,307.09L1277.01,306.79L1278.01,306.47L1279.01,306.15L1280.01,305.83L1281.01,305.5L1282.01,305.16L1283.01,304.82L1284.01,304.47L1285.01,304.12L1286.01,303.76L1287.01,303.4L1288.01,303.04L1289.01,302.67L1290.01,302.31L1291.01,301.94L1292.01,301.57L1293.01,301.19L1294.01,300.82L1295.01,300.45L1296.01,300.07L1297.01,299.7L1298.01,299.33L1299.01,298.96L1300.01,298.58L1301.01,298.2L1302.01,297.82L1303.01,297.44L1304.01,297.05L1305.01,296.66L1306.01,296.27L1307.01,295.87L1308.01,295.47L1309.01,295.07L1310.01,294.67L1311.01,294.26L1312.01,293.86L1313.01,293.45L1314.01,293.05L1315.01,292.64L1316.01,292.24L1317.01,291.84L1318.01,291.43L1319.01,291.03L1320.01,290.64L1321.01,290.24L1322.01,289.85L1323.01,289.46L1324.01,289.07L1325.01,288.69L1326.01,288.32L1327.01,287.94L1328.01,287.58L1329.01,287.22L1330.01,286.86L1331.01,286.5L1332.01,286.15L1333.01,285.8L1334.01,285.46L1335.01,285.12L1336.01,284.78L1337.01,284.44L1338.01,284.1L1339.01,283.77L1340.01,283.44L1341.01,283.11L1342.01,282.78L1343.01,282.45L1344.01,282.13L1345.01,281.81L1346.01,281.48L1347.01,281.16L1348.01,280.84L1349.01,280.53L1350.01,280.21L1351.01,279.89L1352.01,279.58L1353.01,279.26L1354.01,278.95L1355.01,278.63L1356.01,278.32L1357.01,278.01L1358.01,277.7L1359.01,277.39L1360.01,277.08L1361.01,276.77L1362.01,276.47L1363.01,276.16L1364.01,275.86L1365.01,275.55L1366.01,275.25L1367.01,274.95L1368.01,274.65L1369.01,274.35L1370.01,274.06L1371.01,273.76L1372.01,273.47L1373.01,273.17L1374.01,272.88L1375.01,272.59L1376.01,272.3L1377.01,272.01L1378.01,271.73L1379.01,271.44L1380.01,271.16L1381.01,270.87L1382.01,270.59L1383.01,270.31L1384.01,270.03L1385.01,269.75L1386.01,269.47L1387.01,269.19L1388.01,268.92L1389.01,268.64L1390.01,268.37L1391.01,268.1L1392.01,267.83L1393.01,267.56L1394.01,267.29L1395.01,267.02L1396.01,266.76L1397.01,266.49L1398.01,266.23L1399.01,265.97L1400.01,265.71L1401.01,265.45L1402.01,265.19L1403.01,264.94L1404.01,264.69L1405.01,264.44L1406.01,264.2L1407.01,263.97L1408.01,263.74L1409.01,263.51L1410.01,263.29L1411.01,263.08L1412.01,262.87L1413.01,262.66L1414.01,262.45L1415.01,262.25L1416.01,262.04L1417.01,261.83L1418.01,261.62L1419.01,261.41L1420.01,261.2L1421.01,260.98L1422.01,260.75L1423.01,260.52L1424.01,260.28L1425.01,260.03L1426.01,259.78L1427.01,259.51L1428.01,259.24L1429.01,258.95L1430.01,258.65L1431.01,258.33L1432.01,257.99L1433.01,257.63L1434.01,257.25L1435.01,256.84L1436.01,256.4L1437.01,255.94L1438.01,255.46L1439.01,254.96L1440.01,254.44L1441.01,253.91L1442.01,253.36L1443.01,252.8L1444.01,252.23L1445.01,251.66L1446.01,251.08L1447.01,250.5L1448.01,249.91L1449.01,249.33L1450.01,248.76L1451.01,248.19L1452.01,247.63L1453.01,247.08L1454.01,246.53L1455.01,245.99L1456.01,245.46L1457.01,244.92L1458.01,244.38L1459.01,243.84L1460.01,243.3L1461.01,242.75L1462.01,242.21L1463.01,241.66L1464.01,241.11L1465.01,240.57L1466.01,240.02L1467.01,239.48L1468.01,238.94L1469.01,238.4L1470.01,237.86L1471.01,237.33L1472.01,236.8L1473.01,236.28L1474.01,235.76L1475.01,235.25L1476.01,234.74L1477.01,234.24L1478.01,233.75L1479.01,233.27L1480.01,232.79L1481.01,232.32L1482.01,231.85L1483.01,231.39L1484.01,230.94L1485.01,230.49L1486.01,230.05L1487.01,229.61L1488.01,229.18L1489.01,228.75L1490.01,228.32L1491.01,227.9L1492.01,227.47L1493.01,227.04L1494.01,226.6L1495.01,226.15L1496.01,225.69L1497.01,225.22L1498.01,224.75L1499.01,224.28L1500.01,223.82L1501.01,223.38L1502.01,222.97L1503.01,222.59L1504.01,222.25L1505.01,221.96L1506.01,221.72L1507.01,221.53L1508.01,221.39L1509.01,221.29L1510.01,221.21L1511.01,221.15L1512.01,221.1L1513.01,221.06L1514.01,221.02L1515.01,220.99L1516.01,220.96L1517.01,220.93L1518.01,220.91L1519.01,220.88L1520.01,220.86L1521.01,220.83L1522.01,220.8L1523.01,220.77L1524.01,220.74L1525.01,220.7L1526.01,220.65L1527.01,220.6L1528.01,220.53L1529.01,220.44L1530.01,220.34L1531.01,220.22L1532.01,220.07L1533.01,219.91L1534.01,219.73L1535.01,219.54L1536.01,219.34L1537.01,219.13L1538.01,218.92L1539.01,218.71L1540.01,218.5L1541.01,218.29L1542.01,218.09L1543.01,217.9L1544.01,217.73L1545.01,217.57L1546.01,217.43L1547.01,217.31L1548.01,217.23L1549.01,217.17L1550.01,217.15L1551.01,217.18L1552.01,217.26L1553.01,217.39L1554.01,217.58L1555.01,217.81L1556.01,218.09L1557.01,218.4L1558.01,218.74L1559.01,219.09L1560.01,219.45L1561.01,219.81L1562.01,220.16L1563.01,220.5L1564.01,220.82L1565.01,221.12L1566.01,221.41L1567.01,221.69L1568.01,221.97L1569.01,222.25L1570.01,222.53L1571.01,222.81L1572.01,223.09L1573.01,223.35L1574.01,223.59L1575.01,223.82L1576.01,224.02L1577.01,224.19L1578.01,224.32L1579.01,224.42L1580.01,224.48L1581.01,224.5L1582.01,224.49L1583.01,224.45L1584.01,224.39L1585.01,224.31L1586.01,224.2L1587.01,224.09L1588.01,223.95L1589.01,223.8L1590.01,223.64L1591.01,223.46L1592.01,223.28L1593.01,223.08L1594.01,222.88L1595.01,222.65L1596.01,222.4L1597.01,222.13L1598.01,221.81L1599.01,221.45L1600.01,221.05L1601.01,220.6L1602.01,220.11L1603.01,219.57L1604.01,219L1605.01,218.38L1606.01,217.71L1607.01,217L1608.01,216.2L1609.01,215.32L1610.01,214.33L1611.01,213.22L1612.01,211.99L1613.01,210.64L1614.01,209.2L1615.01,207.65L1616.01,206.02L1617.01,204.29L1618.01,202.45L1619.01,200.46L1620.01,198.32L1621.01,196.05L1622.01,193.68L1623.01,191.29L1624.01,188.91L1625.01,186.58L1626.01,184.33L1627.01,182.14L1628.01,180.02L1629.01,178L1630.01,176.14L1631.01,174.47L1632.01,173.05L1633.01,171.88L1634.01,170.95L1635.01,170.23L1636.01,169.7L1637.01,169.37L1638.01,169.25L1639.01,169.34L1640.01,169.65L1641.01,170.14L1642.01,170.78L1643.01,171.54L1644.01,172.37L1645.01,173.25L1646.01,174.19L1647.01,175.18L1648.01,176.23L1649.01,177.34L1650.01,178.5L1651.01,179.69L1652.01,180.88L1653.01,182.04L1654.01,183.16L1655.01,184.23L1656.01,185.24L1657.01,186.21L1658.01,187.13L1659.01,188.02L1660.01,188.89L1661.01,189.73L1662.01,190.55L1663.01,191.34L1664.01,192.1L1665.01,192.84L1666.01,193.55L1667.01,194.23L1668.01,194.88L1669.01,195.51L1670.01,196.12L1671.01,196.71L1672.01,197.28L1673.01,197.84L1674.01,198.39L1675.01,198.92L1676.01,199.44L1677.01,199.94L1678.01,200.43L1679.01,200.91L1680.01,201.37L1681.01,201.82L1682.01,202.26L1683.01,202.69L1684.01,203.1L1685.01,203.5L1686.01,203.88L1687.01,204.26L1688.01,204.62L1689.01,204.96L1690.01,205.29L1691.01,205.61L1692.01,205.93L1693.01,206.23L1694.01,206.53L1695.01,206.82L1696.01,207.11L1697.01,207.4L1698.01,207.69L1699.01,207.98L1700.01,208.27L1701.01,208.57L1702.01,208.87L1703.01,209.18L1704.01,209.5L1705.01,209.83L1706.01,210.16L1707.01,210.5L1708.01,210.84L1709.01,211.19L1710.01,211.55L1711.01,211.91L1712.01,212.29L1713.01,212.69L1714.01,213.1L1715.01,213.54L1716.01,214L1717.01,214.5L1718.01,215.03L1719.01,215.58L1720.01,216.17L1721.01,216.77L1722.01,217.39L1723.01,218.02L1724.01,218.66L1725.01,219.3L1726.01,219.93L1727.01,220.56L1728.01,221.2L1729.01,221.84L1730.01,222.5L1731.01,223.17L1732.01,223.84L1733.01,224.49L1734.01,225.11L1735.01,225.66L1736.01,226.15L1737.01,226.54L1738.01,226.85L1739.01,227.08L1740.01,227.25L1741.01,227.36L1742.01,227.42L1743.01,227.42L1744.01,227.35L1745.01,227.21L1746.01,226.98L1747.01,226.68L1748.01,226.32L1749.01,225.9L1750.01,225.44L1751.01,224.95L1752.01,224.44L1753.01,223.9L1754.01,223.35L1755.01,222.76L1756.01,222.12L1757.01,221.44L1758.01,220.72L1759.01,219.95L1760.01,219.14L1761.01,218.29L1762.01,217.4L1763.01,216.46L1764.01,215.48L1765.01,214.45L1766.01,213.36L1767.01,212.21L1768.01,211L1769.01,209.74L1770.01,208.43L1771.01,207.07L1772.01,205.66L1773.01,204.2L1774.01,202.69L1775.01,201.11L1776.01,199.46L1777.01,197.7L1778.01,195.83L1779.01,193.86L1780.01,191.8L1781.01,189.68L1782.01,187.53L1783.01,185.38L1784.01,183.27L1785.01,181.22L1786.01,179.27L1787.01,177.43L1788.01,175.7L1789.01,174.06L1790.01,172.51L1791.01,171.03L1792.01,169.61L1793.01,168.26L1794.01,166.98L1795.01,165.81L1796.01,164.73L1797.01,163.77L1798.01,162.92L1799.01,162.17L1800.01,161.53L1801.01,161.02L1802.01,160.67L1803.01,160.51L1804.01,160.56L1805.01,160.83L1806.01,161.29L1807.01,161.91L1808.01,162.68L1809.01,163.55L1810.01,164.53L1811.01,165.63L1812.01,166.86L1813.01,168.23L1814.01,169.76L1815.01,171.45L1816.01,173.29L1817.01,175.29L1818.01,177.43L1819.01,179.66L1820.01,181.96L1821.01,184.29L1822.01,186.63L1823.01,188.99L1824.01,191.38L1825.01,193.82L1826.01,196.3L1827.01,198.83L1828.01,201.42L1829.01,204.04L1830.01,206.67L1831.01,209.3L1832.01,211.91L1833.01,214.5L1834.01,217.09L1835.01,219.69L1836.01,222.32L1837.01,225L1838.01,227.72L1839.01,230.47L1840.01,233.21L1841.01,235.91L1842.01,238.55L1843.01,241.11L1844.01,243.59L1845.01,246L1846.01,248.36L1847.01,250.66L1848.01,252.92L1849.01,255.15L1850.01,257.33L1851.01,259.49L1852.01,261.61L1853.01,263.7L1854.01,265.76L1855.01,267.79L1856.01,269.8L1857.01,271.78L1858.01,273.76L1859.01,275.72L1860.01,277.68L1861.01,279.63L1862.01,281.58L1863.01,283.52L1864.01,285.47L1865.01,287.4L1866.01,289.32L1867.01,291.23L1868.01,293.13L1869.01,295L1870.01,296.85L1871.01,298.67L1872.01,300.47L1873.01,302.24L1874.01,303.98L1875.01,305.69L1876.01,307.39L1877.01,309.06L1878.01,310.73L1879.01,312.39L1880.01,314.04L1881.01,315.7L1882.01,317.37L1883.01,319.04L1884.01,320.71L1885.01,322.39L1886.01,324.05L1887.01,325.69L1888.01,327.3L1889.01,328.86L1890.01,330.38L1891.01,331.84L1892.01,333.26L1893.01,334.63L1894.01,335.96L1895.01,337.26L1896.01,338.53L1897.01,339.77L1898.01,340.98L1899.01,342.18L1900.01,343.36L1901.01,344.52L1902.01,345.66L1903.01,346.79L1904.01,347.91L1905.01,349.01L1906.01,350.09L1907.01,351.16L1908.01,352.21L1909.01,353.23L1910.01,354.23L1911.01,355.2L1912.01,356.15L1913.01,357.1L1914.01,358.13L1915.01,359.09L1916.01,360.03L1917.01,360.93L1918,361.79L1918.2,361.96L1918.4,362.12L1918.6,362.28L1918.8,362.44L1919,362.6L1919.2,362.75L1919.4,362.9L1919.6,363.05L1919.8,363.19L1920,363.33L1920.2,363.47L1920.4,363.6L1920.6,363.74L1920.8,363.86L1921,364L1921.2,364.13L1921.4,364.27L1921.6,364.41L1921.8,364.55L1922,364.69L1922.2,364.83L1922.4,364.97L1922.6,365.11L1922.8,365.24L1923,365.37L1923.2,365.5L1923.4,365.63L1923.6,365.75L1923.8,365.87L1924,365.98L1924.2,366.08L1924.4,366.18L1924.6,366.26L1924.8,366.34L1925,366.41L1925.2,366.47L1925.4,366.52L1925.6,366.56L1925.8,366.59L1926,366.6L1926.2,366.6L1926.4,366.59L1926.6,366.56L1926.8,366.52L1927,366.48L1927.2,366.42L1927.4,366.35L1927.6,366.27L1927.8,366.18L1928,366.08L1928.2,365.97L1928.4,365.86L1928.6,365.73L1928.8,365.6L1929,365.46L1929.2,365.31L1929.4,365.16L1929.6,365L1929.8,364.83L1930,364.66L1930.2,364.48L1930.4,364.3L1930.6,364.09L1930.8,363.82L1931,363.49L1931.2,363.12L1931.4,362.69L1931.6,362.22L1931.8,361.71L1932,361.16L1932.2,360.58L1932.4,359.96L1932.6,359.31L1932.8,358.63L1933,357.93L1933.2,357.2L1933.4,356.46L1933.6,355.7L1933.8,354.88L1934,353.95L1934.2,352.93L1934.4,351.82L1934.6,350.62L1934.8,349.35L1935,348.01L1935.2,346.61L1935.4,345.16L1935.6,343.66L1935.8,342.1L1936,340.35L1936.2,338.43L1936.4,336.38L1936.6,334.25L1936.8,332.09L1937,329.93L1937.2,327.82L1937.4,325.79L1937.6,323.77L1937.8,321.75L1938,319.73L1938.2,317.7L1938.4,315.69L1938.6,313.68L1938.8,311.69L1939,309.75L1939.2,308.03L1939.4,306.38L1939.6,304.62L1939.8,302.56L1940,300L1940.2,296.18L1940.4,291.01L1940.6,285.34L1940.8,280L1941,275.27L1941.2,270.8L1941.4,266.5L1941.6,262.28L1941.8,258.03L1942,253.66L1942.2,249.08L1942.4,244.2L1942.6,238.9L1942.8,233.11L1943,226.66L1943.2,219.04L1943.4,210.05L1943.6,199.54L1943.8,187.39L1944,173.74L1944.2,158.73L1944.4,142.53L1944.6,125.29L1944.8,107.15L1945,88.27L1945.2,68.8L1945.4,48.9L1945.6,28.71L1945.8,8.4L1946,-12.75L1946.2,-35.35L1946.4,-59.17L1946.6,-83.92L1946.8,-109.36L1947,-135.22L1947.2,-161.24L1947.4,-187.16L1947.6,-213.69L1947.8,-245.35L1948,-280.26L1948.2,-315.47L1948.4,-348.01L1948.6,-374.92L1948.8,-393.24L1949,-400L1949.2,-393.07L1949.4,-374.37L1949.6,-347L1949.8,-314.07L1950,-278.7L1950.2,-244L1950.4,-213.07L1950.6,-188.02L1950.8,-164.6L1951,-141.83L1951.2,-119.59L1951.4,-97.79L1951.6,-76.32L1951.8,-55.07L1952,-33.94L1952.2,-12.82L1952.4,8.4L1952.6,30.65L1952.8,54.33L1953,78.72L1953.2,103.1L1953.4,126.76L1953.6,148.98L1953.8,169.03L1954,186.2L1954.2,199.78L1954.4,209.54L1954.6,218L1954.8,225.71L1955,232.73L1955.2,239.15L1955.4,245.04L1955.6,250.47L1955.8,255.53L1956,260.28L1956.2,264.81L1956.4,269.2L1956.6,273.51L1956.8,277.82L1957,282.19L1957.2,286.53L1957.4,290.8L1957.6,295L1957.8,299.09L1958,303.07L1958.2,306.92L1958.4,310.62L1958.6,314.16L1958.8,317.52L1959,320.67L1959.2,323.62L1959.4,326.33L1959.6,328.8L1959.8,331L1960,333L1960.2,334.86L1960.4,336.61L1960.6,338.26L1960.8,339.81L1961,341.28L1961.2,342.67L1961.4,344.01L1961.6,345.3L1961.8,346.55L1962,347.78L1962.2,348.99L1962.4,350.2L1962.6,351.41L1962.8,352.62L1963,353.82L1963.2,355L1963.4,356.17L1963.6,357.33L1963.8,358.46L1964,359.57L1964.2,360.65L1964.4,361.71L1964.6,362.73L1964.8,363.72L1965,364.67L1965.2,365.57L1965.4,366.44L1965.6,367.26L1965.8,368.02L1966,368.74L1966.2,369.4L1966.4,370.02L1966.6,370.63L1966.8,371.23L1967,371.81L1967.2,372.37L1967.4,372.92L1967.6,373.46L1967.8,373.98L1968,374.49L1968.2,374.99L1968.4,375.47L1968.6,375.94L1968.8,376.4L1969,376.85L1969.2,377.28L1969.4,377.7L1969.6,378.11L1969.8,378.51L1970,378.9L1970.2,379.27L1970.4,379.64L1970.6,379.99L1970.8,380.34L1971,380.67L1971.2,381L1971.4,381.31L1971.6,381.62L1971.8,381.91L1972,382.2L1972.2,382.48L1972.4,382.76L1972.6,383.03L1972.8,383.29L1973,383.55L1973.2,383.81L1973.4,384.06L1973.6,384.31L1973.8,384.55L1974,384.79L1974.2,385.03L1974.4,385.26L1974.6,385.48L1974.8,385.71L1975,385.92L1975.2,386.14L1975.4,386.35L1975.6,386.56L1975.8,386.76L1976,386.97L1976.2,387.16L1976.4,387.36L1976.6,387.55L1976.8,387.74L1977,387.93L1977.2,388.11L1977.4,388.29L1977.6,388.47L1977.8,388.64L1978,388.82L1978.2,388.99L1978.4,389.15L1978.6,389.32L1978.8,389.48L1979,389.65L1979.2,389.81L1979.4,389.96L1979.6,390.12L1979.8,390.27L1980,390.43L1980.2,390.58L1980.4,390.73L1980.6,390.88L1980.8,391.03L1981,391.17L1981.2,391.32L1981.4,391.47L1981.6,391.62L1981.8,391.76L1982,391.91L1982.2,392.06L1982.4,392.2L1982.6,392.35L1982.8,392.49L1983,392.64L1983.2,392.78L1983.4,392.92L1983.6,393.06L1983.8,393.2L1984,393.34L1984.2,393.47L1984.4,393.6L1984.6,393.73L1984.8,393.86L1985,393.98L1985.2,394.11L1985.4,394.23L1985.6,394.34L1985.8,394.45L1986,394.56L1986.2,394.67L1986.4,394.77L1986.6,394.87L1986.8,394.96L1987,395.05L1987.2,395.14L1987.4,395.22L1987.6,395.3L1987.8,395.37L1988,395.43L1988.2,395.49L1988.4,395.55L1988.6,395.6L1988.8,395.65L1989,395.69L1989.2,395.73L1989.4,395.78L1989.6,395.81L1989.8,395.85L1990,395.88L1990.2,395.91L1990.4,395.94L1990.6,395.96L1990.8,395.98L1991,396" fill="none" stroke="#ff7f0e" stroke-width="4" stroke-linejoin="round"/>
</g>
<path d="M1109.2,401.4V393.2M1319.01,401.4V393.2M1528.82,401.4V393.2M1738.63,401.4V393.2M1948.44,401.4V393.2M1109.2,401.4H1117.4M1109.2,303.15H1117.4M1109.2,204.9H1117.4M1109.2,106.65H1117.4M1109.2,8.4H1117.4" stroke="#000" stroke-width="2.4" fill="none"/>
<path d="M1151.16,401.4V396.2M1193.12,401.4V396.2M1235.09,401.4V396.2M1277.05,401.4V396.2M1360.97,401.4V396.2M1402.93,401.4V396.2M1444.9,401.4V396.2M1486.86,401.4V396.2M1570.78,401.4V396.2M1612.74,401.4V396.2M1654.7,401.4V396.2M1696.67,401.4V396.2M1780.59,401.4V396.2M1822.55,401.4V396.2M1864.51,401.4V396.2M1906.48,401.4V396.2M1990.4,401.4V396.2M1109.2,368.65H1114.4M1109.2,335.9H1114.4M1109.2,270.4H1114.4M1109.2,237.65H1114.4M1109.2,172.15H1114.4M1109.2,139.4H1114.4M1109.2,73.9H1114.4M1109.2,41.15H1114.4" stroke="#000" stroke-width="1.9" fill="none"/>
<rect x="1109.2" y="8.4" width="881.2" height="393" fill="none" stroke="#000" stroke-width="2.5"/>
<text x="1109.2" y="427.9" font-size="24.3" text-anchor="middle">−200</text>
<text x="1319.01" y="427.9" font-size="24.3" text-anchor="middle">−150</text>
<text x="1528.82" y="427.9" font-size="24.3" text-anchor="middle">−100</text>
<text x="1738.63" y="427.9" font-size="24.3" text-anchor="middle">−50</text>
<text x="1948.44" y="427.9" font-size="24.3" text-anchor="middle">0</text>
<text x="1100.8" y="410.4" font-size="24.3" text-anchor="end">0.000</text>
<text x="1100.8" y="312.15" font-size="24.3" text-anchor="end">0.003</text>
<text x="1100.8" y="213.9" font-size="24.3" text-anchor="end">0.006</text>
<text x="1100.8" y="115.65" font-size="24.3" text-anchor="end">0.009</text>
<text x="1100.8" y="17.4" font-size="24.3" text-anchor="end">0.012</text>
<text x="1550.1" y="464" font-size="28.7" text-anchor="middle">Energy shift from ZPL (meV)</text>
<text transform="translate(1165.35,54.1) scale(0.88,1)" font-size="39" font-style="italic" stroke="#000" stroke-width="0.45">k</text>
<text transform="translate(1184.5,54.1) scale(0.88,1)" font-size="39" font-style="italic" stroke="#000" stroke-width="0.45">k</text>
<text transform="translate(1198.9,54.8) scale(1.125,1)" font-size="44">–</text>
<text transform="translate(1222.8,54.1) scale(0.95,1)" font-size="40.6">VV</text>
<text transform="translate(1275.9,40.1) scale(0.92,1)" font-size="33" style="font-family:'Liberation Serif','DejaVu Serif',serif">0</text>
<rect x="1163.2" y="63.1" width="59.5" height="22.1" fill="#bfbfbf"/>
<path d="M1162.6,116h61" stroke="#1f77b4" stroke-width="4.2" fill="none"/>
<text x="1244" y="83.9" font-size="28.7">Jin (2021)</text>
<text x="1244" y="125.9" font-size="28.7">HR theory</text>
<path d="M1162.6,157.9h61" stroke="#ff7f0e" stroke-width="4.2" fill="none"/>
<text x="1244" y="167.6" font-size="28.7">DJT theory</text>
<g clip-path="url(#c10)">
<path d="M125.51,846.4L125.91,846.15L126.31,845.73L126.71,845.17L127.11,844.66L127.51,844.38L127.91,844.4L128.31,844.56L128.71,844.61L129.11,844.39L129.51,843.97L129.91,843.51L130.31,843.05L130.71,842.5L131.11,841.73L131.51,840.87L131.91,840.41L132.31,840.95L132.71,842.72L133.11,845.32L133.51,847.92L133.91,849.68L134.31,849.96L134.71,849.88L135.11,849.8L135.51,849.3L135.91,848.37L136.31,847.51L136.71,846.89L137.11,846.58L137.51,846.61L137.91,846.83L138.31,846.93L138.71,846.58L139.11,845.64L139.51,844.26L139.91,842.91L140.31,842.09L140.71,842.09L141.11,842.8L141.51,843.86L141.91,844.78L142.31,845.21L142.71,844.97L143.11,844.21L143.51,843.29L143.91,842.73L144.31,842.73L144.71,843.05L145.11,843.32L145.51,843.55L145.91,844.05L146.31,844.8L146.71,845.07L147.11,844.26L147.51,842.53L147.91,840.65L148.31,839.41L148.71,839.25L149.11,840.01L149.51,841.18L149.91,842.24L150.31,842.92L150.71,843.25L151.11,843.44L151.51,843.68L151.91,844.07L152.31,844.56L152.71,845.06L153.11,845.49L153.51,845.74L153.91,845.75L154.31,845.45L154.71,844.75L155.11,843.74L155.51,842.78L155.91,842.1L156.31,841.75L156.71,841.63L157.11,841.62L157.51,841.53L157.91,841.11L158.31,840.18L158.71,838.82L159.11,837.42L159.51,836.48L159.91,836.3L160.31,836.78L160.71,837.58L161.11,838.43L161.51,839.22L161.91,839.96L162.31,840.6L162.71,841.02L163.11,841.15L163.51,840.96L163.91,840.5L164.31,839.83L164.71,838.96L165.11,837.86L165.51,836.62L165.91,835.48L166.31,834.83L166.71,834.94L167.11,835.69L167.51,836.61L167.91,837.09L168.31,836.76L168.71,835.66L169.11,834.25L169.51,833.29L169.91,833.39L170.31,834.63L170.71,836.45L171.11,838.04L171.51,838.81L171.91,838.61L172.31,837.66L172.71,836.37L173.11,835.16L173.51,834.22L173.91,833.56L174.31,833.16L174.71,833.09L175.11,833.36L175.51,833.8L175.91,834.06L176.31,833.9L176.71,833.3L177.11,832.48L177.51,831.81L177.91,831.6L178.31,831.97L178.71,832.86L179.11,834L179.51,835.14L179.91,836.23L180.31,837.47L180.71,838.87L181.11,839.51L181.51,839.41L181.91,839.31L182.31,839.21L182.71,839.1L183.11,838.97L183.51,838.74L183.91,838.3L184.31,837.56L184.71,836.55L185.11,835.61L185.51,835.19L185.91,835.48L186.31,835.96L186.71,835.44L187.11,835.1L187.51,835.2L187.91,835.77L188.31,836.64L188.71,837.36L189.11,837.5L189.51,837.28L189.91,836.07L190.31,833.79L190.71,831.24L191.11,829.55L191.51,829.36L191.91,830.43L192.31,831.9L192.71,832.97L193.11,833.4L193.51,833.44L193.91,833.63L194.31,834.31L194.71,835.33L195.11,835.77L195.51,835.75L195.91,835.7L196.31,835.62L196.71,834.96L197.11,834.07L197.51,833.63L197.91,833.72L198.31,834.04L198.71,834.25L199.11,834.09L199.51,833.39L199.91,832.11L200.31,830.5L200.71,829.09L201.11,828.33L201.51,828.28L201.91,828.61L202.31,828.88L202.71,828.8L203.11,828.46L203.51,828.27L203.91,828.7L204.31,829.89L204.71,831.44L205.11,832.73L205.51,833.18L205.91,833.07L206.31,832.96L206.71,832.85L207.11,832.69L207.51,832.16L207.91,831.37L208.31,830.44L208.71,829.67L209.11,829.32L209.51,829.33L209.91,829.37L210.31,829.07L210.71,828.29L211.11,827.23L211.51,826.42L211.91,826.37L212.31,827.19L212.71,828.39L213.11,829.35L213.51,829.76L213.91,829.8L214.31,829.67L214.71,829.46L215.11,829.27L215.51,829.14L215.91,829.04L216.31,828.92L216.71,828.81L217.11,828.81L217.51,828.97L217.91,829.17L218.31,829.2L218.71,828.86L219.11,828.06L219.51,826.91L219.91,825.77L220.31,824.9L220.71,824.28L221.11,823.63L221.51,822.68L221.91,821.37L222.31,819.94L222.71,818.86L223.11,818.53L223.51,819.02L223.91,819.98L224.31,820.91L224.71,821.42L225.11,821.48L225.51,821.45L225.91,821.72L226.31,822.21L226.71,822.48L227.11,822.07L227.51,820.94L227.91,819.51L228.31,818.32L228.71,817.53L229.11,816.96L229.51,816.55L229.91,816.51L230.31,817.07L230.71,818.15L231.11,819.38L231.51,820.42L231.91,821.15L232.31,821.6L232.71,821.84L233.11,821.98L233.51,822.12L233.91,822.26L234.31,822.31L234.71,821.99L235.11,821.02L235.51,819.45L235.91,817.88L236.31,816.89L236.71,816.43L237.11,816.02L237.51,815.51L237.91,815.22L238.31,815.54L238.71,816.55L239.11,818.01L239.51,819.54L239.91,820.78L240.31,821.47L240.71,821.5L241.11,820.85L241.51,819.67L241.91,818.37L242.31,817.52L242.71,817.49L243.11,818.15L243.51,819.08L243.91,819.9L244.31,820.53L244.71,821.14L245.11,821.56L245.51,821.43L245.91,821.31L246.31,821.19L246.71,821.07L247.11,820.95L247.51,820.83L247.91,820.7L248.31,820.58L248.71,819.73L249.11,818.56L249.51,818.28L249.91,819.03L250.31,819.99L250.71,819.87L251.11,819.75L251.51,819.63L251.91,819.52L252.31,819.4L252.71,817.5L253.11,814.5L253.51,811.75L253.91,809.79L254.31,808.67L254.71,808.08L255.11,807.6L255.51,806.99L255.91,806.44L256.31,806.61L256.71,808.14L257.11,811.01L257.51,814.29L257.91,816.78L258.31,817.67L258.71,817.43L259.11,816.97L259.51,816.07L259.91,814.62L260.31,812.74L260.71,811.02L261.11,810.18L261.51,810.61L261.91,811.81L262.31,811.49L262.71,810.26L263.11,808.64L263.51,807.24L263.91,806.46L264.31,806.31L264.71,806.51L265.11,806.71L265.51,806.64L265.91,806.24L266.31,805.6L266.71,804.98L267.11,804.66L267.51,804.81L267.91,805.28L268.31,805.8L268.71,806.14L269.11,806.46L269.51,807.13L269.91,808.46L270.31,810.32L270.71,812.11L271.11,813.22L271.51,813.5L271.91,813.07L272.31,812.19L272.71,811.17L273.11,810.32L273.51,809.65L273.91,808.93L274.31,807.84L274.71,806.18L275.11,803.98L275.51,801.52L275.91,799.21L276.31,797.56L276.71,796.96L277.11,797.56L277.51,799.1L277.91,801.09L278.31,803.05L278.71,804.64L279.11,805.72L279.51,806.29L279.91,806.49L280.31,806.63L280.71,806.94L281.11,807.38L281.51,807.56L281.91,807.08L282.31,805.94L282.71,804.72L283.11,804.31L283.51,805.28L283.91,807.41L284.31,809.77L284.71,811.05L285.11,810.93L285.51,810.81L285.91,810.69L286.31,810.57L286.71,809.69L287.11,808.38L287.51,807.35L287.91,806.88L288.31,807.03L288.71,807.62L289.11,808.34L289.51,808.93L289.91,809.23L290.31,809.22L290.71,808.86L291.11,807.95L291.51,806.4L291.91,804.58L292.31,803.15L292.71,802.66L293.11,803.21L293.51,804.48L293.91,805.86L294.31,806.8L294.71,806.99L295.11,806.34L295.51,804.76L295.91,802.47L296.31,800.03L296.71,797.95L297.11,796.53L297.51,795.75L297.91,795.55L298.31,795.92L298.71,796.93L299.11,798.47L299.51,800.12L299.91,801.27L300.31,801.51L300.71,800.82L301.11,799.54L301.51,798.2L301.91,797.21L302.31,796.66L302.71,796.48L303.11,796.46L303.51,796.46L303.91,796.43L304.31,796.55L304.71,797.26L305.11,798.92L305.51,801.36L305.91,803.64L306.31,803.87L306.71,803.73L307.11,803.59L307.51,802.63L307.91,798.94L308.31,794.99L308.71,792.63L309.11,792.61L309.51,794.32L309.91,796.51L310.31,798.16L310.71,798.82L311.11,798.4L311.51,796.83L311.91,794.27L312.31,791.31L312.71,788.95L313.11,788.02L313.51,788.53L313.91,789.72L314.31,790.69L314.71,791.07L315.11,791.12L315.51,791.35L315.91,792.04L316.31,793.01L316.71,793.86L317.11,794.25L317.51,794.04L317.91,793.25L318.31,792.09L318.71,790.9L319.11,790.06L319.51,789.76L319.91,789.9L320.31,790.17L320.71,790.43L321.11,790.78L321.51,791.57L321.91,793.01L322.31,794.95L322.71,796.76L323.11,797.73L323.51,797.63L323.91,797.42L324.31,796.25L324.71,794.54L325.11,792.88L325.51,791.7L325.91,791.07L326.31,790.89L326.71,790.95L327.11,790.92L327.51,790.56L327.91,789.86L328.31,789.15L328.71,788.98L329.11,789.75L329.51,791.39L329.91,793.32L330.31,794.73L330.71,794.98L331.11,794.84L331.51,794.58L331.91,793.66L332.31,792.61L332.71,791.66L333.11,790.78L333.51,789.96L333.91,789.5L334.31,789.82L334.71,791.05L335.11,792.67L335.51,793.27L335.91,793.14L336.31,793L336.71,792.86L337.11,792.72L337.51,792.58L337.91,792.44L338.31,792.3L338.71,792.16L339.11,792.03L339.51,791.89L339.91,791.75L340.31,791.61L340.71,789.26L341.11,786.44L341.51,784.73L341.91,784.37L342.31,784.8L342.71,785.27L343.11,785.16L343.51,784.25L343.91,782.67L344.31,780.88L344.71,779.44L345.11,778.67L345.51,778.59L345.91,779.06L346.31,780.01L346.71,781.41L347.11,783.09L347.51,784.72L347.91,785.96L348.31,786.6L348.71,786.65L349.11,786.16L349.51,785.2L349.91,784.04L350.31,783.18L350.71,783.09L351.11,783.75L351.51,784.63L351.91,785.05L352.31,784.72L352.71,783.72L353.11,782.45L353.51,781.46L353.91,781.12L354.31,781.5L354.71,782.37L355.11,783.39L355.51,784.3L355.91,784.98L356.31,785.42L356.71,785.61L357.11,785.57L357.51,785.25L357.91,784.57L358.31,783.44L358.71,782.06L359.11,780.89L359.51,780.52L359.91,781.13L360.31,782.32L360.71,783.35L361.11,783.71L361.51,783.32L361.91,782.34L362.31,781.22L362.71,780.57L363.11,780.6L363.51,781.04L363.91,781.5L364.31,781.84L364.71,782.17L365.11,782.61L365.51,782.93L365.91,782.61L366.31,781.96L366.71,781.05L367.11,779.3L367.51,777.08L367.91,774.79L368.31,772.71L368.71,771.14L369.11,770.43L369.51,770.85L369.91,772.33L370.31,774.38L370.71,776.3L371.11,777.51L371.51,777.9L371.91,777.88L372.31,778.12L372.71,778.99L373.11,780.12L373.51,780.54L373.91,780.41L374.31,780.27L374.71,780.14L375.11,780.01L375.51,779.88L375.91,779.75L376.31,779.62L376.71,778.68L377.11,775.7L377.51,772.94L377.91,771.11L378.31,770.27L378.71,770.1L379.11,770.14L379.51,770.15L379.91,770.29L380.31,770.93L380.71,772.17L381.11,773.55L381.51,774.4L381.91,774.34L382.31,773.45L382.71,772.12L383.11,770.7L383.51,769.31L383.91,767.9L384.31,766.53L384.71,765.45L385.11,764.97L385.51,765.22L385.91,766.09L386.31,767.33L386.71,768.56L387.11,769.32L387.51,769.29L387.91,768.42L388.31,767.03L388.71,765.86L389.11,765.71L389.51,766.9L389.91,768.96L390.31,770.87L390.71,771.78L391.11,771.34L391.51,769.66L391.91,767.38L392.31,765.56L392.71,765L393.11,765.63L393.51,766.64L393.91,767.21L394.31,767.07L394.71,766.55L395.11,766.24L395.51,766.55L395.91,767.39L396.31,768.35L396.71,768.97L397.11,768.98L397.51,768.35L397.91,767.07L398.31,765.12L398.71,762.39L399.11,758.89L399.51,754.98L399.91,751.51L400.31,749.49L400.71,749.57L401.11,751.66L401.51,754.96L401.91,758.37L402.31,760.94L402.71,762.35L403.11,762.95L403.51,763.49L403.91,764.5L404.31,765.8L404.71,766.71L405.11,766.66L405.51,765.58L405.91,763.88L406.31,762.28L406.71,761.4L407.11,761.47L407.51,762.4L407.91,763.85L408.31,765.32L408.71,766.36L409.11,766.75L409.51,766.49L409.91,765.61L410.31,764.07L410.71,761.97L411.11,759.71L411.51,757.94L411.91,757.16L412.31,757.41L412.71,758.32L413.11,759.34L413.51,759.97L413.91,759.89L414.31,758.95L414.71,757.12L415.11,754.54L415.51,751.54L415.91,748.64L416.31,746.48L416.71,745.6L417.11,746.21L417.51,748.11L417.91,750.77L418.31,753.48L418.71,755.61L419.11,756.91L419.51,757.59L419.91,758.16L420.31,758.98L420.71,760.03L421.11,760.98L421.51,761.54L421.91,761.59L422.31,761.07L422.71,759.89L423.11,757.99L423.51,755.59L423.91,753.46L424.31,752.71L424.71,754.02L425.11,756.95L425.51,760.17L425.91,762.44L426.31,763.29L426.71,763.22L427.11,763.14L427.51,763.07L427.91,762.99L428.31,762.9L428.71,761.96L429.11,760.55L429.51,759.51L429.91,759.33L430.31,759.63L430.71,759.52L431.11,758.65L431.51,757.25L431.91,755.65L432.31,754.39L432.71,753.76L433.11,753.57L433.51,753.41L433.91,752.98L434.31,752.26L434.71,751.41L435.11,750.76L435.51,750.68L435.91,751.38L436.31,752.8L436.71,754.52L437.11,756.05L437.51,757.14L437.91,757.9L438.31,758.72L438.71,759.84L439.11,760.95L439.51,760.96L439.91,760.88L440.31,760.62L440.71,758L441.11,754.41L441.51,751.84L441.91,751.6L442.31,753.3L442.71,755.4L443.11,756.52L443.51,756.12L443.91,754.33L444.31,751.75L444.71,749.19L445.11,747.32L445.51,746.44L445.91,746.58L446.31,747.59L446.71,749.23L447.11,751.27L447.51,753.52L447.91,755.77L448.31,757.64L448.71,758.4L449.11,757.75L449.51,756.28L449.91,753.51L450.31,748.66L450.71,742.71L451.11,737.96L451.51,735.46L451.91,734.38L452.31,733.21L452.71,731.36L453.11,729.53L453.51,728.75L453.91,729.42L454.31,731.07L454.71,732.81L455.11,733.88L455.51,734.02L455.91,733.38L456.31,732.29L456.71,731L457.11,729.67L457.51,728.61L457.91,728.4L458.31,729.74L458.71,732.87L459.11,737.09L459.51,741.06L459.91,743.77L460.31,745.09L460.71,745.43L461.11,744.94L461.51,743.2L461.91,739.84L462.31,735.64L462.71,732.75L463.11,732.97L463.51,735.86L463.91,738.99L464.31,740.22L464.71,739.02L465.11,736.17L465.51,732.74L465.91,729.62L466.31,727.8L466.71,728.47L467.11,732.06L467.51,737.15L467.91,741.34L468.31,743.03L468.71,741.93L469.11,738.65L469.51,734.7L469.91,732.24L470.31,732.66L470.71,735.6L471.11,739.41L471.51,742.36L471.91,743.61L472.31,743.27L472.71,741.78L473.11,739.56L473.51,737.09L473.91,734.76L474.31,732.94L474.71,731.92L475.11,731.95L475.51,733.14L475.91,735.22L476.31,737.52L476.71,739.2L477.11,739.75L477.51,739.1L477.91,737.39L478.31,734.99L478.71,732.5L479.11,730.37L479.51,728.71L479.91,727.28L480.31,725.87L480.71,724.49L481.11,723.3L481.51,722.39L481.91,721.66L482.31,720.98L482.71,720.19L483.11,719.11L483.51,717.57L483.91,715.78L484.31,714.55L484.71,714.9L485.11,717.35L485.51,721.27L485.91,725.17L486.31,727.7L486.71,728.57L487.11,728.65L487.51,728.15L487.91,727.09L488.31,726.22L488.71,726.16L489.11,726.8L489.51,727.54L489.91,727.82L490.31,727.36L490.71,726.18L491.11,724.79L491.51,723.53L491.91,722.77L492.31,722.67L492.71,723.15L493.11,723.46L493.51,723.27L493.91,723.1L494.31,723.22L494.71,723.63L495.11,724.02L495.51,724.09L495.91,723.76L496.31,723.08L496.71,722.31L497.11,721.73L497.51,721.43L497.91,721.16L498.31,720.62L498.71,719.62L499.11,718.19L499.51,716.66L499.91,715.51L500.31,715.19L500.71,715.76L501.11,716.87L501.51,717.94L501.91,718.55L502.31,718.39L502.71,717.16L503.11,714.54L503.51,710.6L503.91,706.34L504.31,703.3L504.71,702.62L505.11,704.38L505.51,707.76L505.91,711.84L506.31,715.92L506.71,718.78L507.11,718.68L507.51,718.58L507.91,718.51L508.31,718.44L508.71,718.13L509.11,714.36L509.51,711.4L509.91,710.91L510.31,712.36L510.71,714.21L511.11,715.15L511.51,714.6L511.91,712.31L512.31,708.36L512.71,703.3L513.11,698.05L513.51,693.56L513.91,690.59L514.31,689.57L514.71,690.62L515.11,693.51L515.51,697.72L515.91,702.63L516.31,707.65L516.71,712.31L517.11,716.1L517.51,718.3L517.91,718.3L518.31,718.3L518.71,718.3L519.11,718.3L519.51,718.3L519.91,718.3L520.31,718.3L520.71,718.3L521.11,718.3L521.51,718.3L521.91,718.3L522.31,718.3L522.71,718.3L523.11,718.3L523.51,718.11L523.91,715.36L524.31,712.62L524.71,711.11L525.11,711.1L525.51,712.09L525.91,713.27L526.31,714.2L526.71,714.86L527.11,715.48L527.51,716.1L527.91,716.55L528.31,716.55L528.71,715.85L529.11,714.21L529.51,711.6L529.91,708.57L530.31,706.1L530.71,704.63L531.11,703.76L531.51,703.22L531.91,703.65L532.31,705.85L532.71,709.61L533.11,713.61L533.51,716.4L533.91,717.55L534.31,717.51L534.71,716.8L535.11,715.9L535.51,715.11L535.91,714.33L536.31,713.3L536.71,712.08L537.11,711.22L537.51,711.2L537.91,711.83L538.31,712.45L538.71,712.52L539.11,712.07L539.51,711.42L539.91,710.94L540.31,710.77L540.71,710.64L541.11,710.2L541.51,709.31L541.91,708.32L542.31,707.9L542.71,708.55L543.11,710.26L543.51,712.6L543.91,714.99L544.31,716.96L544.71,717.47L545.11,717.41L545.51,717.35L545.91,717.29L546.31,717.23L546.71,714.18L547.11,709.02L547.51,703.46L547.91,699.37L548.31,698.09L548.71,699.74L549.11,703.24L549.51,706.95L549.91,709.55L550.31,710.47L550.71,709.72L551.11,707.63L551.51,704.76L551.91,701.76L552.31,699.2L552.71,697.45L553.11,696.78L553.51,697.35L553.91,699.07L554.31,701.45L554.71,703.67L555.11,704.99L555.51,705.14L555.91,704.64L556.31,704.64L556.71,706.28L557.11,709.62L557.51,713.33L557.91,714.66L558.31,714.54L558.71,714.57L559.11,714.75L559.51,714.99L559.91,715.26L560.31,714.39L560.71,713.22L561.11,712.31L561.51,711.86L561.91,711.81L562.31,711.93L562.71,711.84L563.11,710.52L563.51,709.8L563.91,710.23L564.31,711.57L564.71,713.17L565.11,713.69L565.51,712.77L565.91,712.3L566.31,712.51L566.71,712.79L567.11,712.21L567.51,710L567.91,705.8L568.31,700.07L568.71,694.04L569.11,689.03L569.51,686.06L569.91,685.71L570.31,688.01L570.71,692.4L571.11,697.78L571.51,702.93L571.91,707.09L572.31,710.08L572.71,712.14L573.11,713.49L573.51,714.13L573.91,713.93L574.31,712.76L574.71,710.85L575.11,709.06L575.51,708.38L575.91,709.03L576.31,710.19L576.71,710.7L577.11,709.96L577.51,708.19L577.91,706.53L578.31,706.36L578.71,708.08L579.11,710.58L579.51,712.04L579.91,711.29L580.31,708.02L580.71,703.11L581.11,698.6L581.51,696.22L581.91,696.34L582.31,698.05L582.71,700.23L583.11,702.28L583.51,704.21L583.91,706.23L584.31,708.36L584.71,710.42L585.11,712.15L585.51,713.32L585.91,713.71L586.31,712.99L586.71,710.82L587.11,707.29L587.51,703.43L587.91,700.91L588.31,700.92L588.71,703.32L589.11,706.78L589.51,709.77L589.91,711.47L590.31,711.87L590.71,711.38L591.11,710.47L591.51,709.53L591.91,708.77L592.31,708.18L592.71,707.67L593.11,707.18L593.51,706.91L593.91,707.23L594.31,708.41L594.71,710.35L595.11,712.55L595.51,714.42L595.91,715.58L596.31,715.8L596.71,715.8L597.11,715.8L597.51,715.8L597.91,715.8L598.31,715.18L598.71,713.35L599.11,710.18L599.51,706.34L599.91,703.26L600.31,702.14L600.71,703.03L601.11,704.82L601.51,706.02L601.91,705.64L602.31,703.84L602.71,702.05L603.11,701.99L603.51,704.24L603.91,707.77L604.31,710.99L604.71,712.93L605.11,713.52L605.51,713.08L605.91,711.88L606.31,710.22L606.71,708.46L607.11,707.03L607.51,706.38L607.91,706.88L608.31,708.64L608.71,711.14L609.11,713.42L609.51,714.66L609.91,714.69L610.31,713.57L610.71,711.51L611.11,709.15L611.51,707.32L611.91,706.59L612.31,707.09L612.71,708.45L613.11,710.07L613.51,711.5L613.91,712.61L614.31,713.5L614.71,714.31L615.11,715.02L615.51,715.31L615.91,715.24L616.31,715.17L616.71,714.15L617.11,711.89L617.51,708.68L617.91,705.09L618.31,701.84L618.71,699.74L619.11,699.51L619.51,701.18L619.91,703.8L620.31,705.82L620.71,706.1L621.11,704.45L621.51,701.84L621.91,700.06L622.31,700.55L622.71,703.23L623.11,706.67L623.51,709.33L623.91,710.51L624.31,710.25L624.71,708.66L625.11,705.85L625.51,702.24L625.91,698.53L626.31,695.21L626.71,692.1L627.11,688.88L627.51,686.67L627.91,687.4L628.31,691.06L628.71,695.06L629.11,697.3L629.51,697.9L629.91,697.99L630.31,698.45L630.71,699.39L631.11,700.4L631.51,700.99L631.91,700.91L632.31,700.27L632.71,699.46L633.11,698.87L633.51,698.51L633.91,697.69L634.31,695.03L634.71,689.53L635.11,681.89L635.51,675.1L635.91,673.13L636.31,677.69L636.71,686.91L637.11,696.64L637.51,703.54L637.91,706.81L638.31,707.39L638.71,707.4L639.11,707.26L639.51,707.11L639.91,706.62L640.31,706.14L640.71,705.05L641.11,702.77L641.51,700.9L641.91,689.12L642.31,677.49L642.71,665.95L643.11,653.96L643.51,640.8L643.91,633.76L644.31,627.23L644.71,622.89L645.11,620.83L645.51,619.71L645.91,619.62L646.31,619.49L646.71,619.49L647.11,619.71L647.51,619.84L647.91,619.07L648.31,617.48L648.71,615.27L649.11,612.7L649.51,610.13L649.91,609.93L650.31,610.98L650.71,613.71L651.11,617.3L651.51,620.11L651.91,623.08L652.31,625.06L652.71,626.98L653.11,629.25L653.51,630.9L653.91,632.33L654.31,635.6L654.71,640.08L655.11,645.25L655.51,650.94L655.91,654.76L656.31,656.52L656.71,656.96L657.11,657.08L657.51,656.46L657.91,655.33L658.31,654.39L658.71,655.11L659.11,657.32L659.51,659.43L659.91,664.53L660.31,669.34L660.71,672.62L661.11,674.46L661.51,676.01L661.91,675.64L662.31,673.74L662.71,670.58L663.11,668.45L663.51,669.99L663.91,674.55L664.31,680.2L664.71,684.43L665.11,686.33L665.51,686.49L665.91,685.91L666.31,685.54L666.71,685.95L667.11,687.35L667.51,689.41L667.91,691.3L668.31,692.19L668.71,692.06L669.11,690.35L669.51,686.76L669.91,682.42L670.31,679.03L670.71,677.47L671.11,677.36L671.51,677.6L671.91,677.4L672.31,676.91L672.71,676.97L673.11,678.33L673.51,680.88L673.91,683.77L674.31,686.02L674.71,686.99L675.11,686.36L675.51,684.09L675.91,680.76L676.31,677.77L676.71,676.76L677.11,678.45L677.51,682.08L677.91,686.09L678.31,689.18L678.71,690.92L679.11,691.47L679.51,690.91L679.91,689.12L680.31,686.19L680.71,682.95L681.11,680.78L681.51,680.65L681.91,682.43L682.31,684.82L682.71,686.2L683.11,685.57L683.51,682.81L683.91,678.76L684.31,674.86L684.71,672L685.11,670.04L685.51,668.19L685.91,665.93L686.31,663.55L686.71,662.21L687.11,663.39L687.51,667.78L687.91,674.51L688.31,681.48L688.71,686.75L689.11,689.71L689.51,690.78L689.91,690.65L690.31,689.72L690.71,688.28L691.11,686.64L691.51,685.14L691.91,683.9L692.31,682.8L692.71,681.82L693.11,681.4L693.51,682.29L693.91,684.86L694.31,688.47L694.71,691.79L695.11,693.68L695.51,694.05L695.91,693.71L696.31,692.57L696.71,691.52L697.11,691.41L697.51,692.26L697.91,693.2L698.31,693.28L698.71,691.74L699.11,687.99L699.51,682.57L699.91,677.19L700.31,673.64L700.71,672.78L701.11,674.2L701.51,676.81L701.91,679.63L702.31,682.18L702.71,684.44L703.11,686.53L703.51,688.48L703.91,690.13L704.31,691.26L704.71,691.75L705.11,691.66L705.51,691.31L705.91,691.88L706.31,693.04L706.71,694.64L707.11,695.51L707.51,693.97L707.91,691.22L708.31,688.57L708.71,686.39L709.11,685.3L709.51,686.36L709.91,688.47L710.31,691.38L710.71,694.24L711.11,696.83L711.51,699.32L711.91,701.66L712.31,703.59L712.71,704.83L713.11,705.31L713.51,705.14L713.91,704.58L714.31,704.05L714.71,704.02L715.11,704.82L715.51,706.31L715.91,707.93L716.31,708.98L716.71,708.98L717.11,707.55L717.51,704.55L717.91,700.62L718.31,696.92L718.71,694.37L719.11,693.16L719.51,692.83L719.91,692.64L720.31,692.01L720.71,690.8L721.11,689.39L721.51,688.31L721.91,687.82L722.31,687.63L722.71,687.17L723.11,686.03L723.51,684.33L723.91,682.7L724.31,682.01L724.71,682.91L725.11,685.45L725.51,688.96L725.91,692.18L726.31,693.92L726.71,693.99L727.11,693.52L727.51,693.45L727.91,693.47L728.31,693.12L728.71,692.65L729.11,692.61L729.51,693.28L729.91,694.72L730.31,696.93L730.71,699.85L731.11,703.32L731.51,707.06L731.91,710.43L732.31,711.86L732.71,711.43L733.11,710.46L733.51,708.53L733.91,705.11L734.31,699.69L734.71,692.09L735.11,682.7L735.51,672.24L735.91,661.68L736.31,652.84L736.71,647.41L737.11,646.67L737.51,650.94L737.91,659.08L738.31,668.51L738.71,675.88L739.11,678.16L739.51,673.78L739.91,663.28L740.31,649.14L740.71,634.67L741.11,622.7L741.51,615.02L741.91,612.53L742.31,615.58L742.71,624.02L743.11,636.72L743.51,651.34L743.91,665.73L744.31,678.85L744.71,688.54L745.11,694.78L745.51,698.55L745.91,700.96L746.31,702.66L746.71,703.65L747.11,703.59L747.51,702.22L747.91,699.67L748.31,696.31L748.71,692.22L749.11,687.37L749.51,682.77L749.91,681.09L750.31,684.69L750.71,692.7L751.11,701.56L751.51,708.24L751.91,711.85L752.31,712.43L752.71,712.46L753.11,712.46L753.51,712.44L753.91,712.43L754.31,711.09L754.71,709.29L755.11,707.64L755.51,706.26L755.91,704.82L756.31,702.93L756.71,700.56L757.11,698.12L757.51,696.3L757.91,695.63L758.31,696.23L758.71,697.8L759.11,699.85L759.51,702.02L759.91,704.22L760.31,706.46L760.71,708.56L761.11,710.09L761.51,710.59L761.91,709.79L762.31,707.56L762.71,704.34L763.11,701.18L763.51,699L763.91,697.89L764.31,697.31L764.71,696.79L765.11,696.38L765.51,696.54L765.91,697.69L766.31,699.73L766.71,702.3L767.11,705.08L767.51,707.96L767.91,710.68L768.31,712.13L768.71,712.23L769.11,712.4L769.51,712.19L769.91,709.25L770.31,705L770.71,700.91L771.11,698.02L771.51,696.57L771.91,696.23L772.31,696.76L772.71,698.23L773.11,700.77L773.51,703.97L773.91,706.64L774.31,707.6L774.71,706.2L775.11,702.98L775.51,699.64L775.91,697.53L776.31,697.57L776.71,698.75L777.11,699.82L777.51,700.29L777.91,700.11L778.31,699.88L778.71,699.94L779.11,700.12L779.51,699.91L779.91,699.19L780.31,698.02L780.71,697.33L781.11,697.77L781.51,699.21L781.91,701.95L782.31,704.35L782.71,706.27L783.11,707.55L783.51,707.92L783.91,707.91L784.31,708.34L784.71,709.48L785.11,711.12L785.51,712.83L785.91,713.58L786.31,713.57L786.71,713.07L787.11,712.59L787.51,712.48L787.91,712.71L788.31,713.06L788.71,713.2L789.11,712.94L789.51,712.3L789.91,711.44L790.31,710.73L790.71,710.69L791.11,711.83L791.51,714.34L791.91,717.68L792.31,720.82L792.71,722.22L793.11,722.38L793.51,722.53L793.91,722.66L794.31,722.79L794.71,722.9L795.11,722.99L795.51,723.08L795.91,723.15L796.31,723.21L796.71,723.12L797.11,721.99L797.51,720.14L797.91,717.7L798.31,715.56L798.71,714.11L799.11,713.46L799.51,713.42L799.91,713.1L800.31,712.8L800.71,712.46L801.11,712.13L801.51,711.74L801.91,710.73L802.31,709.23L802.71,707.39L803.11,705.69L803.51,704.48L803.91,702.24L804.31,697.9L804.71,692.03L805.11,685.03L805.51,678.25L805.91,671.99L806.31,667.35L806.71,662.8L807.11,660.06L807.51,658.71L807.91,658.19L808.31,657.09L808.71,654.51L809.11,650.23L809.51,644.82L809.91,639.81L810.31,636.1L810.71,635L811.11,636.09L811.51,637.65L811.91,639.57L812.31,639.9L812.71,639.47L813.11,639.06L813.51,637.17L813.91,633.33L814.31,628.49L814.71,624.4L815.11,622.4L815.51,622.92L815.91,625.91L816.31,630.37L816.71,634.89L817.11,636.98L817.51,636.99L817.91,637L818.31,637.01L818.71,637.02L819.11,637L819.51,635.59L819.91,634.42L820.31,634.12L820.71,634.84L821.11,636.18L821.51,637.14L821.91,637.17L822.31,637.2L822.71,636.92L823.11,634.62L823.51,631.77L823.91,630.13L824.31,630.69L824.71,632.9L825.11,635.11L825.51,636.12L825.91,635.72L826.31,634.21L826.71,632.25L827.11,630.4L827.51,628.56L827.91,626.28L828.31,623.77L828.71,622.24L829.11,623.19L829.51,627.13L829.91,632.88L830.31,637.87L830.71,638.65L831.11,639.35L831.51,640.05L831.91,641.45L832.31,642.18L832.71,641.5L833.11,642.26L833.51,644.55L833.91,647.76L834.31,650.84L834.71,653.38L835.11,655.46L835.51,657.31L835.91,659.15L836.31,660.72L836.71,661.95L837.11,662.55L837.51,662.28L837.91,661.69L838.31,661.34L838.71,662.26L839.11,665.01L839.51,669.39L839.91,674.81L840.31,680.43L840.71,685.61L841.11,690.02L841.51,693.61L841.91,696.51L842.31,699.32L842.71,702.47L843.11,705.97L843.51,708.38L843.91,710.44L844.31,712.5L844.71,714.36L845.11,716.03L845.51,717.69L845.91,719.14L846.31,719.53L846.71,719.59L847.11,719.8L847.51,720.01L847.91,720.1L848.31,720.36L848.71,720.91L849.11,721.67L849.51,722.46L849.91,723.09L850.31,723.46L850.71,722.88L851.11,720.4L851.51,716.11L851.91,712.07L852.31,711.38L852.71,714.95L853.11,720.72L853.51,725.93L853.91,729.31L854.31,731.38L854.71,732.99L855.11,734.61L855.51,736.22L855.91,737.32L856.31,737.52L856.71,736.51L857.11,734.45L857.51,732.18L857.91,730.92L858.31,731.72L858.71,734.49L859.11,738.02L859.51,740.91L859.91,742.44L860.31,742.8L860.71,742.58L861.11,742.41L861.51,742.67L861.91,743.26L862.31,743.84L862.71,744.21L863.11,744.78L863.51,745.83L863.91,746.71L864.31,746.47L864.71,744.91L865.11,742.53L865.51,740.11L865.91,738.54L866.31,738.62L866.71,740.57L867.11,743.8L867.51,747.32L867.91,750.34L868.31,752.57L868.71,754.03L869.11,754.84L869.51,755.25L869.91,755.58L870.31,755.93L870.71,756.23L871.11,756.56L871.51,757.34L871.91,758.8L872.31,760.53L872.71,762.07L873.11,763.46L873.51,765L873.91,766.72L874.31,768.29L874.71,769.35L875.11,769.88L875.51,770.1L875.91,769.44L876.31,767.99L876.71,766.15L877.11,764.45L877.51,763.31L877.91,762.79L878.31,762.71L878.71,762.78L879.11,762.95L879.51,763.58L879.91,765.12L880.31,767.79L880.71,771.21L881.11,774.53L881.51,776.81L881.91,777.6L882.31,778.21L882.71,777.84L883.11,776.08L883.51,774.28L883.91,773.62L884.31,774.37L884.71,775.96L885.11,777.51L885.51,778.48L885.91,778.92L886.31,779.04L886.71,779.12L887.11,779.16L887.51,778.92L887.91,778.37L888.31,777.9L888.71,778.4L889.11,780.51L889.51,783.93L889.91,787.53L890.31,790.2L890.71,791.51L891.11,792.29L891.51,792.72L891.91,792.58L892.31,792.27L892.71,792.11L893.11,792.16L893.51,792.37L893.91,792.69L894.31,793.11L894.71,793.6L895.11,794.1L895.51,794.56L895.91,795.17L896.31,796.4L896.71,798.6L897.11,801.54L897.51,804.4L897.91,806.44L898.31,807.53L898.71,807.81L899.11,807.38L899.51,806.61L899.91,805.98L900.31,805.95L900.71,806.81L901.11,808.55L901.51,810.89L901.91,813.37L902.31,815.67L902.71,817.49L903.11,818.43L903.51,819.02L903.91,819.51L904.31,819.79L904.71,819.59L905.11,819.7L905.51,820.46L905.91,821.73L906.31,823.1L906.71,824.12L907.11,824.54L907.51,824.36L907.91,823.84L908.31,823.47L908.71,823.71L909.11,824.78L909.51,826.72L909.91,829.33L910.31,832.07L910.71,833.12L911.11,833.83L911.51,834.53L911.91,835.22L912.31,835.9L912.71,836.59L913.11,837.26L913.51,837.93L913.91,838.57L914.31,838.56L914.71,837.56L915.11,836.21L915.51,835.26L915.91,835.42L916.31,836.93L916.71,839.33L917.11,841.78L917.51,843.63L917.91,844.73L918.31,845.15L918.71,844.83L919.11,843.76L919.51,842.36L919.91,841.33L920.31,841.29L920.71,842.27L921.11,843.84L921.51,845.49L921.91,846.99L922.31,848.38L922.71,849.75L923.11,851.12L923.51,852.41L923.91,853.54L924.31,854.52L924.71,855.39L925.11,856.2L925.51,856.83L925.91,857.41L926.31,858L926.71,858.58L927.11,859.15L927.51,858.91L927.91,857.79L928.31,855.86L928.71,853.58L929.11,851.83L929.51,851.42L929.91,852.39L930.31,854.05L930.71,855.56L931.11,856.61L931.51,857.63L931.91,859.22L932.31,861.48L932.71,863.92L933.11,866L933.51,867.51L933.91,868.52L934.31,869.22L934.71,869.74L935.11,870.16L935.51,870.52L935.91,870.81L936.31,871L936.71,871.09L937.11,871.17L937.51,871.28L937.91,871.39L938.31,871.45L938.71,871.42L939.11,871.34L939.51,871.3L939.91,871.42L940.31,871.85L940.71,872.67L941.11,873.74L941.51,874.75L941.91,875.42L942.31,875.61L942.71,875.41L943.11,875.12L943.51,875.12L943.91,875.59L944.31,876.56L944.71,877.84L945.11,879.19L945.51,880.41L945.91,881.24L946.31,881.68L946.71,881.72L947.11,881.52L947.51,881.27L947.91,881.07L948.31,881.18L948.71,881.73L949.11,882.71L949.51,883.91L949.91,885.05L950.31,885.97L950.71,886.63L951.11,887.06L951.51,887.32L951.91,887.38L952.31,887.24L952.71,886.93L953.11,886.54L953.51,886.2L953.91,885.97L954.31,885.9L954.71,885.94L955.11,886.07L955.51,886.32L955.91,886.72L956.31,887.39L956.71,888.3L957.11,889.26L957.51,889.71L957.91,889.72L958,889.72L959.3,883L960.5,850L962.2,781L963.6,650L964.8,480L966,650L967.3,781L969.5,850L973,883L977,896L984,902.4L984,902.4L125.51,902.4Z" fill="#bfbfbf" stroke="#bfbfbf" stroke-width="0.4" stroke-linejoin="round"/>
<path d="M125.51,853.53L126.51,853.4L127.51,853.23L128.51,853.04L129.51,852.83L130.51,852.62L131.51,852.4L132.51,852.19L133.51,851.97L134.51,851.75L135.51,851.54L136.51,851.32L137.51,851.1L138.51,850.88L139.51,850.66L140.51,850.44L141.51,850.22L142.51,850L143.51,849.77L144.51,849.55L145.51,849.33L146.51,849.1L147.51,848.88L148.51,848.65L149.51,848.43L150.51,848.2L151.51,847.98L152.51,847.75L153.51,847.52L154.51,847.29L155.51,847.07L156.51,846.84L157.51,846.61L158.51,846.38L159.51,846.15L160.51,845.91L161.51,845.68L162.51,845.45L163.51,845.22L164.51,844.98L165.51,844.75L166.51,844.52L167.51,844.28L168.51,844.05L169.51,843.81L170.51,843.57L171.51,843.34L172.51,843.1L173.51,842.86L174.51,842.62L175.51,842.38L176.51,842.14L177.51,841.91L178.51,841.66L179.51,841.42L180.51,841.18L181.51,840.94L182.51,840.7L183.51,840.45L184.51,840.21L185.51,839.97L186.51,839.72L187.51,839.48L188.51,839.23L189.51,838.99L190.51,838.74L191.51,838.49L192.51,838.24L193.51,837.99L194.51,837.75L195.51,837.5L196.51,837.25L197.51,836.99L198.51,836.74L199.51,836.49L200.51,836.24L201.51,835.99L202.51,835.73L203.51,835.48L204.51,835.22L205.51,834.97L206.51,834.71L207.51,834.45L208.51,834.2L209.51,833.94L210.51,833.68L211.51,833.42L212.51,833.16L213.51,832.9L214.51,832.64L215.51,832.38L216.51,832.12L217.51,831.85L218.51,831.59L219.51,831.32L220.51,831.06L221.51,830.79L222.51,830.51L223.51,830.24L224.51,829.96L225.51,829.68L226.51,829.39L227.51,829.11L228.51,828.82L229.51,828.53L230.51,828.23L231.51,827.94L232.51,827.64L233.51,827.35L234.51,827.05L235.51,826.75L236.51,826.46L237.51,826.16L238.51,825.86L239.51,825.57L240.51,825.27L241.51,824.98L242.51,824.69L243.51,824.4L244.51,824.11L245.51,823.83L246.51,823.55L247.51,823.27L248.51,822.99L249.51,822.72L250.51,822.45L251.51,822.19L252.51,821.93L253.51,821.67L254.51,821.42L255.51,821.18L256.51,820.94L257.51,820.7L258.51,820.48L259.51,820.26L260.51,820.04L261.51,819.83L262.51,819.63L263.51,819.43L264.51,819.24L265.51,819.05L266.51,818.86L267.51,818.67L268.51,818.49L269.51,818.3L270.51,818.12L271.51,817.94L272.51,817.75L273.51,817.56L274.51,817.37L275.51,817.18L276.51,816.98L277.51,816.78L278.51,816.57L279.51,816.36L280.51,816.14L281.51,815.91L282.51,815.68L283.51,815.44L284.51,815.19L285.51,814.94L286.51,814.68L287.51,814.42L288.51,814.15L289.51,813.88L290.51,813.61L291.51,813.32L292.51,813.04L293.51,812.75L294.51,812.45L295.51,812.15L296.51,811.85L297.51,811.54L298.51,811.22L299.51,810.9L300.51,810.58L301.51,810.25L302.51,809.92L303.51,809.59L304.51,809.25L305.51,808.9L306.51,808.55L307.51,808.2L308.51,807.83L309.51,807.45L310.51,807.07L311.51,806.67L312.51,806.26L313.51,805.85L314.51,805.42L315.51,804.98L316.51,804.54L317.51,804.09L318.51,803.64L319.51,803.18L320.51,802.71L321.51,802.25L322.51,801.78L323.51,801.32L324.51,800.85L325.51,800.39L326.51,799.93L327.51,799.47L328.51,799.01L329.51,798.57L330.51,798.12L331.51,797.69L332.51,797.26L333.51,796.84L334.51,796.44L335.51,796.03L336.51,795.64L337.51,795.25L338.51,794.86L339.51,794.48L340.51,794.1L341.51,793.72L342.51,793.34L343.51,792.97L344.51,792.6L345.51,792.23L346.51,791.86L347.51,791.5L348.51,791.14L349.51,790.78L350.51,790.42L351.51,790.06L352.51,789.71L353.51,789.36L354.51,789.01L355.51,788.66L356.51,788.31L357.51,787.96L358.51,787.62L359.51,787.27L360.51,786.93L361.51,786.59L362.51,786.24L363.51,785.9L364.51,785.56L365.51,785.22L366.51,784.89L367.51,784.55L368.51,784.21L369.51,783.88L370.51,783.54L371.51,783.21L372.51,782.88L373.51,782.55L374.51,782.22L375.51,781.89L376.51,781.57L377.51,781.25L378.51,780.93L379.51,780.61L380.51,780.3L381.51,779.98L382.51,779.66L383.51,779.35L384.51,779.03L385.51,778.72L386.51,778.41L387.51,778.09L388.51,777.78L389.51,777.46L390.51,777.14L391.51,776.82L392.51,776.5L393.51,776.18L394.51,775.86L395.51,775.53L396.51,775.21L397.51,774.87L398.51,774.54L399.51,774.2L400.51,773.86L401.51,773.52L402.51,773.18L403.51,772.84L404.51,772.5L405.51,772.15L406.51,771.81L407.51,771.47L408.51,771.13L409.51,770.79L410.51,770.45L411.51,770.12L412.51,769.79L413.51,769.46L414.51,769.14L415.51,768.82L416.51,768.5L417.51,768.2L418.51,767.9L419.51,767.6L420.51,767.31L421.51,767.02L422.51,766.74L423.51,766.47L424.51,766.2L425.51,765.93L426.51,765.67L427.51,765.41L428.51,765.16L429.51,764.91L430.51,764.66L431.51,764.42L432.51,764.19L433.51,763.96L434.51,763.74L435.51,763.53L436.51,763.32L437.51,763.13L438.51,762.94L439.51,762.75L440.51,762.56L441.51,762.38L442.51,762.19L443.51,762L444.51,761.81L445.51,761.61L446.51,761.4L447.51,761.19L448.51,760.96L449.51,760.72L450.51,760.46L451.51,760.19L452.51,759.9L453.51,759.58L454.51,759.23L455.51,758.85L456.51,758.44L457.51,758.01L458.51,757.55L459.51,757.07L460.51,756.56L461.51,756.04L462.51,755.5L463.51,754.96L464.51,754.4L465.51,753.84L466.51,753.27L467.51,752.7L468.51,752.13L469.51,751.56L470.51,750.99L471.51,750.4L472.51,749.81L473.51,749.2L474.51,748.58L475.51,747.94L476.51,747.3L477.51,746.64L478.51,745.98L479.51,745.32L480.51,744.66L481.51,743.99L482.51,743.34L483.51,742.69L484.51,742.05L485.51,741.42L486.51,740.81L487.51,740.21L488.51,739.64L489.51,739.08L490.51,738.55L491.51,738.03L492.51,737.54L493.51,737.05L494.51,736.58L495.51,736.13L496.51,735.68L497.51,735.24L498.51,734.81L499.51,734.38L500.51,733.96L501.51,733.54L502.51,733.11L503.51,732.69L504.51,732.26L505.51,731.83L506.51,731.39L507.51,730.95L508.51,730.49L509.51,730.02L510.51,729.54L511.51,729.04L512.51,728.53L513.51,728.02L514.51,727.52L515.51,727.02L516.51,726.55L517.51,726.08L518.51,725.63L519.51,725.19L520.51,724.76L521.51,724.35L522.51,723.99L523.51,723.69L524.51,723.47L525.51,723.34L526.51,723.33L527.51,723.43L528.51,723.63L529.51,723.92L530.51,724.27L531.51,724.65L532.51,725.05L533.51,725.46L534.51,725.86L535.51,726.26L536.51,726.66L537.51,727.03L538.51,727.36L539.51,727.61L540.51,727.78L541.51,727.85L542.51,727.81L543.51,727.69L544.51,727.49L545.51,727.22L546.51,726.91L547.51,726.54L548.51,726.13L549.51,725.67L550.51,725.13L551.51,724.51L552.51,723.79L553.51,722.99L554.51,722.12L555.51,721.21L556.51,720.3L557.51,719.42L558.51,718.59L559.51,717.81L560.51,717.09L561.51,716.41L562.51,715.77L563.51,715.16L564.51,714.61L565.51,714.14L566.51,713.76L567.51,713.51L568.51,713.4L569.51,713.45L570.51,713.64L571.51,713.97L572.51,714.41L573.51,714.93L574.51,715.5L575.51,716.1L576.51,716.73L577.51,717.39L578.51,718.08L579.51,718.79L580.51,719.5L581.51,720.2L582.51,720.84L583.51,721.42L584.51,721.91L585.51,722.32L586.51,722.67L587.51,722.97L588.51,723.24L589.51,723.46L590.51,723.65L591.51,723.8L592.51,723.9L593.51,723.95L594.51,723.96L595.51,723.92L596.51,723.84L597.51,723.73L598.51,723.58L599.51,723.42L600.51,723.24L601.51,723.04L602.51,722.84L603.51,722.64L604.51,722.43L605.51,722.23L606.51,722.03L607.51,721.82L608.51,721.61L609.51,721.38L610.51,721.15L611.51,720.9L612.51,720.64L613.51,720.36L614.51,720.07L615.51,719.75L616.51,719.4L617.51,719.02L618.51,718.61L619.51,718.15L620.51,717.64L621.51,717.07L622.51,716.45L623.51,715.75L624.51,714.97L625.51,714.09L626.51,713.08L627.51,711.91L628.51,710.57L629.51,709.04L630.51,707.32L631.51,705.41L632.51,703.3L633.51,700.98L634.51,698.43L635.51,695.72L636.51,692.9L637.51,690.05L638.51,687.22L639.51,684.45L640.51,681.77L641.51,679.2L642.51,676.79L643.51,674.58L644.51,672.62L645.51,670.91L646.51,669.44L647.51,668.22L648.51,667.27L649.51,666.62L650.51,666.31L651.51,666.33L652.51,666.67L653.51,667.28L654.51,668.09L655.51,669.09L656.51,670.25L657.51,671.58L658.51,673.05L659.51,674.62L660.51,676.23L661.51,677.79L662.51,679.26L663.51,680.62L664.51,681.87L665.51,683.02L666.51,684.08L667.51,685.04L668.51,685.89L669.51,686.65L670.51,687.3L671.51,687.87L672.51,688.37L673.51,688.83L674.51,689.24L675.51,689.61L676.51,689.96L677.51,690.27L678.51,690.56L679.51,690.82L680.51,691.06L681.51,691.27L682.51,691.46L683.51,691.64L684.51,691.8L685.51,691.96L686.51,692.12L687.51,692.29L688.51,692.48L689.51,692.69L690.51,692.93L691.51,693.21L692.51,693.52L693.51,693.85L694.51,694.22L695.51,694.6L696.51,695L697.51,695.41L698.51,695.83L699.51,696.26L700.51,696.69L701.51,697.13L702.51,697.58L703.51,698.04L704.51,698.52L705.51,699L706.51,699.49L707.51,699.99L708.51,700.48L709.51,700.97L710.51,701.44L711.51,701.91L712.51,702.37L713.51,702.8L714.51,703.22L715.51,703.63L716.51,704.01L717.51,704.38L718.51,704.75L719.51,705.1L720.51,705.44L721.51,705.78L722.51,706.1L723.51,706.43L724.51,706.75L725.51,707.07L726.51,707.38L727.51,707.7L728.51,708.01L729.51,708.33L730.51,708.65L731.51,708.97L732.51,709.3L733.51,709.62L734.51,709.95L735.51,710.28L736.51,710.61L737.51,710.93L738.51,711.25L739.51,711.55L740.51,711.84L741.51,712.12L742.51,712.39L743.51,712.64L744.51,712.87L745.51,713.09L746.51,713.31L747.51,713.52L748.51,713.72L749.51,713.92L750.51,714.12L751.51,714.31L752.51,714.49L753.51,714.65L754.51,714.8L755.51,714.94L756.51,715.05L757.51,715.14L758.51,715.2L759.51,715.24L760.51,715.26L761.51,715.25L762.51,715.22L763.51,715.18L764.51,715.12L765.51,715.05L766.51,714.97L767.51,714.87L768.51,714.78L769.51,714.67L770.51,714.56L771.51,714.44L772.51,714.32L773.51,714.19L774.51,714.06L775.51,713.91L776.51,713.74L777.51,713.56L778.51,713.36L779.51,713.14L780.51,712.89L781.51,712.6L782.51,712.26L783.51,711.87L784.51,711.4L785.51,710.85L786.51,710.22L787.51,709.5L788.51,708.71L789.51,707.82L790.51,706.82L791.51,705.71L792.51,704.46L793.51,703.08L794.51,701.56L795.51,699.93L796.51,698.18L797.51,696.32L798.51,694.33L799.51,692.21L800.51,689.95L801.51,687.56L802.51,685.05L803.51,682.44L804.51,679.74L805.51,676.95L806.51,674.07L807.51,671.13L808.51,668.17L809.51,665.24L810.51,662.38L811.51,659.63L812.51,657.01L813.51,654.58L814.51,652.34L815.51,650.34L816.51,648.56L817.51,647.02L818.51,645.71L819.51,644.64L820.51,643.82L821.51,643.25L822.51,642.92L823.51,642.86L824.51,643.08L825.51,643.58L826.51,644.37L827.51,645.42L828.51,646.76L829.51,648.39L830.51,650.28L831.51,652.43L832.51,654.79L833.51,657.36L834.51,660.11L835.51,663.06L836.51,666.22L837.51,669.58L838.51,673.14L839.51,676.9L840.51,680.82L841.51,684.86L842.51,688.98L843.51,693.14L844.51,697.31L845.51,701.44L846.51,705.49L847.51,709.42L848.51,713.21L849.51,716.86L850.51,720.38L851.51,723.78L852.51,727.08L853.51,730.28L854.51,733.4L855.51,736.43L856.51,739.39L857.51,742.28L858.51,745.08L859.51,747.78L860.51,750.35L861.51,752.77L862.51,755.03L863.51,757.15L864.51,759.13L865.51,760.98L866.51,762.72L867.51,764.35L868.51,765.86L869.51,767.27L870.51,768.57L871.51,769.77L872.51,770.88L873.51,771.92L874.51,772.91L875.51,773.87L876.51,774.82L877.51,775.77L878.51,776.72L879.51,777.67L880.51,778.62L881.51,779.59L882.51,780.59L883.51,781.66L884.51,782.81L885.51,784.06L886.51,785.44L887.51,786.93L888.51,788.52L889.51,790.2L890.51,791.93L891.51,793.69L892.51,795.45L893.51,797.23L894.51,799L895.51,800.79L896.51,802.58L897.51,804.39L898.51,806.21L899.51,808.03L900.51,809.85L901.51,811.67L902.51,813.48L903.51,815.27L904.51,817.06L905.51,818.83L906.51,820.59L907.51,822.34L908.51,824.08L909.51,825.82L910.51,827.54L911.51,829.26L912.51,830.97L913.51,832.66L914.51,834.33L915.51,835.99L916.51,837.62L917.51,839.23L918.51,840.8L919.51,842.35L920.51,843.87L921.51,845.36L922.51,846.84L923.51,848.3L924.51,849.76L925.51,851.23L926.51,852.71L927.51,854.2L928.51,855.73L929.51,857.3L930.51,858.91L931.51,860.6L932.51,862.34L933.51,863.95L934.51,865.35L935.51,866.61L936.51,867.81L937.51,868.96L938.51,870.04L939.51,871.14L940.51,872.29L941,872.88L941.2,873.12L941.4,873.36L941.6,873.6L941.8,873.84L942,874.08L942.2,874.31L942.4,874.55L942.6,874.78L942.8,875L943,875.22L943.2,875.44L943.4,875.65L943.6,875.85L943.8,876.05L944,876.23L944.2,876.41L944.4,876.59L944.6,876.76L944.8,876.94L945,877.13L945.2,877.31L945.4,877.5L945.6,877.69L945.8,877.87L946,878.05L946.2,878.23L946.4,878.41L946.6,878.58L946.8,878.74L947,878.9L947.2,879.05L947.4,879.18L947.6,879.31L947.8,879.42L948,879.53L948.2,879.61L948.4,879.68L948.6,879.74L948.8,879.78L949,879.8L949.2,879.8L949.4,879.77L949.6,879.73L949.8,879.66L950,879.57L950.2,879.47L950.4,879.34L950.6,879.21L950.8,879.05L951,878.89L951.2,878.71L951.4,878.53L951.6,878.33L951.8,878.13L952,877.92L952.2,877.71L952.4,877.49L952.6,877.22L952.8,876.91L953,876.56L953.2,876.17L953.4,875.74L953.6,875.27L953.8,874.77L954,874.24L954.2,873.68L954.4,873.1L954.6,872.49L954.8,871.81L955,871.07L955.2,870.23L955.4,869.32L955.6,868.3L955.8,867.18L956,865.96L956.2,864.56L956.4,862.71L956.6,860.52L956.8,858.14L957,855.75L957.2,853.48L957.4,851.24L957.6,848.94L957.8,846.52L958,843.9L958.2,841.01L958.4,837.86L958.6,834.51L958.8,831L959,827.19L959.2,823.11L959.4,819.04L959.6,815.31L959.8,812.12L960,809.02L960.2,805.48L960.4,801L960.6,794.18L960.8,785.43L961,776.87L961.2,769.13L961.4,760.68L961.6,749.84L961.8,733.54L962,704.83L962.2,668.48L962.4,631L962.6,594.22L962.8,554.33L963,509.4L963.2,452.31L963.4,386.26L963.6,324.78L963.8,277.62L964,231.7L964.2,187.42L964.4,148.55L964.6,118.9L964.8,102.26L965,102.36L965.2,119.62L965.4,150.11L965.6,189.6L965.8,233.87L966,278.69L966.2,322.34L966.4,374.51L966.6,431.07L966.8,485.28L967,531.86L967.2,574.7L967.4,613.55L967.6,647.93L967.8,681.72L968,712.15L968.2,735.34L968.4,748.66L968.6,757.72L968.8,764.75L969,770.89L969.2,777.32L969.4,785.14L969.6,793.87L969.8,801L970,805.92L970.2,809.97L970.4,813.51L970.6,816.88L970.8,820.44L971,824.52L971.2,829.05L971.4,833.73L971.6,838.22L971.8,842.2L972,845.45L972.2,848.32L972.4,850.94L972.6,853.37L972.8,855.63L973,857.8L973.2,859.9L973.4,861.96L973.6,863.97L973.8,865.89L974,867.71L974.2,869.41L974.4,870.97L974.6,872.4L974.8,873.77L975,875.08L975.2,876.34L975.4,877.54L975.6,878.66L975.8,879.72L976,880.7L976.2,881.59L976.4,882.4L976.6,883.15L976.8,883.86L977,884.55L977.2,885.21L977.4,885.84L977.6,886.45L977.8,887.01L978,887.55L978.2,888.06L978.4,888.53L978.6,888.96L978.8,889.36L979,889.73L979.2,890.06L979.4,890.38L979.6,890.68L979.8,890.98L980,891.26L980.2,891.52L980.4,891.78L980.6,892.03L980.8,892.26L981,892.49L981.2,892.71L981.4,892.91L981.6,893.11L981.8,893.3L982,893.48L982.2,893.65L982.4,893.82L982.6,893.98L982.8,894.13L983,894.27L983.2,894.41L983.4,894.55L983.6,894.68L983.8,894.8L984,894.92L984.2,895.04L984.4,895.15L984.6,895.27L984.8,895.37L985,895.48L985.2,895.58L985.4,895.67L985.6,895.77L985.8,895.86L986,895.95L986.2,896.03L986.4,896.12L986.6,896.2L986.8,896.28L987,896.36L987.2,896.44L987.4,896.51L987.6,896.59L987.8,896.66L988,896.72L988.2,896.79L988.4,896.86L988.6,896.92L988.8,896.98L989,897.04L989.2,897.1L989.4,897.16L989.6,897.22L989.8,897.27L990,897.33L990.2,897.38L990.4,897.44L990.6,897.49L990.8,897.55L991,897.6L991.2,897.65L991.4,897.71L991.6,897.76L991.8,897.81L992,897.87L992.2,897.92L992.4,897.97L992.6,898.03L992.8,898.08L993,898.13L993.2,898.18L993.4,898.23L993.6,898.28L993.8,898.33L994,898.38L994.2,898.43L994.4,898.47L994.6,898.52L994.8,898.57L995,898.62L995.2,898.66L995.4,898.71L995.6,898.75L995.8,898.79L996,898.84L996.2,898.88L996.4,898.92L996.6,898.96L996.8,899L997,899.04L997.2,899.08L997.4,899.12L997.6,899.16L997.8,899.19L998,899.23L998.2,899.26L998.4,899.3L998.6,899.33L998.8,899.37L999,899.4L999.2,899.43L999.4,899.47L999.6,899.5L999.8,899.53L1000,899.56L1000.2,899.59L1000.4,899.62L1000.6,899.65L1000.8,899.68L1001,899.71L1001.2,899.74L1001.4,899.77L1001.6,899.8L1001.8,899.83L1002,899.86L1002.2,899.89L1002.4,899.92L1002.6,899.95L1002.8,899.97L1003,900L1003.2,900.03L1003.4,900.06L1003.6,900.09L1003.8,900.12L1004,900.15L1004.2,900.18L1004.4,900.21L1004.6,900.23L1004.8,900.26L1005,900.29L1005.2,900.32L1005.4,900.35L1005.6,900.38L1005.8,900.42L1006,900.45L1006.2,900.48L1006.4,900.51L1006.6,900.54L1006.8,900.57L1007,900.6" fill="none" stroke="#1f77b4" stroke-width="4" stroke-linejoin="round"/>
</g>
<path d="M125.6,902.4V894.2M335.41,902.4V894.2M545.22,902.4V894.2M755.03,902.4V894.2M964.84,902.4V894.2M125.6,902.4H133.8M125.6,804.15H133.8M125.6,705.9H133.8M125.6,607.65H133.8M125.6,509.4H133.8" stroke="#000" stroke-width="2.4" fill="none"/>
<path d="M167.56,902.4V897.2M209.52,902.4V897.2M251.49,902.4V897.2M293.45,902.4V897.2M377.37,902.4V897.2M419.33,902.4V897.2M461.3,902.4V897.2M503.26,902.4V897.2M587.18,902.4V897.2M629.14,902.4V897.2M671.1,902.4V897.2M713.07,902.4V897.2M796.99,902.4V897.2M838.95,902.4V897.2M880.91,902.4V897.2M922.88,902.4V897.2M1006.8,902.4V897.2M125.6,869.65H130.8M125.6,836.9H130.8M125.6,771.4H130.8M125.6,738.65H130.8M125.6,673.15H130.8M125.6,640.4H130.8M125.6,574.9H130.8M125.6,542.15H130.8" stroke="#000" stroke-width="1.9" fill="none"/>
<rect x="125.6" y="509.4" width="881.2" height="393" fill="none" stroke="#000" stroke-width="2.5"/>
<text x="125.6" y="928.9" font-size="24.3" text-anchor="middle">−200</text>
<text x="335.41" y="928.9" font-size="24.3" text-anchor="middle">−150</text>
<text x="545.22" y="928.9" font-size="24.3" text-anchor="middle">−100</text>
<text x="755.03" y="928.9" font-size="24.3" text-anchor="middle">−50</text>
<text x="964.84" y="928.9" font-size="24.3" text-anchor="middle">0</text>
<text x="117.2" y="911.4" font-size="24.3" text-anchor="end">0.000</text>
<text x="117.2" y="813.15" font-size="24.3" text-anchor="end">0.003</text>
<text x="117.2" y="714.9" font-size="24.3" text-anchor="end">0.006</text>
<text x="117.2" y="616.65" font-size="24.3" text-anchor="end">0.009</text>
<text x="117.2" y="518.4" font-size="24.3" text-anchor="end">0.012</text>
<text x="566.5" y="965" font-size="28.7" text-anchor="middle">Energy shift from ZPL (meV)</text>
<text transform="translate(182.2,555.1) scale(0.88,1)" font-size="39" font-style="italic" stroke="#000" stroke-width="0.45">h</text>
<text transform="translate(202.6,555.1) scale(0.88,1)" font-size="39" font-style="italic" stroke="#000" stroke-width="0.45">k</text>
<text transform="translate(217,555.8) scale(1.125,1)" font-size="44">–</text>
<text transform="translate(240.9,555.1) scale(0.95,1)" font-size="40.6">VV</text>
<text transform="translate(293.5,541.1) scale(0.92,1)" font-size="33" style="font-family:'Liberation Serif','DejaVu Serif',serif">0</text>
<rect x="179.6" y="566.7" width="59.5" height="22.1" fill="#bfbfbf"/>
<path d="M179,619.6h61" stroke="#1f77b4" stroke-width="4.2" fill="none"/>
<text x="260.4" y="587.5" font-size="28.7">Jin (2021)</text>
<text x="260.4" y="629.5" font-size="28.7">HR theory</text>
<g clip-path="url(#c11)">
<path d="M1109.01,878.72L1120.27,875.71L1120.52,887.48L1127.77,874.96L1136.53,866.21L1145.29,866.71L1150.3,882.47L1155.3,876.22L1156.55,862.45L1159.56,863.2L1162.81,869.96L1168.56,847.44L1176.57,876.22L1183.58,863.7L1187.83,873.71L1190.34,873.71L1191.59,859.95L1196.59,849.19L1201.6,864.95L1209.11,869.96L1212.11,876.72L1221.12,846.69L1225.37,873.71L1227.87,860.7L1232.13,867.46L1234.63,850.69L1238.63,833.17L1242.89,847.44L1245.39,853.69L1250.4,823.66L1260.41,867.46L1262.91,845.68L1267.91,859.95L1271.17,839.18L1277.92,802.39L1280.43,833.67L1287.93,831.17L1291.19,818.66L1296.19,836.18L1298.69,814.9L1302.95,836.18L1308.7,810.65L1311.21,821.16L1314.71,806.15L1316.71,819.91L1324.22,822.41L1327.47,787.38L1332.98,829.92L1339.24,789.88L1344.74,812.4L1350.5,818.66L1351.75,804.14L1363.01,817.41L1365.51,803.64L1369.77,791.13L1373.02,798.14L1378.77,784.87L1382.28,801.14L1389.29,769.11L1394.29,818.66L1399.3,823.16L1409.31,785.62L1413.81,801.14L1423.82,798.14L1424.32,813.15L1430.58,801.14L1435.58,764.85L1439.34,796.14L1443.09,786.13L1448.84,791.13L1452.35,764.1L1459.36,778.62L1463.11,790.63L1466.36,791.13L1471.87,747.34L1474.37,771.11L1477.37,769.11L1484.38,743.58L1492.39,728.07L1493,736.08L1495.5,748.59L1500.51,741.08L1504.26,711.05L1506.76,709.8L1511.02,721.06L1511.77,738.58L1515.52,744.08L1523.03,740.58L1524.28,749.84L1529.29,763.6L1530.54,780.62L1533.04,756.1L1534.29,757.35L1539.3,742.33L1543.05,738.58L1548.06,724.81L1551.06,732.32L1554.31,747.34L1558.57,742.33L1561.82,744.83L1566.82,758.6L1574.33,759.1L1576.08,769.11L1580.59,762.35L1585.59,756.1L1591.1,771.11L1593.1,759.1L1595.6,761.1L1597.6,746.09L1601.11,742.33L1603.11,721.06L1606.86,713.55L1610.62,746.09L1615.62,720.21L1623.13,705.19L1629.39,686.43L1631.14,686.43L1632.64,650.14L1634.64,626.37L1636.89,645.13L1638.15,665.15L1643.15,660.15L1649.41,626.37L1651.91,672.66L1659.42,661.4L1661.92,682.67L1668.18,656.4L1677.68,655.14L1684.44,685.17L1685.69,697.69L1689.45,707.7L1690.7,721.46L1696.95,722.71L1698.21,707.7L1704.46,673.91L1706.96,697.69L1709.47,691.43L1713.22,722.71L1715.72,725.21L1718.23,717.71L1723.23,731.47L1725.23,743.98L1726.98,722.71L1728.24,735.22L1734.49,725.21L1736.99,746.49L1742,747.99L1743.25,731.47L1748.26,702.69L1753.26,671.41L1755.26,685.17L1760.77,650.14L1765.77,686.43L1773.28,650.14L1782.04,621.36L1790.8,616.36L1793.3,592.58L1797.05,559.55L1798.31,585.07L1803.31,582.57L1805.31,570.06L1814.57,580.07L1815.82,595.08L1818.33,607.6L1820.33,622.61L1821.33,647.64L1825.83,667.66L1828.84,653.14L1834.59,665.15L1837.09,654.64L1840.85,675.16L1842.1,700.19L1846.35,687.68L1848.36,722.71L1850.86,753.49L1855.86,771.11L1859.62,806.65L1869.63,804.14L1872.13,768.61L1874.63,767.36L1880.39,774.86L1880.89,811.15L1890.9,817.41L1893.4,808.15L1898.41,819.91L1900.91,846.19L1903.41,839.93L1908.42,863.7L1910.42,835.67L1913.42,853.69L1918.43,837.43L1920.93,853.69L1923.43,847.44L1925.93,823.66L1929.69,768.61L1932.19,743.58L1934.69,707.7L1937.19,675.16L1939.7,600.09L1940.95,532.52L1942.7,424.91L1958.97,424.91L1959.72,527.52L1960.97,562.55L1963.47,625.11L1964.72,675.16L1966.72,712.7L1968.98,712.7L1969.73,743.98L1972.23,803.64L1974.73,816.16L1977.23,836.18L1979.74,851.19L1980.99,873.71L1989.75,877.47L1992,881.22L1992,902.4L1109.01,902.4Z" fill="#bfbfbf" stroke="#bfbfbf" stroke-width="0.4" stroke-linejoin="round"/>
<path d="M1109.01,858.01L1110.01,857.86L1111.01,857.68L1112.01,857.46L1113.01,857.23L1114.01,856.99L1115.01,856.75L1116.01,856.51L1117.01,856.27L1118.01,856.03L1119.01,855.79L1120.01,855.54L1121.01,855.3L1122.01,855.06L1123.01,854.82L1124.01,854.58L1125.01,854.34L1126.01,854.1L1127.01,853.87L1128.01,853.63L1129.01,853.39L1130.01,853.15L1131.01,852.91L1132.01,852.67L1133.01,852.43L1134.01,852.19L1135.01,851.95L1136.01,851.72L1137.01,851.48L1138.01,851.24L1139.01,851L1140.01,850.76L1141.01,850.53L1142.01,850.29L1143.01,850.05L1144.01,849.81L1145.01,849.58L1146.01,849.34L1147.01,849.1L1148.01,848.87L1149.01,848.63L1150.01,848.39L1151.01,848.16L1152.01,847.92L1153.01,847.68L1154.01,847.45L1155.01,847.21L1156.01,846.97L1157.01,846.74L1158.01,846.5L1159.01,846.26L1160.01,846.02L1161.01,845.78L1162.01,845.54L1163.01,845.3L1164.01,845.06L1165.01,844.83L1166.01,844.59L1167.01,844.35L1168.01,844.11L1169.01,843.87L1170.01,843.63L1171.01,843.39L1172.01,843.15L1173.01,842.92L1174.01,842.68L1175.01,842.44L1176.01,842.21L1177.01,841.97L1178.01,841.74L1179.01,841.51L1180.01,841.28L1181.01,841.05L1182.01,840.82L1183.01,840.59L1184.01,840.36L1185.01,840.13L1186.01,839.91L1187.01,839.69L1188.01,839.46L1189.01,839.24L1190.01,839.02L1191.01,838.81L1192.01,838.59L1193.01,838.38L1194.01,838.16L1195.01,837.95L1196.01,837.74L1197.01,837.54L1198.01,837.33L1199.01,837.12L1200.01,836.92L1201.01,836.71L1202.01,836.51L1203.01,836.31L1204.01,836.11L1205.01,835.91L1206.01,835.71L1207.01,835.51L1208.01,835.32L1209.01,835.12L1210.01,834.92L1211.01,834.73L1212.01,834.53L1213.01,834.33L1214.01,834.14L1215.01,833.94L1216.01,833.75L1217.01,833.55L1218.01,833.36L1219.01,833.16L1220.01,832.97L1221.01,832.77L1222.01,832.58L1223.01,832.38L1224.01,832.18L1225.01,831.99L1226.01,831.79L1227.01,831.59L1228.01,831.39L1229.01,831.2L1230.01,831L1231.01,830.8L1232.01,830.61L1233.01,830.41L1234.01,830.22L1235.01,830.03L1236.01,829.84L1237.01,829.65L1238.01,829.46L1239.01,829.27L1240.01,829.08L1241.01,828.89L1242.01,828.7L1243.01,828.5L1244.01,828.31L1245.01,828.11L1246.01,827.91L1247.01,827.71L1248.01,827.5L1249.01,827.29L1250.01,827.08L1251.01,826.86L1252.01,826.64L1253.01,826.42L1254.01,826.19L1255.01,825.96L1256.01,825.72L1257.01,825.48L1258.01,825.23L1259.01,824.98L1260.01,824.73L1261.01,824.47L1262.01,824.21L1263.01,823.94L1264.01,823.67L1265.01,823.4L1266.01,823.12L1267.01,822.83L1268.01,822.54L1269.01,822.25L1270.01,821.95L1271.01,821.64L1272.01,821.34L1273.01,821.02L1274.01,820.7L1275.01,820.37L1276.01,820.04L1277.01,819.7L1278.01,819.35L1279.01,819L1280.01,818.63L1281.01,818.26L1282.01,817.88L1283.01,817.49L1284.01,817.09L1285.01,816.69L1286.01,816.27L1287.01,815.84L1288.01,815.4L1289.01,814.95L1290.01,814.48L1291.01,813.99L1292.01,813.49L1293.01,812.96L1294.01,812.42L1295.01,811.86L1296.01,811.29L1297.01,810.72L1298.01,810.14L1299.01,809.57L1300.01,808.99L1301.01,808.42L1302.01,807.86L1303.01,807.31L1304.01,806.76L1305.01,806.22L1306.01,805.68L1307.01,805.13L1308.01,804.59L1309.01,804.05L1310.01,803.51L1311.01,802.98L1312.01,802.45L1313.01,801.94L1314.01,801.44L1315.01,800.96L1316.01,800.5L1317.01,800.07L1318.01,799.65L1319.01,799.26L1320.01,798.89L1321.01,798.54L1322.01,798.2L1323.01,797.88L1324.01,797.57L1325.01,797.27L1326.01,796.98L1327.01,796.7L1328.01,796.43L1329.01,796.16L1330.01,795.91L1331.01,795.66L1332.01,795.41L1333.01,795.18L1334.01,794.95L1335.01,794.72L1336.01,794.5L1337.01,794.29L1338.01,794.08L1339.01,793.88L1340.01,793.69L1341.01,793.5L1342.01,793.31L1343.01,793.12L1344.01,792.94L1345.01,792.76L1346.01,792.59L1347.01,792.41L1348.01,792.24L1349.01,792.06L1350.01,791.89L1351.01,791.71L1352.01,791.53L1353.01,791.35L1354.01,791.17L1355.01,790.99L1356.01,790.8L1357.01,790.62L1358.01,790.43L1359.01,790.25L1360.01,790.06L1361.01,789.87L1362.01,789.68L1363.01,789.5L1364.01,789.31L1365.01,789.12L1366.01,788.94L1367.01,788.75L1368.01,788.57L1369.01,788.39L1370.01,788.21L1371.01,788.03L1372.01,787.85L1373.01,787.67L1374.01,787.5L1375.01,787.33L1376.01,787.16L1377.01,787L1378.01,786.83L1379.01,786.68L1380.01,786.52L1381.01,786.37L1382.01,786.22L1383.01,786.08L1384.01,785.94L1385.01,785.8L1386.01,785.67L1387.01,785.54L1388.01,785.41L1389.01,785.28L1390.01,785.15L1391.01,785.02L1392.01,784.89L1393.01,784.76L1394.01,784.63L1395.01,784.5L1396.01,784.37L1397.01,784.23L1398.01,784.09L1399.01,783.95L1400.01,783.8L1401.01,783.65L1402.01,783.49L1403.01,783.33L1404.01,783.16L1405.01,782.99L1406.01,782.81L1407.01,782.63L1408.01,782.44L1409.01,782.25L1410.01,782.05L1411.01,781.85L1412.01,781.64L1413.01,781.42L1414.01,781.2L1415.01,780.96L1416.01,780.72L1417.01,780.47L1418.01,780.2L1419.01,779.93L1420.01,779.64L1421.01,779.34L1422.01,779.03L1423.01,778.69L1424.01,778.34L1425.01,777.96L1426.01,777.56L1427.01,777.14L1428.01,776.68L1429.01,776.18L1430.01,775.64L1431.01,775.05L1432.01,774.41L1433.01,773.72L1434.01,772.98L1435.01,772.2L1436.01,771.4L1437.01,770.57L1438.01,769.72L1439.01,768.85L1440.01,767.96L1441.01,767.04L1442.01,766.1L1443.01,765.12L1444.01,764.11L1445.01,763.09L1446.01,762.04L1447.01,760.99L1448.01,759.94L1449.01,758.9L1450.01,757.86L1451.01,756.85L1452.01,755.86L1453.01,754.89L1454.01,753.95L1455.01,753.03L1456.01,752.12L1457.01,751.22L1458.01,750.33L1459.01,749.46L1460.01,748.6L1461.01,747.76L1462.01,746.96L1463.01,746.19L1464.01,745.47L1465.01,744.8L1466.01,744.17L1467.01,743.6L1468.01,743.06L1469.01,742.56L1470.01,742.1L1471.01,741.65L1472.01,741.24L1473.01,740.84L1474.01,740.45L1475.01,740.08L1476.01,739.73L1477.01,739.38L1478.01,739.04L1479.01,738.72L1480.01,738.4L1481.01,738.09L1482.01,737.8L1483.01,737.52L1484.01,737.24L1485.01,736.98L1486.01,736.71L1487.01,736.45L1488.01,736.19L1489.01,735.93L1490.01,735.66L1491.01,735.38L1492.01,735.1L1493.01,734.8L1494.01,734.5L1495.01,734.18L1496.01,733.86L1497.01,733.53L1498.01,733.18L1499.01,732.82L1500.01,732.44L1501.01,732.03L1502.01,731.59L1503.01,731.13L1504.01,730.69L1505.01,730.29L1506.01,729.97L1507.01,729.8L1508.01,729.8L1509.01,730.01L1510.01,730.42L1511.01,731.03L1512.01,731.77L1513.01,732.6L1514.01,733.48L1515.01,734.35L1516.01,735.23L1517.01,736.11L1518.01,736.98L1519.01,737.85L1520.01,738.66L1521.01,739.39L1522.01,739.99L1523.01,740.43L1524.01,740.72L1525.01,740.86L1526.01,740.89L1527.01,740.83L1528.01,740.73L1529.01,740.58L1530.01,740.41L1531.01,740.22L1532.01,740L1533.01,739.75L1534.01,739.46L1535.01,739.11L1536.01,738.73L1537.01,738.3L1538.01,737.84L1539.01,737.37L1540.01,736.9L1541.01,736.46L1542.01,736.03L1543.01,735.64L1544.01,735.27L1545.01,734.92L1546.01,734.59L1547.01,734.3L1548.01,734.07L1549.01,733.9L1550.01,733.83L1551.01,733.87L1552.01,734.03L1553.01,734.3L1554.01,734.66L1555.01,735.1L1556.01,735.56L1557.01,736.05L1558.01,736.53L1559.01,737.02L1560.01,737.51L1561.01,738.01L1562.01,738.5L1563.01,738.99L1564.01,739.47L1565.01,739.91L1566.01,740.31L1567.01,740.67L1568.01,740.98L1569.01,741.25L1570.01,741.5L1571.01,741.72L1572.01,741.93L1573.01,742.12L1574.01,742.29L1575.01,742.44L1576.01,742.57L1577.01,742.66L1578.01,742.72L1579.01,742.75L1580.01,742.73L1581.01,742.67L1582.01,742.57L1583.01,742.43L1584.01,742.26L1585.01,742.06L1586.01,741.83L1587.01,741.58L1588.01,741.31L1589.01,741.02L1590.01,740.72L1591.01,740.4L1592.01,740.05L1593.01,739.67L1594.01,739.25L1595.01,738.78L1596.01,738.27L1597.01,737.7L1598.01,737.07L1599.01,736.37L1600.01,735.57L1601.01,734.65L1602.01,733.59L1603.01,732.37L1604.01,730.98L1605.01,729.44L1606.01,727.76L1607.01,725.94L1608.01,724L1609.01,721.9L1610.01,719.63L1611.01,717.16L1612.01,714.48L1613.01,711.55L1614.01,708.36L1615.01,704.86L1616.01,701.05L1617.01,696.92L1618.01,692.51L1619.01,687.85L1620.01,682.97L1621.01,677.91L1622.01,672.73L1623.01,667.51L1624.01,662.33L1625.01,657.26L1626.01,652.41L1627.01,647.91L1628.01,643.94L1629.01,640.63L1630.01,638.04L1631.01,636.17L1632.01,635.02L1633.01,634.56L1634.01,634.81L1635.01,635.71L1636.01,637.23L1637.01,639.31L1638.01,641.91L1639.01,644.94L1640.01,648.3L1641.01,651.85L1642.01,655.46L1643.01,659.06L1644.01,662.61L1645.01,666.08L1646.01,669.44L1647.01,672.66L1648.01,675.73L1649.01,678.63L1650.01,681.36L1651.01,683.91L1652.01,686.28L1653.01,688.42L1654.01,690.34L1655.01,692.04L1656.01,693.55L1657.01,694.9L1658.01,696.12L1659.01,697.26L1660.01,698.33L1661.01,699.37L1662.01,700.38L1663.01,701.37L1664.01,702.36L1665.01,703.34L1666.01,704.31L1667.01,705.26L1668.01,706.19L1669.01,707.11L1670.01,708.01L1671.01,708.89L1672.01,709.75L1673.01,710.59L1674.01,711.42L1675.01,712.24L1676.01,713.03L1677.01,713.82L1678.01,714.6L1679.01,715.36L1680.01,716.11L1681.01,716.85L1682.01,717.57L1683.01,718.27L1684.01,718.95L1685.01,719.6L1686.01,720.23L1687.01,720.83L1688.01,721.4L1689.01,721.95L1690.01,722.48L1691.01,722.98L1692.01,723.46L1693.01,723.93L1694.01,724.37L1695.01,724.8L1696.01,725.2L1697.01,725.59L1698.01,725.95L1699.01,726.29L1700.01,726.61L1701.01,726.91L1702.01,727.2L1703.01,727.47L1704.01,727.73L1705.01,727.99L1706.01,728.26L1707.01,728.52L1708.01,728.8L1709.01,729.08L1710.01,729.38L1711.01,729.7L1712.01,730.04L1713.01,730.4L1714.01,730.77L1715.01,731.15L1716.01,731.53L1717.01,731.92L1718.01,732.31L1719.01,732.69L1720.01,733.07L1721.01,733.44L1722.01,733.83L1723.01,734.22L1724.01,734.6L1725.01,734.96L1726.01,735.28L1727.01,735.55L1728.01,735.73L1729.01,735.82L1730.01,735.79L1731.01,735.65L1732.01,735.39L1733.01,735.01L1734.01,734.53L1735.01,733.95L1736.01,733.24L1737.01,732.37L1738.01,731.3L1739.01,730.02L1740.01,728.53L1741.01,726.86L1742.01,725.08L1743.01,723.22L1744.01,721.31L1745.01,719.34L1746.01,717.32L1747.01,715.24L1748.01,713.12L1749.01,710.95L1750.01,708.75L1751.01,706.54L1752.01,704.32L1753.01,702.09L1754.01,699.84L1755.01,697.58L1756.01,695.31L1757.01,693.02L1758.01,690.73L1759.01,688.45L1760.01,686.19L1761.01,683.97L1762.01,681.8L1763.01,679.68L1764.01,677.61L1765.01,675.58L1766.01,673.6L1767.01,671.65L1768.01,669.75L1769.01,667.87L1770.01,666.04L1771.01,664.25L1772.01,662.51L1773.01,660.82L1774.01,659.17L1775.01,657.58L1776.01,656.03L1777.01,654.52L1778.01,653.04L1779.01,651.57L1780.01,650.1L1781.01,648.62L1782.01,647.1L1783.01,645.52L1784.01,643.89L1785.01,642.18L1786.01,640.42L1787.01,638.63L1788.01,636.86L1789.01,635.14L1790.01,633.52L1791.01,632.04L1792.01,630.72L1793.01,629.57L1794.01,628.57L1795.01,627.71L1796.01,626.98L1797.01,626.39L1798.01,625.98L1799.01,625.79L1800.01,625.83L1801.01,626.13L1802.01,626.67L1803.01,627.45L1804.01,628.45L1805.01,629.68L1806.01,631.17L1807.01,632.98L1808.01,635.12L1809.01,637.58L1810.01,640.3L1811.01,643.2L1812.01,646.21L1813.01,649.26L1814.01,652.35L1815.01,655.46L1816.01,658.62L1817.01,661.84L1818.01,665.1L1819.01,668.4L1820.01,671.72L1821.01,675.05L1822.01,678.37L1823.01,681.68L1824.01,684.99L1825.01,688.3L1826.01,691.61L1827.01,694.92L1828.01,698.22L1829.01,701.5L1830.01,704.74L1831.01,707.94L1832.01,711.08L1833.01,714.16L1834.01,717.18L1835.01,720.15L1836.01,723.06L1837.01,725.93L1838.01,728.75L1839.01,731.52L1840.01,734.24L1841.01,736.92L1842.01,739.53L1843.01,742.1L1844.01,744.61L1845.01,747.08L1846.01,749.49L1847.01,751.86L1848.01,754.18L1849.01,756.47L1850.01,758.72L1851.01,760.94L1852.01,763.13L1853.01,765.29L1854.01,767.42L1855.01,769.53L1856.01,771.61L1857.01,773.66L1858.01,775.68L1859.01,777.68L1860.01,779.64L1861.01,781.58L1862.01,783.5L1863.01,785.38L1864.01,787.23L1865.01,789.05L1866.01,790.85L1867.01,792.62L1868.01,794.36L1869.01,796.1L1870.01,797.82L1871.01,799.55L1872.01,801.28L1873.01,803.02L1874.01,804.77L1875.01,806.54L1876.01,808.31L1877.01,810.09L1878.01,811.87L1879.01,813.64L1880.01,815.38L1881.01,817.11L1882.01,818.8L1883.01,820.46L1884.01,822.1L1885.01,823.7L1886.01,825.28L1887.01,826.83L1888.01,828.35L1889.01,829.86L1890.01,831.33L1891.01,832.77L1892.01,834.18L1893.01,835.55L1894.01,836.89L1895.01,838.2L1896.01,839.5L1897.01,840.8L1898.01,842.11L1899.01,843.42L1900.01,844.74L1901.01,846.06L1902.01,847.38L1903.01,848.69L1904.01,849.97L1905.01,851.24L1906.01,852.49L1907.01,853.71L1908.01,854.91L1909.01,856.09L1910.01,857.26L1911.01,858.4L1912.01,859.53L1913.01,860.63L1914.01,861.7L1915.01,862.73L1916.01,863.76L1917.01,864.82L1918.01,865.79L1919.01,866.76L1920.01,867.72L1921,868.66L1921.2,868.84L1921.4,869.02L1921.6,869.2L1921.8,869.38L1922,869.55L1922.2,869.72L1922.4,869.89L1922.6,870.05L1922.8,870.21L1923,870.37L1923.2,870.52L1923.4,870.67L1923.6,870.82L1923.8,870.96L1924,871.09L1924.2,871.22L1924.4,871.35L1924.6,871.47L1924.8,871.59L1925,871.7L1925.2,871.81L1925.4,871.92L1925.6,872.03L1925.8,872.14L1926,872.26L1926.2,872.37L1926.4,872.48L1926.6,872.59L1926.8,872.7L1927,872.81L1927.2,872.92L1927.4,873.02L1927.6,873.12L1927.8,873.21L1928,873.3L1928.2,873.39L1928.4,873.47L1928.6,873.55L1928.8,873.62L1929,873.68L1929.2,873.73L1929.4,873.78L1929.6,873.82L1929.8,873.86L1930,873.88L1930.2,873.9L1930.4,873.9L1930.6,873.89L1930.8,873.85L1931,873.78L1931.2,873.7L1931.4,873.59L1931.6,873.45L1931.8,873.3L1932,873.13L1932.2,872.94L1932.4,872.73L1932.6,872.51L1932.8,872.27L1933,872.01L1933.2,871.75L1933.4,871.47L1933.6,871.18L1933.8,870.88L1934,870.57L1934.2,870.25L1934.4,869.93L1934.6,869.6L1934.8,869.23L1935,868.79L1935.2,868.28L1935.4,867.7L1935.6,867.07L1935.8,866.38L1936,865.64L1936.2,864.86L1936.4,864.03L1936.6,863.16L1936.8,862.26L1937,861.34L1937.2,860.38L1937.4,859.4L1937.6,858.34L1937.8,857.19L1938,855.94L1938.2,854.61L1938.4,853.2L1938.6,851.7L1938.8,850.11L1939,848.44L1939.2,846.68L1939.4,844.85L1939.6,842.89L1939.8,840.63L1940,838.09L1940.2,835.34L1940.4,832.46L1940.6,829.52L1940.8,826.6L1941,823.76L1941.2,821.12L1941.4,818.89L1941.6,816.9L1941.8,814.94L1942,812.81L1942.2,810.3L1942.4,807.21L1942.6,803.31L1942.8,797.69L1943,786.68L1943.2,771.65L1943.4,754L1943.6,730.41L1943.8,700L1944,652.23L1944.2,589.51L1944.4,531.03L1944.6,492.1L1944.8,460.82L1945,433.25L1945.2,408.59L1945.4,386.01L1945.6,364.68L1945.8,343.78L1946,322.5L1946.2,300L1946.4,274.67L1946.6,246.48L1946.8,216.98L1947,187.74L1947.2,160.31L1947.4,136.27L1947.6,117.16L1947.8,104.55L1948,100L1948.2,104.32L1948.4,116.37L1948.6,134.75L1948.8,158.06L1949,184.92L1949.2,213.94L1949.4,243.72L1949.6,272.87L1949.8,300L1950,325.85L1950.2,352.38L1950.4,379.98L1950.6,409.07L1950.8,440.06L1951,473.37L1951.2,509.4L1951.4,554.24L1951.6,607.31L1951.8,659.08L1952,700L1952.2,728.75L1952.4,752.42L1952.6,774.66L1952.8,795.4L1953,803.79L1953.2,808.01L1953.4,810.96L1953.6,813.3L1953.8,815.69L1954,818.63L1954.2,821.65L1954.4,824.63L1954.6,827.54L1954.8,830.37L1955,833.1L1955.2,835.76L1955.4,838.39L1955.6,840.95L1955.8,843.43L1956,845.82L1956.2,848.1L1956.4,850.28L1956.6,852.41L1956.8,854.49L1957,856.52L1957.2,858.48L1957.4,860.35L1957.6,862.12L1957.8,863.77L1958,865.3L1958.2,866.74L1958.4,868.14L1958.6,869.5L1958.8,870.81L1959,872.07L1959.2,873.28L1959.4,874.43L1959.6,875.52L1959.8,876.54L1960,877.5L1960.2,878.39L1960.4,879.2L1960.6,879.96L1960.8,880.68L1961,881.38L1961.2,882.04L1961.4,882.68L1961.6,883.28L1961.8,883.86L1962,884.4L1962.2,884.92L1962.4,885.41L1962.6,885.87L1962.8,886.3L1963,886.7L1963.2,887.08L1963.4,887.45L1963.6,887.81L1963.8,888.16L1964,888.5L1964.2,888.82L1964.4,889.14L1964.6,889.44L1964.8,889.73L1965,890.02L1965.2,890.29L1965.4,890.55L1965.6,890.8L1965.8,891.04L1966,891.27L1966.2,891.49L1966.4,891.71L1966.6,891.91L1966.8,892.1L1967,892.29L1967.2,892.47L1967.4,892.65L1967.6,892.83L1967.8,893L1968,893.17L1968.2,893.34L1968.4,893.5L1968.6,893.66L1968.8,893.82L1969,893.97L1969.2,894.12L1969.4,894.26L1969.6,894.41L1969.8,894.55L1970,894.68L1970.2,894.82L1970.4,894.95L1970.6,895.07L1970.8,895.19L1971,895.31L1971.2,895.43L1971.4,895.54L1971.6,895.65L1971.8,895.76L1972,895.86L1972.2,895.96L1972.4,896.05L1972.6,896.14L1972.8,896.23L1973,896.32L1973.2,896.4L1973.4,896.48L1973.6,896.56L1973.8,896.63L1974,896.71L1974.2,896.78L1974.4,896.85L1974.6,896.92L1974.8,896.99L1975,897.06L1975.2,897.12L1975.4,897.19L1975.6,897.25L1975.8,897.31L1976,897.37L1976.2,897.43L1976.4,897.49L1976.6,897.55L1976.8,897.6L1977,897.66L1977.2,897.71L1977.4,897.76L1977.6,897.82L1977.8,897.87L1978,897.92L1978.2,897.96L1978.4,898.01L1978.6,898.06L1978.8,898.1L1979,898.15L1979.2,898.19L1979.4,898.24L1979.6,898.28L1979.8,898.32L1980,898.36L1980.2,898.4L1980.4,898.44L1980.6,898.48L1980.8,898.52L1981,898.56L1981.2,898.59L1981.4,898.63L1981.6,898.67L1981.8,898.7L1982,898.74L1982.2,898.77L1982.4,898.8L1982.6,898.84L1982.8,898.87L1983,898.9L1983.2,898.93L1983.4,898.96L1983.6,898.99L1983.8,899.02L1984,899.05L1984.2,899.08L1984.4,899.11L1984.6,899.14L1984.8,899.17L1985,899.19L1985.2,899.22L1985.4,899.25L1985.6,899.27L1985.8,899.3L1986,899.33L1986.2,899.35L1986.4,899.38L1986.6,899.4L1986.8,899.43L1987,899.45L1987.2,899.48L1987.4,899.5L1987.6,899.53L1987.8,899.55L1988,899.58L1988.2,899.6L1988.4,899.62L1988.6,899.65L1988.8,899.67L1989,899.69L1989.2,899.72L1989.4,899.74L1989.6,899.76L1989.8,899.78L1990,899.8L1990.2,899.82L1990.4,899.84L1990.6,899.86L1990.8,899.88L1991,899.9" fill="none" stroke="#1f77b4" stroke-width="4" stroke-linejoin="round"/>
</g>
<path d="M1109.2,902.4V894.2M1319.01,902.4V894.2M1528.82,902.4V894.2M1738.63,902.4V894.2M1948.44,902.4V894.2M1109.2,902.4H1117.4M1109.2,804.15H1117.4M1109.2,705.9H1117.4M1109.2,607.65H1117.4M1109.2,509.4H1117.4" stroke="#000" stroke-width="2.4" fill="none"/>
<path d="M1151.16,902.4V897.2M1193.12,902.4V897.2M1235.09,902.4V897.2M1277.05,902.4V897.2M1360.97,902.4V897.2M1402.93,902.4V897.2M1444.9,902.4V897.2M1486.86,902.4V897.2M1570.78,902.4V897.2M1612.74,902.4V897.2M1654.7,902.4V897.2M1696.67,902.4V897.2M1780.59,902.4V897.2M1822.55,902.4V897.2M1864.51,902.4V897.2M1906.48,902.4V897.2M1990.4,902.4V897.2M1109.2,869.65H1114.4M1109.2,836.9H1114.4M1109.2,771.4H1114.4M1109.2,738.65H1114.4M1109.2,673.15H1114.4M1109.2,640.4H1114.4M1109.2,574.9H1114.4M1109.2,542.15H1114.4" stroke="#000" stroke-width="1.9" fill="none"/>
<rect x="1109.2" y="509.4" width="881.2" height="393" fill="none" stroke="#000" stroke-width="2.5"/>
<text x="1109.2" y="928.9" font-size="24.3" text-anchor="middle">−200</text>
<text x="1319.01" y="928.9" font-size="24.3" text-anchor="middle">−150</text>
<text x="1528.82" y="928.9" font-size="24.3" text-anchor="middle">−100</text>
<text x="1738.63" y="928.9" font-size="24.3" text-anchor="middle">−50</text>
<text x="1948.44" y="928.9" font-size="24.3" text-anchor="middle">0</text>
<text x="1100.8" y="911.4" font-size="24.3" text-anchor="end">0.000</text>
<text x="1100.8" y="813.15" font-size="24.3" text-anchor="end">0.003</text>
<text x="1100.8" y="714.9" font-size="24.3" text-anchor="end">0.006</text>
<text x="1100.8" y="616.65" font-size="24.3" text-anchor="end">0.009</text>
<text x="1100.8" y="518.4" font-size="24.3" text-anchor="end">0.012</text>
<text x="1550.1" y="965" font-size="28.7" text-anchor="middle">Energy shift from ZPL (meV)</text>
<text transform="translate(1165.7,555.1) scale(0.88,1)" font-size="39" font-style="italic" stroke="#000" stroke-width="0.45">k</text>
<text transform="translate(1185.4,555.1) scale(0.88,1)" font-size="39" font-style="italic" stroke="#000" stroke-width="0.45">h</text>
<text transform="translate(1201.3,555.8) scale(1.125,1)" font-size="44">–</text>
<text transform="translate(1224.4,555.1) scale(0.95,1)" font-size="40.6">VV</text>
<text transform="translate(1277,541.1) scale(0.92,1)" font-size="33" style="font-family:'Liberation Serif','DejaVu Serif',serif">0</text>
<rect x="1163.2" y="566.7" width="59.5" height="22.1" fill="#bfbfbf"/>
<path d="M1162.6,619.6h61" stroke="#1f77b4" stroke-width="4.2" fill="none"/>
<text x="1244" y="587.5" font-size="28.7">Shang (2021)</text>
<text x="1244" y="629.5" font-size="28.7">HR theory</text>
<text x="740.85" y="607.04" font-size="45" text-anchor="middle">*</text>
<text transform="translate(26.4,486.3) rotate(-90)" font-size="28.8" text-anchor="middle">Luminescence (meV<tspan font-size="20.2" dy="-11">−1</tspan><tspan dy="11">)</tspan></text>
</svg></body></html>
